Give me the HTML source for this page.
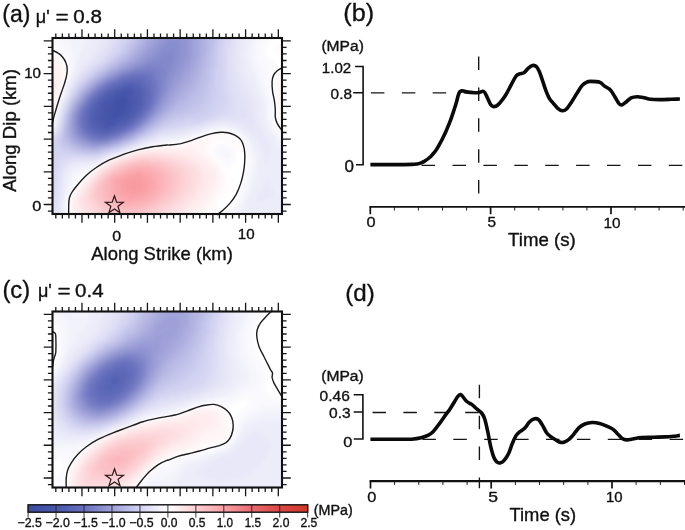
<!DOCTYPE html><html><head><meta charset="utf-8"><title>Figure</title><style>html,body{margin:0;padding:0;background:#fff}svg{display:block}text{font-family:"Liberation Sans", sans-serif;fill:#111;stroke:#111;stroke-width:0.35px;stroke-linejoin:round}</style></head><body>
<svg width="685" height="530" viewBox="0 0 685 530">
<defs><filter id="blur" x="-5%" y="-5%" width="110%" height="110%"><feGaussianBlur stdDeviation="2"/></filter></defs>
<rect width="685" height="530" fill="#fff"/>
<clipPath id="clipa"><rect x="52.5" y="38" width="229.5" height="176"/></clipPath>
<g clip-path="url(#clipa)"><g filter="url(#blur)">
<rect x="40.5" y="26" width="253.5" height="200" fill="#fff"/>
<path fill="#4050a5" d="M115.3 103.8h9.4v3.4h-9.4zM115.3 106.8h6.4v3.4h-6.4z"/>
<path fill="#4151a6" d="M115.3 97.8h12.4v3.4h-12.4zM112.3 100.8h18.4v3.4h-18.4zM109.3 103.8h6.4v3.4h-6.4zM124.3 103.8h3.4v3.4h-3.4zM109.3 106.8h6.4v3.4h-6.4zM121.3 106.8h6.4v3.4h-6.4zM109.3 109.8h15.4v3.4h-15.4zM112.3 112.8h9.4v3.4h-9.4z"/>
<path fill="#4252a7" d="M118.3 94.8h12.4v3.4h-12.4zM112.3 97.8h3.4v3.4h-3.4zM127.3 97.8h3.4v3.4h-3.4zM109.3 100.8h3.4v3.4h-3.4zM130.3 100.8h3.4v3.4h-3.4zM106.3 103.8h3.4v3.4h-3.4zM127.3 103.8h3.4v3.4h-3.4zM103.3 106.8h6.4v3.4h-6.4zM127.3 106.8h3.4v3.4h-3.4zM103.3 109.8h6.4v3.4h-6.4zM124.3 109.8h3.4v3.4h-3.4zM103.3 112.8h9.4v3.4h-9.4zM121.3 112.8h3.4v3.4h-3.4zM106.3 115.8h15.4v3.4h-15.4z"/>
<path fill="#4454a8" d="M121.3 91.8h6.4v3.4h-6.4zM112.3 94.8h6.4v3.4h-6.4zM130.3 94.8h3.4v3.4h-3.4zM109.3 97.8h3.4v3.4h-3.4zM130.3 97.8h3.4v3.4h-3.4zM106.3 100.8h3.4v3.4h-3.4zM103.3 103.8h3.4v3.4h-3.4zM130.3 103.8h3.4v3.4h-3.4zM100.3 106.8h3.4v3.4h-3.4zM130.3 106.8h3.4v3.4h-3.4zM100.3 109.8h3.4v3.4h-3.4zM127.3 109.8h3.4v3.4h-3.4zM100.3 112.8h3.4v3.4h-3.4zM124.3 112.8h3.4v3.4h-3.4zM100.3 115.8h6.4v3.4h-6.4zM121.3 115.8h3.4v3.4h-3.4zM103.3 118.8h15.4v3.4h-15.4z"/>
<path fill="#4555aa" d="M115.3 91.8h6.4v3.4h-6.4zM127.3 91.8h6.4v3.4h-6.4zM109.3 94.8h3.4v3.4h-3.4zM133.3 94.8h3.4v3.4h-3.4zM106.3 97.8h3.4v3.4h-3.4zM133.3 97.8h3.4v3.4h-3.4zM103.3 100.8h3.4v3.4h-3.4zM133.3 100.8h3.4v3.4h-3.4zM100.3 103.8h3.4v3.4h-3.4zM133.3 103.8h3.4v3.4h-3.4zM97.3 109.8h3.4v3.4h-3.4zM130.3 109.8h3.4v3.4h-3.4zM97.3 112.8h3.4v3.4h-3.4zM127.3 112.8h3.4v3.4h-3.4zM97.3 115.8h3.4v3.4h-3.4zM124.3 115.8h3.4v3.4h-3.4zM100.3 118.8h3.4v3.4h-3.4zM118.3 118.8h3.4v3.4h-3.4zM103.3 121.8h12.4v3.4h-12.4z"/>
<path fill="#4757ab" d="M121.3 88.8h12.4v3.4h-12.4zM112.3 91.8h3.4v3.4h-3.4zM133.3 91.8h3.4v3.4h-3.4zM103.3 97.8h3.4v3.4h-3.4zM136.3 97.8h3.4v3.4h-3.4zM100.3 100.8h3.4v3.4h-3.4zM136.3 100.8h3.4v3.4h-3.4zM97.3 106.8h3.4v3.4h-3.4zM133.3 106.8h3.4v3.4h-3.4zM94.3 112.8h3.4v3.4h-3.4zM94.3 115.8h3.4v3.4h-3.4zM97.3 118.8h3.4v3.4h-3.4zM121.3 118.8h3.4v3.4h-3.4zM100.3 121.8h3.4v3.4h-3.4zM115.3 121.8h3.4v3.4h-3.4z"/>
<path fill="#4858ac" d="M115.3 88.8h6.4v3.4h-6.4zM133.3 88.8h3.4v3.4h-3.4zM109.3 91.8h3.4v3.4h-3.4zM136.3 91.8h3.4v3.4h-3.4zM106.3 94.8h3.4v3.4h-3.4zM136.3 94.8h3.4v3.4h-3.4zM97.3 103.8h3.4v3.4h-3.4zM136.3 103.8h3.4v3.4h-3.4zM94.3 106.8h3.4v3.4h-3.4zM94.3 109.8h3.4v3.4h-3.4zM133.3 109.8h3.4v3.4h-3.4zM130.3 112.8h3.4v3.4h-3.4zM127.3 115.8h3.4v3.4h-3.4zM94.3 118.8h3.4v3.4h-3.4zM124.3 118.8h3.4v3.4h-3.4zM97.3 121.8h3.4v3.4h-3.4zM118.3 121.8h3.4v3.4h-3.4zM100.3 124.8h15.4v3.4h-15.4z"/>
<path fill="#4b5aae" d="M121.3 85.8h12.4v3.4h-12.4zM112.3 88.8h3.4v3.4h-3.4zM136.3 88.8h3.4v3.4h-3.4zM103.3 94.8h3.4v3.4h-3.4zM139.3 94.8h3.4v3.4h-3.4zM100.3 97.8h3.4v3.4h-3.4zM139.3 97.8h3.4v3.4h-3.4zM97.3 100.8h3.4v3.4h-3.4zM139.3 100.8h3.4v3.4h-3.4zM136.3 106.8h3.4v3.4h-3.4zM91.3 112.8h3.4v3.4h-3.4zM133.3 112.8h3.4v3.4h-3.4zM91.3 115.8h3.4v3.4h-3.4zM130.3 115.8h3.4v3.4h-3.4zM91.3 118.8h3.4v3.4h-3.4zM94.3 121.8h3.4v3.4h-3.4zM121.3 121.8h3.4v3.4h-3.4zM97.3 124.8h3.4v3.4h-3.4zM115.3 124.8h3.4v3.4h-3.4z"/>
<path fill="#4e5db0" d="M118.3 85.8h3.4v3.4h-3.4zM133.3 85.8h6.4v3.4h-6.4zM139.3 88.8h3.4v3.4h-3.4zM106.3 91.8h3.4v3.4h-3.4zM139.3 91.8h3.4v3.4h-3.4zM94.3 103.8h3.4v3.4h-3.4zM139.3 103.8h3.4v3.4h-3.4zM91.3 106.8h3.4v3.4h-3.4zM91.3 109.8h3.4v3.4h-3.4zM136.3 109.8h3.4v3.4h-3.4zM127.3 118.8h3.4v3.4h-3.4zM91.3 121.8h3.4v3.4h-3.4zM124.3 121.8h3.4v3.4h-3.4zM94.3 124.8h3.4v3.4h-3.4zM118.3 124.8h3.4v3.4h-3.4zM100.3 127.8h12.4v3.4h-12.4z"/>
<path fill="#525fb1" d="M124.3 82.8h12.4v3.4h-12.4zM115.3 85.8h3.4v3.4h-3.4zM139.3 85.8h3.4v3.4h-3.4zM109.3 88.8h3.4v3.4h-3.4zM103.3 91.8h3.4v3.4h-3.4zM142.3 91.8h3.4v3.4h-3.4zM100.3 94.8h3.4v3.4h-3.4zM142.3 94.8h3.4v3.4h-3.4zM97.3 97.8h3.4v3.4h-3.4zM142.3 97.8h3.4v3.4h-3.4zM94.3 100.8h3.4v3.4h-3.4zM142.3 100.8h3.4v3.4h-3.4zM139.3 106.8h3.4v3.4h-3.4zM88.3 112.8h3.4v3.4h-3.4zM88.3 115.8h3.4v3.4h-3.4zM133.3 115.8h3.4v3.4h-3.4zM88.3 118.8h3.4v3.4h-3.4zM91.3 124.8h3.4v3.4h-3.4zM121.3 124.8h3.4v3.4h-3.4zM94.3 127.8h6.4v3.4h-6.4zM112.3 127.8h3.4v3.4h-3.4z"/>
<path fill="#5562b3" d="M121.3 82.8h3.4v3.4h-3.4zM136.3 82.8h3.4v3.4h-3.4zM112.3 85.8h3.4v3.4h-3.4zM106.3 88.8h3.4v3.4h-3.4zM142.3 88.8h3.4v3.4h-3.4zM91.3 103.8h3.4v3.4h-3.4zM142.3 103.8h3.4v3.4h-3.4zM88.3 109.8h3.4v3.4h-3.4zM139.3 109.8h3.4v3.4h-3.4zM136.3 112.8h3.4v3.4h-3.4zM130.3 118.8h3.4v3.4h-3.4zM88.3 121.8h3.4v3.4h-3.4zM127.3 121.8h3.4v3.4h-3.4zM88.3 124.8h3.4v3.4h-3.4zM91.3 127.8h3.4v3.4h-3.4zM115.3 127.8h3.4v3.4h-3.4zM100.3 130.8h9.4v3.4h-9.4z"/>
<path fill="#5864b5" d="M130.3 79.8h6.4v3.4h-6.4zM118.3 82.8h3.4v3.4h-3.4zM139.3 82.8h3.4v3.4h-3.4zM109.3 85.8h3.4v3.4h-3.4zM142.3 85.8h3.4v3.4h-3.4zM145.3 88.8h3.4v3.4h-3.4zM100.3 91.8h3.4v3.4h-3.4zM145.3 91.8h3.4v3.4h-3.4zM97.3 94.8h3.4v3.4h-3.4zM145.3 94.8h3.4v3.4h-3.4zM94.3 97.8h3.4v3.4h-3.4zM145.3 97.8h3.4v3.4h-3.4zM91.3 100.8h3.4v3.4h-3.4zM88.3 106.8h3.4v3.4h-3.4zM142.3 106.8h3.4v3.4h-3.4zM85.3 115.8h3.4v3.4h-3.4zM85.3 118.8h3.4v3.4h-3.4zM124.3 124.8h3.4v3.4h-3.4zM118.3 127.8h3.4v3.4h-3.4zM94.3 130.8h6.4v3.4h-6.4zM109.3 130.8h3.4v3.4h-3.4z"/>
<path fill="#5b66b7" d="M124.3 79.8h6.4v3.4h-6.4zM136.3 79.8h6.4v3.4h-6.4zM115.3 82.8h3.4v3.4h-3.4zM142.3 82.8h3.4v3.4h-3.4zM145.3 85.8h3.4v3.4h-3.4zM103.3 88.8h3.4v3.4h-3.4zM145.3 100.8h3.4v3.4h-3.4zM88.3 103.8h3.4v3.4h-3.4zM85.3 109.8h3.4v3.4h-3.4zM85.3 112.8h3.4v3.4h-3.4zM139.3 112.8h3.4v3.4h-3.4zM136.3 115.8h3.4v3.4h-3.4zM133.3 118.8h3.4v3.4h-3.4zM85.3 121.8h3.4v3.4h-3.4zM130.3 121.8h3.4v3.4h-3.4zM85.3 124.8h3.4v3.4h-3.4zM88.3 127.8h3.4v3.4h-3.4zM121.3 127.8h3.4v3.4h-3.4zM91.3 130.8h3.4v3.4h-3.4zM112.3 130.8h3.4v3.4h-3.4z"/>
<path fill="#5e69b9" d="M118.3 79.8h6.4v3.4h-6.4zM142.3 79.8h3.4v3.4h-3.4zM112.3 82.8h3.4v3.4h-3.4zM145.3 82.8h3.4v3.4h-3.4zM106.3 85.8h3.4v3.4h-3.4zM148.3 85.8h3.4v3.4h-3.4zM148.3 88.8h3.4v3.4h-3.4zM97.3 91.8h3.4v3.4h-3.4zM148.3 91.8h3.4v3.4h-3.4zM94.3 94.8h3.4v3.4h-3.4zM148.3 94.8h3.4v3.4h-3.4zM91.3 97.8h3.4v3.4h-3.4zM148.3 97.8h3.4v3.4h-3.4zM145.3 103.8h3.4v3.4h-3.4zM85.3 106.8h3.4v3.4h-3.4zM142.3 109.8h3.4v3.4h-3.4zM127.3 124.8h3.4v3.4h-3.4zM85.3 127.8h3.4v3.4h-3.4zM88.3 130.8h3.4v3.4h-3.4zM115.3 130.8h3.4v3.4h-3.4zM97.3 133.8h12.4v3.4h-12.4z"/>
<path fill="#626bba" d="M127.3 76.8h18.4v3.4h-18.4zM145.3 79.8h3.4v3.4h-3.4zM109.3 82.8h3.4v3.4h-3.4zM148.3 82.8h3.4v3.4h-3.4zM100.3 88.8h3.4v3.4h-3.4zM88.3 100.8h3.4v3.4h-3.4zM148.3 100.8h3.4v3.4h-3.4zM145.3 106.8h3.4v3.4h-3.4zM82.3 112.8h3.4v3.4h-3.4zM82.3 115.8h3.4v3.4h-3.4zM139.3 115.8h3.4v3.4h-3.4zM82.3 118.8h3.4v3.4h-3.4zM136.3 118.8h3.4v3.4h-3.4zM82.3 121.8h3.4v3.4h-3.4zM133.3 121.8h3.4v3.4h-3.4zM82.3 124.8h3.4v3.4h-3.4zM124.3 127.8h3.4v3.4h-3.4zM118.3 130.8h3.4v3.4h-3.4zM94.3 133.8h3.4v3.4h-3.4zM109.3 133.8h3.4v3.4h-3.4z"/>
<path fill="#656ebc" d="M121.3 76.8h6.4v3.4h-6.4zM145.3 76.8h3.4v3.4h-3.4zM115.3 79.8h3.4v3.4h-3.4zM148.3 79.8h3.4v3.4h-3.4zM151.3 82.8h3.4v3.4h-3.4zM103.3 85.8h3.4v3.4h-3.4zM151.3 85.8h3.4v3.4h-3.4zM151.3 88.8h3.4v3.4h-3.4zM151.3 91.8h3.4v3.4h-3.4zM151.3 94.8h3.4v3.4h-3.4zM85.3 103.8h3.4v3.4h-3.4zM148.3 103.8h3.4v3.4h-3.4zM82.3 109.8h3.4v3.4h-3.4zM145.3 109.8h3.4v3.4h-3.4zM142.3 112.8h3.4v3.4h-3.4zM130.3 124.8h3.4v3.4h-3.4zM82.3 127.8h3.4v3.4h-3.4zM85.3 130.8h3.4v3.4h-3.4zM91.3 133.8h3.4v3.4h-3.4zM112.3 133.8h3.4v3.4h-3.4z"/>
<path fill="#6870be" d="M130.3 73.8h18.4v3.4h-18.4zM118.3 76.8h3.4v3.4h-3.4zM148.3 76.8h3.4v3.4h-3.4zM112.3 79.8h3.4v3.4h-3.4zM151.3 79.8h3.4v3.4h-3.4zM106.3 82.8h3.4v3.4h-3.4zM97.3 88.8h3.4v3.4h-3.4zM94.3 91.8h3.4v3.4h-3.4zM91.3 94.8h3.4v3.4h-3.4zM88.3 97.8h3.4v3.4h-3.4zM151.3 97.8h3.4v3.4h-3.4zM151.3 100.8h3.4v3.4h-3.4zM82.3 106.8h3.4v3.4h-3.4zM148.3 106.8h3.4v3.4h-3.4zM79.3 115.8h3.4v3.4h-3.4zM79.3 118.8h3.4v3.4h-3.4zM79.3 121.8h3.4v3.4h-3.4zM127.3 127.8h3.4v3.4h-3.4zM121.3 130.8h3.4v3.4h-3.4zM88.3 133.8h3.4v3.4h-3.4zM115.3 133.8h3.4v3.4h-3.4zM97.3 136.8h6.4v3.4h-6.4z"/>
<path fill="#6d75c1" d="M124.3 73.8h6.4v3.4h-6.4zM148.3 73.8h6.4v3.4h-6.4zM151.3 76.8h3.4v3.4h-3.4zM109.3 79.8h3.4v3.4h-3.4zM154.3 79.8h3.4v3.4h-3.4zM154.3 82.8h3.4v3.4h-3.4zM100.3 85.8h3.4v3.4h-3.4zM154.3 85.8h3.4v3.4h-3.4zM154.3 88.8h3.4v3.4h-3.4zM154.3 91.8h3.4v3.4h-3.4zM154.3 94.8h3.4v3.4h-3.4zM85.3 100.8h3.4v3.4h-3.4zM151.3 103.8h3.4v3.4h-3.4zM79.3 112.8h3.4v3.4h-3.4zM145.3 112.8h3.4v3.4h-3.4zM142.3 115.8h3.4v3.4h-3.4zM139.3 118.8h3.4v3.4h-3.4zM136.3 121.8h3.4v3.4h-3.4zM79.3 124.8h3.4v3.4h-3.4zM133.3 124.8h3.4v3.4h-3.4zM82.3 130.8h3.4v3.4h-3.4zM85.3 133.8h3.4v3.4h-3.4zM91.3 136.8h6.4v3.4h-6.4zM103.3 136.8h6.4v3.4h-6.4z"/>
<path fill="#737ac3" d="M133.3 70.8h21.4v3.4h-21.4zM121.3 73.8h3.4v3.4h-3.4zM154.3 73.8h3.4v3.4h-3.4zM115.3 76.8h3.4v3.4h-3.4zM154.3 76.8h3.4v3.4h-3.4zM157.3 79.8h3.4v3.4h-3.4zM103.3 82.8h3.4v3.4h-3.4zM157.3 82.8h3.4v3.4h-3.4zM157.3 85.8h3.4v3.4h-3.4zM157.3 88.8h3.4v3.4h-3.4zM91.3 91.8h3.4v3.4h-3.4zM88.3 94.8h3.4v3.4h-3.4zM154.3 97.8h3.4v3.4h-3.4zM82.3 103.8h3.4v3.4h-3.4zM79.3 109.8h3.4v3.4h-3.4zM148.3 109.8h3.4v3.4h-3.4zM79.3 127.8h3.4v3.4h-3.4zM130.3 127.8h3.4v3.4h-3.4zM124.3 130.8h3.4v3.4h-3.4zM118.3 133.8h3.4v3.4h-3.4zM88.3 136.8h3.4v3.4h-3.4zM109.3 136.8h3.4v3.4h-3.4z"/>
<path fill="#787ec6" d="M139.3 67.8h18.4v3.4h-18.4zM127.3 70.8h6.4v3.4h-6.4zM154.3 70.8h6.4v3.4h-6.4zM118.3 73.8h3.4v3.4h-3.4zM157.3 73.8h3.4v3.4h-3.4zM112.3 76.8h3.4v3.4h-3.4zM157.3 76.8h3.4v3.4h-3.4zM106.3 79.8h3.4v3.4h-3.4zM160.3 79.8h3.4v3.4h-3.4zM97.3 85.8h3.4v3.4h-3.4zM94.3 88.8h3.4v3.4h-3.4zM157.3 91.8h3.4v3.4h-3.4zM157.3 94.8h3.4v3.4h-3.4zM85.3 97.8h3.4v3.4h-3.4zM154.3 100.8h3.4v3.4h-3.4zM79.3 106.8h3.4v3.4h-3.4zM151.3 106.8h3.4v3.4h-3.4zM76.3 115.8h3.4v3.4h-3.4zM145.3 115.8h3.4v3.4h-3.4zM76.3 118.8h3.4v3.4h-3.4zM142.3 118.8h3.4v3.4h-3.4zM76.3 121.8h3.4v3.4h-3.4zM139.3 121.8h3.4v3.4h-3.4zM76.3 124.8h3.4v3.4h-3.4zM79.3 130.8h3.4v3.4h-3.4zM82.3 133.8h3.4v3.4h-3.4zM85.3 136.8h3.4v3.4h-3.4zM112.3 136.8h3.4v3.4h-3.4z"/>
<path fill="#7e83c8" d="M157.3 61.8h3.4v3.4h-3.4zM145.3 64.8h18.4v3.4h-18.4zM133.3 67.8h6.4v3.4h-6.4zM157.3 67.8h9.4v3.4h-9.4zM124.3 70.8h3.4v3.4h-3.4zM160.3 70.8h6.4v3.4h-6.4zM160.3 73.8h6.4v3.4h-6.4zM160.3 76.8h6.4v3.4h-6.4zM100.3 82.8h3.4v3.4h-3.4zM160.3 82.8h3.4v3.4h-3.4zM160.3 85.8h3.4v3.4h-3.4zM160.3 88.8h3.4v3.4h-3.4zM160.3 91.8h3.4v3.4h-3.4zM157.3 97.8h3.4v3.4h-3.4zM82.3 100.8h3.4v3.4h-3.4zM154.3 103.8h3.4v3.4h-3.4zM151.3 109.8h3.4v3.4h-3.4zM76.3 112.8h3.4v3.4h-3.4zM148.3 112.8h3.4v3.4h-3.4zM136.3 124.8h3.4v3.4h-3.4zM76.3 127.8h3.4v3.4h-3.4zM127.3 130.8h3.4v3.4h-3.4zM79.3 133.8h3.4v3.4h-3.4zM121.3 133.8h3.4v3.4h-3.4zM115.3 136.8h3.4v3.4h-3.4zM91.3 139.8h15.4v3.4h-15.4z"/>
<path fill="#8388cb" d="M166.3 49.8h9.4v3.4h-9.4zM160.3 52.8h15.4v3.4h-15.4zM157.3 55.8h18.4v3.4h-18.4zM151.3 58.8h24.4v3.4h-24.4zM145.3 61.8h12.4v3.4h-12.4zM160.3 61.8h12.4v3.4h-12.4zM139.3 64.8h6.4v3.4h-6.4zM163.3 64.8h9.4v3.4h-9.4zM130.3 67.8h3.4v3.4h-3.4zM166.3 67.8h3.4v3.4h-3.4zM121.3 70.8h3.4v3.4h-3.4zM166.3 70.8h3.4v3.4h-3.4zM115.3 73.8h3.4v3.4h-3.4zM166.3 73.8h3.4v3.4h-3.4zM109.3 76.8h3.4v3.4h-3.4zM166.3 76.8h3.4v3.4h-3.4zM103.3 79.8h3.4v3.4h-3.4zM163.3 79.8h3.4v3.4h-3.4zM163.3 82.8h3.4v3.4h-3.4zM94.3 85.8h3.4v3.4h-3.4zM163.3 85.8h3.4v3.4h-3.4zM91.3 88.8h3.4v3.4h-3.4zM88.3 91.8h3.4v3.4h-3.4zM85.3 94.8h3.4v3.4h-3.4zM160.3 94.8h3.4v3.4h-3.4zM157.3 100.8h3.4v3.4h-3.4zM79.3 103.8h3.4v3.4h-3.4zM154.3 106.8h3.4v3.4h-3.4zM76.3 109.8h3.4v3.4h-3.4zM133.3 127.8h3.4v3.4h-3.4zM76.3 130.8h3.4v3.4h-3.4zM82.3 136.8h3.4v3.4h-3.4zM88.3 139.8h3.4v3.4h-3.4zM106.3 139.8h3.4v3.4h-3.4z"/>
<path fill="#888dce" d="M166.3 40.8h15.4v3.4h-15.4zM163.3 43.8h18.4v3.4h-18.4zM160.3 46.8h21.4v3.4h-21.4zM157.3 49.8h9.4v3.4h-9.4zM175.3 49.8h6.4v3.4h-6.4zM154.3 52.8h6.4v3.4h-6.4zM175.3 52.8h6.4v3.4h-6.4zM151.3 55.8h6.4v3.4h-6.4zM175.3 55.8h6.4v3.4h-6.4zM145.3 58.8h6.4v3.4h-6.4zM175.3 58.8h6.4v3.4h-6.4zM142.3 61.8h3.4v3.4h-3.4zM172.3 61.8h6.4v3.4h-6.4zM133.3 64.8h6.4v3.4h-6.4zM172.3 64.8h6.4v3.4h-6.4zM127.3 67.8h3.4v3.4h-3.4zM169.3 67.8h6.4v3.4h-6.4zM118.3 70.8h3.4v3.4h-3.4zM169.3 70.8h6.4v3.4h-6.4zM112.3 73.8h3.4v3.4h-3.4zM169.3 73.8h3.4v3.4h-3.4zM106.3 76.8h3.4v3.4h-3.4zM169.3 76.8h3.4v3.4h-3.4zM166.3 79.8h3.4v3.4h-3.4zM97.3 82.8h3.4v3.4h-3.4zM166.3 82.8h3.4v3.4h-3.4zM166.3 85.8h3.4v3.4h-3.4zM163.3 88.8h3.4v3.4h-3.4zM163.3 91.8h3.4v3.4h-3.4zM82.3 97.8h3.4v3.4h-3.4zM160.3 97.8h3.4v3.4h-3.4zM157.3 103.8h3.4v3.4h-3.4zM76.3 106.8h3.4v3.4h-3.4zM151.3 112.8h3.4v3.4h-3.4zM73.3 115.8h3.4v3.4h-3.4zM148.3 115.8h3.4v3.4h-3.4zM73.3 118.8h3.4v3.4h-3.4zM145.3 118.8h3.4v3.4h-3.4zM73.3 121.8h3.4v3.4h-3.4zM142.3 121.8h3.4v3.4h-3.4zM73.3 124.8h3.4v3.4h-3.4zM139.3 124.8h3.4v3.4h-3.4zM73.3 127.8h3.4v3.4h-3.4zM130.3 130.8h3.4v3.4h-3.4zM76.3 133.8h3.4v3.4h-3.4zM124.3 133.8h3.4v3.4h-3.4zM79.3 136.8h3.4v3.4h-3.4zM118.3 136.8h3.4v3.4h-3.4zM85.3 139.8h3.4v3.4h-3.4zM109.3 139.8h3.4v3.4h-3.4z"/>
<path fill="#8e92d0" d="M166.3 28.8h18.4v3.4h-18.4zM166.3 31.8h18.4v3.4h-18.4zM166.3 34.8h18.4v3.4h-18.4zM163.3 37.8h21.4v3.4h-21.4zM160.3 40.8h6.4v3.4h-6.4zM181.3 40.8h6.4v3.4h-6.4zM157.3 43.8h6.4v3.4h-6.4zM181.3 43.8h6.4v3.4h-6.4zM154.3 46.8h6.4v3.4h-6.4zM181.3 46.8h6.4v3.4h-6.4zM154.3 49.8h3.4v3.4h-3.4zM181.3 49.8h6.4v3.4h-6.4zM151.3 52.8h3.4v3.4h-3.4zM181.3 52.8h6.4v3.4h-6.4zM145.3 55.8h6.4v3.4h-6.4zM181.3 55.8h3.4v3.4h-3.4zM142.3 58.8h3.4v3.4h-3.4zM181.3 58.8h3.4v3.4h-3.4zM136.3 61.8h6.4v3.4h-6.4zM178.3 61.8h6.4v3.4h-6.4zM130.3 64.8h3.4v3.4h-3.4zM178.3 64.8h3.4v3.4h-3.4zM124.3 67.8h3.4v3.4h-3.4zM175.3 67.8h3.4v3.4h-3.4zM175.3 70.8h3.4v3.4h-3.4zM172.3 73.8h3.4v3.4h-3.4zM172.3 76.8h3.4v3.4h-3.4zM100.3 79.8h3.4v3.4h-3.4zM169.3 79.8h3.4v3.4h-3.4zM169.3 82.8h3.4v3.4h-3.4zM166.3 88.8h3.4v3.4h-3.4zM163.3 94.8h3.4v3.4h-3.4zM79.3 100.8h3.4v3.4h-3.4zM160.3 100.8h3.4v3.4h-3.4zM157.3 106.8h3.4v3.4h-3.4zM154.3 109.8h3.4v3.4h-3.4zM73.3 112.8h3.4v3.4h-3.4zM136.3 127.8h3.4v3.4h-3.4zM73.3 130.8h3.4v3.4h-3.4zM82.3 139.8h3.4v3.4h-3.4zM112.3 139.8h3.4v3.4h-3.4zM91.3 142.8h9.4v3.4h-9.4z"/>
<path fill="#9396d3" d="M160.3 28.8h6.4v3.4h-6.4zM184.3 28.8h6.4v3.4h-6.4zM160.3 31.8h6.4v3.4h-6.4zM184.3 31.8h6.4v3.4h-6.4zM160.3 34.8h6.4v3.4h-6.4zM184.3 34.8h6.4v3.4h-6.4zM160.3 37.8h3.4v3.4h-3.4zM184.3 37.8h6.4v3.4h-6.4zM157.3 40.8h3.4v3.4h-3.4zM187.3 40.8h3.4v3.4h-3.4zM154.3 43.8h3.4v3.4h-3.4zM187.3 43.8h3.4v3.4h-3.4zM151.3 46.8h3.4v3.4h-3.4zM187.3 46.8h3.4v3.4h-3.4zM148.3 49.8h6.4v3.4h-6.4zM187.3 49.8h3.4v3.4h-3.4zM145.3 52.8h6.4v3.4h-6.4zM187.3 52.8h3.4v3.4h-3.4zM142.3 55.8h3.4v3.4h-3.4zM184.3 55.8h6.4v3.4h-6.4zM139.3 58.8h3.4v3.4h-3.4zM184.3 58.8h3.4v3.4h-3.4zM133.3 61.8h3.4v3.4h-3.4zM184.3 61.8h3.4v3.4h-3.4zM127.3 64.8h3.4v3.4h-3.4zM181.3 64.8h3.4v3.4h-3.4zM121.3 67.8h3.4v3.4h-3.4zM178.3 67.8h6.4v3.4h-6.4zM115.3 70.8h3.4v3.4h-3.4zM178.3 70.8h3.4v3.4h-3.4zM109.3 73.8h3.4v3.4h-3.4zM175.3 73.8h6.4v3.4h-6.4zM103.3 76.8h3.4v3.4h-3.4zM175.3 76.8h3.4v3.4h-3.4zM172.3 79.8h3.4v3.4h-3.4zM94.3 82.8h3.4v3.4h-3.4zM172.3 82.8h3.4v3.4h-3.4zM91.3 85.8h3.4v3.4h-3.4zM169.3 85.8h3.4v3.4h-3.4zM88.3 88.8h3.4v3.4h-3.4zM169.3 88.8h3.4v3.4h-3.4zM85.3 91.8h3.4v3.4h-3.4zM166.3 91.8h3.4v3.4h-3.4zM82.3 94.8h3.4v3.4h-3.4zM166.3 94.8h3.4v3.4h-3.4zM163.3 97.8h3.4v3.4h-3.4zM163.3 100.8h3.4v3.4h-3.4zM76.3 103.8h3.4v3.4h-3.4zM160.3 103.8h3.4v3.4h-3.4zM73.3 109.8h3.4v3.4h-3.4zM154.3 112.8h3.4v3.4h-3.4zM151.3 115.8h3.4v3.4h-3.4zM148.3 118.8h3.4v3.4h-3.4zM70.3 121.8h3.4v3.4h-3.4zM145.3 121.8h3.4v3.4h-3.4zM133.3 130.8h3.4v3.4h-3.4zM73.3 133.8h3.4v3.4h-3.4zM127.3 133.8h3.4v3.4h-3.4zM76.3 136.8h3.4v3.4h-3.4zM121.3 136.8h3.4v3.4h-3.4zM79.3 139.8h3.4v3.4h-3.4zM88.3 142.8h3.4v3.4h-3.4zM100.3 142.8h6.4v3.4h-6.4z"/>
<path fill="#999bd5" d="M157.3 28.8h3.4v3.4h-3.4zM190.3 28.8h3.4v3.4h-3.4zM157.3 31.8h3.4v3.4h-3.4zM190.3 31.8h3.4v3.4h-3.4zM157.3 34.8h3.4v3.4h-3.4zM190.3 34.8h3.4v3.4h-3.4zM154.3 37.8h6.4v3.4h-6.4zM190.3 37.8h3.4v3.4h-3.4zM154.3 40.8h3.4v3.4h-3.4zM190.3 40.8h3.4v3.4h-3.4zM151.3 43.8h3.4v3.4h-3.4zM190.3 43.8h3.4v3.4h-3.4zM148.3 46.8h3.4v3.4h-3.4zM190.3 46.8h3.4v3.4h-3.4zM145.3 49.8h3.4v3.4h-3.4zM190.3 49.8h3.4v3.4h-3.4zM142.3 52.8h3.4v3.4h-3.4zM190.3 52.8h3.4v3.4h-3.4zM139.3 55.8h3.4v3.4h-3.4zM190.3 55.8h3.4v3.4h-3.4zM136.3 58.8h3.4v3.4h-3.4zM187.3 58.8h3.4v3.4h-3.4zM130.3 61.8h3.4v3.4h-3.4zM187.3 61.8h3.4v3.4h-3.4zM124.3 64.8h3.4v3.4h-3.4zM184.3 64.8h6.4v3.4h-6.4zM118.3 67.8h3.4v3.4h-3.4zM184.3 67.8h3.4v3.4h-3.4zM112.3 70.8h3.4v3.4h-3.4zM181.3 70.8h3.4v3.4h-3.4zM106.3 73.8h3.4v3.4h-3.4zM181.3 73.8h3.4v3.4h-3.4zM178.3 76.8h3.4v3.4h-3.4zM97.3 79.8h3.4v3.4h-3.4zM175.3 79.8h6.4v3.4h-6.4zM175.3 82.8h3.4v3.4h-3.4zM172.3 85.8h3.4v3.4h-3.4zM172.3 88.8h3.4v3.4h-3.4zM169.3 91.8h3.4v3.4h-3.4zM79.3 97.8h3.4v3.4h-3.4zM166.3 97.8h3.4v3.4h-3.4zM163.3 103.8h3.4v3.4h-3.4zM160.3 106.8h3.4v3.4h-3.4zM157.3 109.8h3.4v3.4h-3.4zM70.3 115.8h3.4v3.4h-3.4zM70.3 118.8h3.4v3.4h-3.4zM70.3 124.8h3.4v3.4h-3.4zM142.3 124.8h3.4v3.4h-3.4zM70.3 127.8h3.4v3.4h-3.4zM139.3 127.8h3.4v3.4h-3.4zM115.3 139.8h3.4v3.4h-3.4zM85.3 142.8h3.4v3.4h-3.4zM106.3 142.8h3.4v3.4h-3.4z"/>
<path fill="#9ea0d8" d="M154.3 28.8h3.4v3.4h-3.4zM193.3 28.8h3.4v3.4h-3.4zM154.3 31.8h3.4v3.4h-3.4zM193.3 31.8h3.4v3.4h-3.4zM154.3 34.8h3.4v3.4h-3.4zM193.3 34.8h3.4v3.4h-3.4zM151.3 37.8h3.4v3.4h-3.4zM193.3 37.8h3.4v3.4h-3.4zM148.3 40.8h6.4v3.4h-6.4zM193.3 40.8h3.4v3.4h-3.4zM148.3 43.8h3.4v3.4h-3.4zM193.3 43.8h3.4v3.4h-3.4zM145.3 46.8h3.4v3.4h-3.4zM193.3 46.8h3.4v3.4h-3.4zM142.3 49.8h3.4v3.4h-3.4zM193.3 49.8h3.4v3.4h-3.4zM139.3 52.8h3.4v3.4h-3.4zM193.3 52.8h3.4v3.4h-3.4zM136.3 55.8h3.4v3.4h-3.4zM193.3 55.8h3.4v3.4h-3.4zM133.3 58.8h3.4v3.4h-3.4zM190.3 58.8h3.4v3.4h-3.4zM127.3 61.8h3.4v3.4h-3.4zM190.3 61.8h3.4v3.4h-3.4zM121.3 64.8h3.4v3.4h-3.4zM190.3 64.8h3.4v3.4h-3.4zM115.3 67.8h3.4v3.4h-3.4zM187.3 67.8h3.4v3.4h-3.4zM109.3 70.8h3.4v3.4h-3.4zM184.3 70.8h6.4v3.4h-6.4zM184.3 73.8h3.4v3.4h-3.4zM100.3 76.8h3.4v3.4h-3.4zM181.3 76.8h3.4v3.4h-3.4zM181.3 79.8h3.4v3.4h-3.4zM178.3 82.8h3.4v3.4h-3.4zM88.3 85.8h3.4v3.4h-3.4zM175.3 85.8h3.4v3.4h-3.4zM85.3 88.8h3.4v3.4h-3.4zM175.3 88.8h3.4v3.4h-3.4zM82.3 91.8h3.4v3.4h-3.4zM172.3 91.8h3.4v3.4h-3.4zM169.3 94.8h3.4v3.4h-3.4zM169.3 97.8h3.4v3.4h-3.4zM76.3 100.8h3.4v3.4h-3.4zM166.3 100.8h3.4v3.4h-3.4zM73.3 106.8h3.4v3.4h-3.4zM160.3 109.8h3.4v3.4h-3.4zM70.3 112.8h3.4v3.4h-3.4zM157.3 112.8h3.4v3.4h-3.4zM154.3 115.8h3.4v3.4h-3.4zM151.3 118.8h3.4v3.4h-3.4zM148.3 121.8h3.4v3.4h-3.4zM70.3 130.8h3.4v3.4h-3.4zM136.3 130.8h3.4v3.4h-3.4zM70.3 133.8h3.4v3.4h-3.4zM130.3 133.8h3.4v3.4h-3.4zM73.3 136.8h3.4v3.4h-3.4zM124.3 136.8h3.4v3.4h-3.4zM76.3 139.8h3.4v3.4h-3.4zM118.3 139.8h3.4v3.4h-3.4zM82.3 142.8h3.4v3.4h-3.4zM109.3 142.8h3.4v3.4h-3.4z"/>
<path fill="#a3a5db" d="M151.3 28.8h3.4v3.4h-3.4zM196.3 28.8h3.4v3.4h-3.4zM151.3 31.8h3.4v3.4h-3.4zM196.3 31.8h3.4v3.4h-3.4zM151.3 34.8h3.4v3.4h-3.4zM196.3 34.8h3.4v3.4h-3.4zM148.3 37.8h3.4v3.4h-3.4zM196.3 37.8h3.4v3.4h-3.4zM145.3 40.8h3.4v3.4h-3.4zM196.3 40.8h3.4v3.4h-3.4zM145.3 43.8h3.4v3.4h-3.4zM196.3 43.8h3.4v3.4h-3.4zM142.3 46.8h3.4v3.4h-3.4zM196.3 46.8h3.4v3.4h-3.4zM139.3 49.8h3.4v3.4h-3.4zM196.3 49.8h3.4v3.4h-3.4zM136.3 52.8h3.4v3.4h-3.4zM196.3 52.8h3.4v3.4h-3.4zM133.3 55.8h3.4v3.4h-3.4zM196.3 55.8h3.4v3.4h-3.4zM130.3 58.8h3.4v3.4h-3.4zM193.3 58.8h3.4v3.4h-3.4zM124.3 61.8h3.4v3.4h-3.4zM193.3 61.8h3.4v3.4h-3.4zM118.3 64.8h3.4v3.4h-3.4zM193.3 64.8h3.4v3.4h-3.4zM190.3 67.8h3.4v3.4h-3.4zM190.3 70.8h3.4v3.4h-3.4zM103.3 73.8h3.4v3.4h-3.4zM187.3 73.8h3.4v3.4h-3.4zM184.3 76.8h6.4v3.4h-6.4zM94.3 79.8h3.4v3.4h-3.4zM184.3 79.8h3.4v3.4h-3.4zM91.3 82.8h3.4v3.4h-3.4zM181.3 82.8h3.4v3.4h-3.4zM178.3 85.8h6.4v3.4h-6.4zM178.3 88.8h3.4v3.4h-3.4zM175.3 91.8h3.4v3.4h-3.4zM79.3 94.8h3.4v3.4h-3.4zM172.3 94.8h3.4v3.4h-3.4zM172.3 97.8h3.4v3.4h-3.4zM169.3 100.8h3.4v3.4h-3.4zM73.3 103.8h3.4v3.4h-3.4zM166.3 103.8h3.4v3.4h-3.4zM163.3 106.8h3.4v3.4h-3.4zM70.3 109.8h3.4v3.4h-3.4zM67.3 124.8h3.4v3.4h-3.4zM145.3 124.8h3.4v3.4h-3.4zM142.3 127.8h3.4v3.4h-3.4zM127.3 136.8h3.4v3.4h-3.4zM73.3 139.8h3.4v3.4h-3.4zM79.3 142.8h3.4v3.4h-3.4zM88.3 145.8h12.4v3.4h-12.4z"/>
<path fill="#a8aadd" d="M148.3 28.8h3.4v3.4h-3.4zM199.3 28.8h3.4v3.4h-3.4zM148.3 31.8h3.4v3.4h-3.4zM199.3 31.8h3.4v3.4h-3.4zM148.3 34.8h3.4v3.4h-3.4zM199.3 34.8h3.4v3.4h-3.4zM145.3 37.8h3.4v3.4h-3.4zM199.3 37.8h3.4v3.4h-3.4zM199.3 40.8h3.4v3.4h-3.4zM142.3 43.8h3.4v3.4h-3.4zM199.3 43.8h3.4v3.4h-3.4zM139.3 46.8h3.4v3.4h-3.4zM199.3 46.8h3.4v3.4h-3.4zM136.3 49.8h3.4v3.4h-3.4zM199.3 49.8h3.4v3.4h-3.4zM133.3 52.8h3.4v3.4h-3.4zM199.3 52.8h3.4v3.4h-3.4zM130.3 55.8h3.4v3.4h-3.4zM199.3 55.8h3.4v3.4h-3.4zM127.3 58.8h3.4v3.4h-3.4zM196.3 58.8h3.4v3.4h-3.4zM121.3 61.8h3.4v3.4h-3.4zM196.3 61.8h3.4v3.4h-3.4zM196.3 64.8h3.4v3.4h-3.4zM112.3 67.8h3.4v3.4h-3.4zM193.3 67.8h3.4v3.4h-3.4zM106.3 70.8h3.4v3.4h-3.4zM193.3 70.8h3.4v3.4h-3.4zM190.3 73.8h3.4v3.4h-3.4zM97.3 76.8h3.4v3.4h-3.4zM190.3 76.8h3.4v3.4h-3.4zM187.3 79.8h3.4v3.4h-3.4zM184.3 82.8h6.4v3.4h-6.4zM184.3 85.8h3.4v3.4h-3.4zM181.3 88.8h3.4v3.4h-3.4zM178.3 91.8h3.4v3.4h-3.4zM175.3 94.8h6.4v3.4h-6.4zM76.3 97.8h3.4v3.4h-3.4zM175.3 97.8h3.4v3.4h-3.4zM172.3 100.8h3.4v3.4h-3.4zM169.3 103.8h3.4v3.4h-3.4zM166.3 106.8h3.4v3.4h-3.4zM163.3 109.8h3.4v3.4h-3.4zM160.3 112.8h3.4v3.4h-3.4zM157.3 115.8h3.4v3.4h-3.4zM67.3 118.8h3.4v3.4h-3.4zM154.3 118.8h3.4v3.4h-3.4zM67.3 121.8h3.4v3.4h-3.4zM151.3 121.8h3.4v3.4h-3.4zM67.3 127.8h3.4v3.4h-3.4zM67.3 130.8h3.4v3.4h-3.4zM139.3 130.8h3.4v3.4h-3.4zM67.3 133.8h3.4v3.4h-3.4zM133.3 133.8h3.4v3.4h-3.4zM70.3 136.8h3.4v3.4h-3.4zM121.3 139.8h3.4v3.4h-3.4zM76.3 142.8h3.4v3.4h-3.4zM112.3 142.8h3.4v3.4h-3.4zM82.3 145.8h6.4v3.4h-6.4zM100.3 145.8h3.4v3.4h-3.4z"/>
<path fill="#aeafe0" d="M145.3 28.8h3.4v3.4h-3.4zM202.3 28.8h3.4v3.4h-3.4zM145.3 31.8h3.4v3.4h-3.4zM202.3 31.8h3.4v3.4h-3.4zM145.3 34.8h3.4v3.4h-3.4zM202.3 34.8h3.4v3.4h-3.4zM142.3 37.8h3.4v3.4h-3.4zM202.3 37.8h3.4v3.4h-3.4zM142.3 40.8h3.4v3.4h-3.4zM202.3 40.8h3.4v3.4h-3.4zM139.3 43.8h3.4v3.4h-3.4zM202.3 43.8h3.4v3.4h-3.4zM136.3 46.8h3.4v3.4h-3.4zM202.3 46.8h3.4v3.4h-3.4zM133.3 49.8h3.4v3.4h-3.4zM202.3 49.8h3.4v3.4h-3.4zM130.3 52.8h3.4v3.4h-3.4zM202.3 52.8h3.4v3.4h-3.4zM127.3 55.8h3.4v3.4h-3.4zM124.3 58.8h3.4v3.4h-3.4zM199.3 58.8h3.4v3.4h-3.4zM118.3 61.8h3.4v3.4h-3.4zM199.3 61.8h3.4v3.4h-3.4zM115.3 64.8h3.4v3.4h-3.4zM199.3 64.8h3.4v3.4h-3.4zM109.3 67.8h3.4v3.4h-3.4zM196.3 67.8h3.4v3.4h-3.4zM196.3 70.8h3.4v3.4h-3.4zM100.3 73.8h3.4v3.4h-3.4zM193.3 73.8h6.4v3.4h-6.4zM193.3 76.8h3.4v3.4h-3.4zM91.3 79.8h3.4v3.4h-3.4zM190.3 79.8h6.4v3.4h-6.4zM88.3 82.8h3.4v3.4h-3.4zM190.3 82.8h3.4v3.4h-3.4zM85.3 85.8h3.4v3.4h-3.4zM187.3 85.8h3.4v3.4h-3.4zM82.3 88.8h3.4v3.4h-3.4zM184.3 88.8h6.4v3.4h-6.4zM79.3 91.8h3.4v3.4h-3.4zM181.3 91.8h6.4v3.4h-6.4zM181.3 94.8h3.4v3.4h-3.4zM178.3 97.8h3.4v3.4h-3.4zM73.3 100.8h3.4v3.4h-3.4zM175.3 100.8h3.4v3.4h-3.4zM172.3 103.8h3.4v3.4h-3.4zM70.3 106.8h3.4v3.4h-3.4zM169.3 106.8h3.4v3.4h-3.4zM166.3 109.8h3.4v3.4h-3.4zM163.3 112.8h3.4v3.4h-3.4zM67.3 115.8h3.4v3.4h-3.4zM160.3 115.8h3.4v3.4h-3.4zM148.3 124.8h3.4v3.4h-3.4zM67.3 136.8h3.4v3.4h-3.4zM130.3 136.8h3.4v3.4h-3.4zM70.3 139.8h3.4v3.4h-3.4zM73.3 142.8h3.4v3.4h-3.4zM115.3 142.8h3.4v3.4h-3.4zM79.3 145.8h3.4v3.4h-3.4zM103.3 145.8h6.4v3.4h-6.4z"/>
<path fill="#b3b4e2" d="M142.3 28.8h3.4v3.4h-3.4zM205.3 28.8h3.4v3.4h-3.4zM142.3 31.8h3.4v3.4h-3.4zM205.3 31.8h3.4v3.4h-3.4zM142.3 34.8h3.4v3.4h-3.4zM205.3 34.8h3.4v3.4h-3.4zM139.3 37.8h3.4v3.4h-3.4zM205.3 37.8h3.4v3.4h-3.4zM139.3 40.8h3.4v3.4h-3.4zM205.3 40.8h3.4v3.4h-3.4zM136.3 43.8h3.4v3.4h-3.4zM205.3 43.8h3.4v3.4h-3.4zM133.3 46.8h3.4v3.4h-3.4zM205.3 46.8h3.4v3.4h-3.4zM130.3 49.8h3.4v3.4h-3.4zM205.3 49.8h3.4v3.4h-3.4zM205.3 52.8h3.4v3.4h-3.4zM124.3 55.8h3.4v3.4h-3.4zM202.3 55.8h3.4v3.4h-3.4zM121.3 58.8h3.4v3.4h-3.4zM202.3 58.8h3.4v3.4h-3.4zM202.3 61.8h3.4v3.4h-3.4zM112.3 64.8h3.4v3.4h-3.4zM202.3 64.8h3.4v3.4h-3.4zM106.3 67.8h3.4v3.4h-3.4zM199.3 67.8h3.4v3.4h-3.4zM103.3 70.8h3.4v3.4h-3.4zM199.3 70.8h3.4v3.4h-3.4zM97.3 73.8h3.4v3.4h-3.4zM199.3 73.8h3.4v3.4h-3.4zM94.3 76.8h3.4v3.4h-3.4zM196.3 76.8h3.4v3.4h-3.4zM196.3 79.8h3.4v3.4h-3.4zM193.3 82.8h3.4v3.4h-3.4zM190.3 85.8h6.4v3.4h-6.4zM190.3 88.8h3.4v3.4h-3.4zM187.3 91.8h3.4v3.4h-3.4zM76.3 94.8h3.4v3.4h-3.4zM184.3 94.8h6.4v3.4h-6.4zM181.3 97.8h6.4v3.4h-6.4zM178.3 100.8h3.4v3.4h-3.4zM70.3 103.8h3.4v3.4h-3.4zM175.3 103.8h3.4v3.4h-3.4zM172.3 106.8h3.4v3.4h-3.4zM169.3 109.8h3.4v3.4h-3.4zM67.3 112.8h3.4v3.4h-3.4zM166.3 112.8h3.4v3.4h-3.4zM157.3 118.8h3.4v3.4h-3.4zM154.3 121.8h3.4v3.4h-3.4zM64.3 127.8h3.4v3.4h-3.4zM145.3 127.8h3.4v3.4h-3.4zM64.3 130.8h3.4v3.4h-3.4zM142.3 130.8h3.4v3.4h-3.4zM64.3 133.8h3.4v3.4h-3.4zM136.3 133.8h3.4v3.4h-3.4zM67.3 139.8h3.4v3.4h-3.4zM124.3 139.8h3.4v3.4h-3.4zM70.3 142.8h3.4v3.4h-3.4zM118.3 142.8h3.4v3.4h-3.4zM76.3 145.8h3.4v3.4h-3.4zM88.3 148.8h9.4v3.4h-9.4z"/>
<path fill="#b8b9e5" d="M139.3 28.8h3.4v3.4h-3.4zM208.3 28.8h3.4v3.4h-3.4zM139.3 31.8h3.4v3.4h-3.4zM208.3 31.8h3.4v3.4h-3.4zM139.3 34.8h3.4v3.4h-3.4zM208.3 34.8h3.4v3.4h-3.4zM136.3 37.8h3.4v3.4h-3.4zM208.3 37.8h3.4v3.4h-3.4zM136.3 40.8h3.4v3.4h-3.4zM208.3 40.8h3.4v3.4h-3.4zM133.3 43.8h3.4v3.4h-3.4zM208.3 43.8h3.4v3.4h-3.4zM130.3 46.8h3.4v3.4h-3.4zM208.3 46.8h3.4v3.4h-3.4zM208.3 49.8h3.4v3.4h-3.4zM127.3 52.8h3.4v3.4h-3.4zM205.3 55.8h3.4v3.4h-3.4zM118.3 58.8h3.4v3.4h-3.4zM205.3 58.8h3.4v3.4h-3.4zM115.3 61.8h3.4v3.4h-3.4zM205.3 61.8h3.4v3.4h-3.4zM109.3 64.8h3.4v3.4h-3.4zM205.3 64.8h3.4v3.4h-3.4zM202.3 67.8h3.4v3.4h-3.4zM100.3 70.8h3.4v3.4h-3.4zM202.3 70.8h3.4v3.4h-3.4zM202.3 73.8h3.4v3.4h-3.4zM199.3 76.8h3.4v3.4h-3.4zM88.3 79.8h3.4v3.4h-3.4zM199.3 79.8h3.4v3.4h-3.4zM85.3 82.8h3.4v3.4h-3.4zM196.3 82.8h6.4v3.4h-6.4zM82.3 85.8h3.4v3.4h-3.4zM196.3 85.8h3.4v3.4h-3.4zM79.3 88.8h3.4v3.4h-3.4zM193.3 88.8h6.4v3.4h-6.4zM190.3 91.8h6.4v3.4h-6.4zM190.3 94.8h3.4v3.4h-3.4zM73.3 97.8h3.4v3.4h-3.4zM187.3 97.8h3.4v3.4h-3.4zM181.3 100.8h6.4v3.4h-6.4zM178.3 103.8h6.4v3.4h-6.4zM175.3 106.8h6.4v3.4h-6.4zM67.3 109.8h3.4v3.4h-3.4zM172.3 109.8h3.4v3.4h-3.4zM169.3 112.8h3.4v3.4h-3.4zM163.3 115.8h3.4v3.4h-3.4zM160.3 118.8h3.4v3.4h-3.4zM64.3 121.8h3.4v3.4h-3.4zM64.3 124.8h3.4v3.4h-3.4zM151.3 124.8h3.4v3.4h-3.4zM148.3 127.8h3.4v3.4h-3.4zM64.3 136.8h3.4v3.4h-3.4zM133.3 136.8h3.4v3.4h-3.4zM127.3 139.8h3.4v3.4h-3.4zM73.3 145.8h3.4v3.4h-3.4zM109.3 145.8h3.4v3.4h-3.4zM82.3 148.8h6.4v3.4h-6.4zM97.3 148.8h3.4v3.4h-3.4z"/>
<path fill="#bdbee8" d="M136.3 28.8h3.4v3.4h-3.4zM211.3 28.8h3.4v3.4h-3.4zM136.3 31.8h3.4v3.4h-3.4zM211.3 31.8h3.4v3.4h-3.4zM136.3 34.8h3.4v3.4h-3.4zM211.3 34.8h3.4v3.4h-3.4zM211.3 37.8h3.4v3.4h-3.4zM133.3 40.8h3.4v3.4h-3.4zM211.3 40.8h3.4v3.4h-3.4zM130.3 43.8h3.4v3.4h-3.4zM211.3 43.8h3.4v3.4h-3.4zM127.3 46.8h3.4v3.4h-3.4zM211.3 46.8h3.4v3.4h-3.4zM127.3 49.8h3.4v3.4h-3.4zM124.3 52.8h3.4v3.4h-3.4zM208.3 52.8h3.4v3.4h-3.4zM121.3 55.8h3.4v3.4h-3.4zM208.3 55.8h3.4v3.4h-3.4zM115.3 58.8h3.4v3.4h-3.4zM208.3 58.8h3.4v3.4h-3.4zM112.3 61.8h3.4v3.4h-3.4zM208.3 61.8h3.4v3.4h-3.4zM208.3 64.8h3.4v3.4h-3.4zM103.3 67.8h3.4v3.4h-3.4zM205.3 67.8h3.4v3.4h-3.4zM205.3 70.8h3.4v3.4h-3.4zM94.3 73.8h3.4v3.4h-3.4zM205.3 73.8h3.4v3.4h-3.4zM91.3 76.8h3.4v3.4h-3.4zM202.3 76.8h6.4v3.4h-6.4zM202.3 79.8h3.4v3.4h-3.4zM202.3 82.8h3.4v3.4h-3.4zM199.3 85.8h6.4v3.4h-6.4zM199.3 88.8h3.4v3.4h-3.4zM76.3 91.8h3.4v3.4h-3.4zM196.3 91.8h6.4v3.4h-6.4zM193.3 94.8h6.4v3.4h-6.4zM190.3 97.8h6.4v3.4h-6.4zM70.3 100.8h3.4v3.4h-3.4zM187.3 100.8h9.4v3.4h-9.4zM184.3 103.8h6.4v3.4h-6.4zM67.3 106.8h3.4v3.4h-3.4zM181.3 106.8h6.4v3.4h-6.4zM175.3 109.8h6.4v3.4h-6.4zM172.3 112.8h3.4v3.4h-3.4zM64.3 115.8h3.4v3.4h-3.4zM166.3 115.8h3.4v3.4h-3.4zM64.3 118.8h3.4v3.4h-3.4zM163.3 118.8h3.4v3.4h-3.4zM157.3 121.8h3.4v3.4h-3.4zM154.3 124.8h3.4v3.4h-3.4zM145.3 130.8h3.4v3.4h-3.4zM61.3 133.8h3.4v3.4h-3.4zM139.3 133.8h3.4v3.4h-3.4zM61.3 136.8h3.4v3.4h-3.4zM64.3 139.8h3.4v3.4h-3.4zM67.3 142.8h3.4v3.4h-3.4zM121.3 142.8h3.4v3.4h-3.4zM70.3 145.8h3.4v3.4h-3.4zM112.3 145.8h3.4v3.4h-3.4zM76.3 148.8h6.4v3.4h-6.4zM100.3 148.8h3.4v3.4h-3.4z"/>
<path fill="#c2c3ea" d="M133.3 28.8h3.4v3.4h-3.4zM214.3 28.8h3.4v3.4h-3.4zM133.3 31.8h3.4v3.4h-3.4zM214.3 31.8h3.4v3.4h-3.4zM133.3 34.8h3.4v3.4h-3.4zM214.3 34.8h3.4v3.4h-3.4zM133.3 37.8h3.4v3.4h-3.4zM214.3 37.8h3.4v3.4h-3.4zM130.3 40.8h3.4v3.4h-3.4zM214.3 40.8h3.4v3.4h-3.4zM127.3 43.8h3.4v3.4h-3.4zM214.3 43.8h3.4v3.4h-3.4zM124.3 49.8h3.4v3.4h-3.4zM211.3 49.8h3.4v3.4h-3.4zM121.3 52.8h3.4v3.4h-3.4zM211.3 52.8h3.4v3.4h-3.4zM118.3 55.8h3.4v3.4h-3.4zM211.3 55.8h3.4v3.4h-3.4zM211.3 58.8h3.4v3.4h-3.4zM109.3 61.8h3.4v3.4h-3.4zM211.3 61.8h3.4v3.4h-3.4zM106.3 64.8h3.4v3.4h-3.4zM211.3 64.8h3.4v3.4h-3.4zM100.3 67.8h3.4v3.4h-3.4zM208.3 67.8h3.4v3.4h-3.4zM97.3 70.8h3.4v3.4h-3.4zM208.3 70.8h3.4v3.4h-3.4zM208.3 73.8h3.4v3.4h-3.4zM88.3 76.8h3.4v3.4h-3.4zM208.3 76.8h3.4v3.4h-3.4zM85.3 79.8h3.4v3.4h-3.4zM205.3 79.8h6.4v3.4h-6.4zM82.3 82.8h3.4v3.4h-3.4zM205.3 82.8h3.4v3.4h-3.4zM79.3 85.8h3.4v3.4h-3.4zM205.3 85.8h3.4v3.4h-3.4zM202.3 88.8h6.4v3.4h-6.4zM202.3 91.8h6.4v3.4h-6.4zM73.3 94.8h3.4v3.4h-3.4zM199.3 94.8h6.4v3.4h-6.4zM196.3 97.8h9.4v3.4h-9.4zM196.3 100.8h6.4v3.4h-6.4zM190.3 103.8h9.4v3.4h-9.4zM187.3 106.8h9.4v3.4h-9.4zM181.3 109.8h9.4v3.4h-9.4zM64.3 112.8h3.4v3.4h-3.4zM175.3 112.8h9.4v3.4h-9.4zM169.3 115.8h6.4v3.4h-6.4zM166.3 118.8h3.4v3.4h-3.4zM160.3 121.8h3.4v3.4h-3.4zM157.3 124.8h3.4v3.4h-3.4zM61.3 127.8h3.4v3.4h-3.4zM151.3 127.8h3.4v3.4h-3.4zM61.3 130.8h3.4v3.4h-3.4zM142.3 133.8h3.4v3.4h-3.4zM136.3 136.8h3.4v3.4h-3.4zM61.3 139.8h3.4v3.4h-3.4zM130.3 139.8h3.4v3.4h-3.4zM61.3 142.8h6.4v3.4h-6.4zM67.3 145.8h3.4v3.4h-3.4zM115.3 145.8h3.4v3.4h-3.4zM73.3 148.8h3.4v3.4h-3.4zM103.3 148.8h3.4v3.4h-3.4z"/>
<path fill="#c8c8ed" d="M130.3 28.8h3.4v3.4h-3.4zM217.3 28.8h3.4v3.4h-3.4zM130.3 31.8h3.4v3.4h-3.4zM217.3 31.8h3.4v3.4h-3.4zM130.3 34.8h3.4v3.4h-3.4zM217.3 34.8h3.4v3.4h-3.4zM130.3 37.8h3.4v3.4h-3.4zM217.3 37.8h3.4v3.4h-3.4zM127.3 40.8h3.4v3.4h-3.4zM217.3 40.8h3.4v3.4h-3.4zM124.3 43.8h3.4v3.4h-3.4zM124.3 46.8h3.4v3.4h-3.4zM214.3 46.8h3.4v3.4h-3.4zM121.3 49.8h3.4v3.4h-3.4zM214.3 49.8h3.4v3.4h-3.4zM118.3 52.8h3.4v3.4h-3.4zM214.3 52.8h3.4v3.4h-3.4zM115.3 55.8h3.4v3.4h-3.4zM214.3 55.8h3.4v3.4h-3.4zM112.3 58.8h3.4v3.4h-3.4zM214.3 58.8h3.4v3.4h-3.4zM106.3 61.8h3.4v3.4h-3.4zM214.3 61.8h3.4v3.4h-3.4zM103.3 64.8h3.4v3.4h-3.4zM214.3 64.8h3.4v3.4h-3.4zM211.3 67.8h3.4v3.4h-3.4zM94.3 70.8h3.4v3.4h-3.4zM211.3 70.8h3.4v3.4h-3.4zM91.3 73.8h3.4v3.4h-3.4zM211.3 73.8h3.4v3.4h-3.4zM211.3 76.8h3.4v3.4h-3.4zM211.3 79.8h3.4v3.4h-3.4zM208.3 82.8h6.4v3.4h-6.4zM208.3 85.8h6.4v3.4h-6.4zM76.3 88.8h3.4v3.4h-3.4zM208.3 88.8h3.4v3.4h-3.4zM73.3 91.8h3.4v3.4h-3.4zM208.3 91.8h3.4v3.4h-3.4zM205.3 94.8h6.4v3.4h-6.4zM70.3 97.8h3.4v3.4h-3.4zM205.3 97.8h6.4v3.4h-6.4zM202.3 100.8h6.4v3.4h-6.4zM67.3 103.8h3.4v3.4h-3.4zM199.3 103.8h6.4v3.4h-6.4zM196.3 106.8h9.4v3.4h-9.4zM190.3 109.8h12.4v3.4h-12.4zM184.3 112.8h12.4v3.4h-12.4zM175.3 115.8h9.4v3.4h-9.4zM169.3 118.8h6.4v3.4h-6.4zM163.3 121.8h6.4v3.4h-6.4zM61.3 124.8h3.4v3.4h-3.4zM160.3 124.8h3.4v3.4h-3.4zM154.3 127.8h3.4v3.4h-3.4zM148.3 130.8h3.4v3.4h-3.4zM58.3 136.8h3.4v3.4h-3.4zM58.3 139.8h3.4v3.4h-3.4zM58.3 142.8h3.4v3.4h-3.4zM124.3 142.8h3.4v3.4h-3.4zM61.3 145.8h6.4v3.4h-6.4zM67.3 148.8h6.4v3.4h-6.4zM106.3 148.8h3.4v3.4h-3.4zM79.3 151.8h21.4v3.4h-21.4z"/>
<path fill="#cdcdef" d="M127.3 28.8h3.4v3.4h-3.4zM220.3 28.8h3.4v3.4h-3.4zM127.3 31.8h3.4v3.4h-3.4zM220.3 31.8h3.4v3.4h-3.4zM127.3 34.8h3.4v3.4h-3.4zM220.3 34.8h3.4v3.4h-3.4zM127.3 37.8h3.4v3.4h-3.4zM220.3 37.8h3.4v3.4h-3.4zM124.3 40.8h3.4v3.4h-3.4zM121.3 43.8h3.4v3.4h-3.4zM217.3 43.8h3.4v3.4h-3.4zM121.3 46.8h3.4v3.4h-3.4zM217.3 46.8h3.4v3.4h-3.4zM118.3 49.8h3.4v3.4h-3.4zM217.3 49.8h3.4v3.4h-3.4zM115.3 52.8h3.4v3.4h-3.4zM217.3 52.8h3.4v3.4h-3.4zM112.3 55.8h3.4v3.4h-3.4zM217.3 55.8h3.4v3.4h-3.4zM109.3 58.8h3.4v3.4h-3.4zM217.3 58.8h3.4v3.4h-3.4zM103.3 61.8h3.4v3.4h-3.4zM217.3 61.8h3.4v3.4h-3.4zM100.3 64.8h3.4v3.4h-3.4zM217.3 64.8h3.4v3.4h-3.4zM97.3 67.8h3.4v3.4h-3.4zM214.3 67.8h6.4v3.4h-6.4zM214.3 70.8h3.4v3.4h-3.4zM88.3 73.8h3.4v3.4h-3.4zM214.3 73.8h3.4v3.4h-3.4zM85.3 76.8h3.4v3.4h-3.4zM214.3 76.8h3.4v3.4h-3.4zM82.3 79.8h3.4v3.4h-3.4zM214.3 79.8h3.4v3.4h-3.4zM79.3 82.8h3.4v3.4h-3.4zM214.3 82.8h3.4v3.4h-3.4zM76.3 85.8h3.4v3.4h-3.4zM214.3 85.8h3.4v3.4h-3.4zM211.3 88.8h6.4v3.4h-6.4zM211.3 91.8h6.4v3.4h-6.4zM70.3 94.8h3.4v3.4h-3.4zM211.3 94.8h6.4v3.4h-6.4zM211.3 97.8h6.4v3.4h-6.4zM67.3 100.8h3.4v3.4h-3.4zM208.3 100.8h6.4v3.4h-6.4zM205.3 103.8h9.4v3.4h-9.4zM205.3 106.8h6.4v3.4h-6.4zM64.3 109.8h3.4v3.4h-3.4zM202.3 109.8h9.4v3.4h-9.4zM196.3 112.8h12.4v3.4h-12.4zM184.3 115.8h18.4v3.4h-18.4zM61.3 118.8h3.4v3.4h-3.4zM175.3 118.8h12.4v3.4h-12.4zM61.3 121.8h3.4v3.4h-3.4zM169.3 121.8h6.4v3.4h-6.4zM163.3 124.8h3.4v3.4h-3.4zM157.3 127.8h3.4v3.4h-3.4zM151.3 130.8h3.4v3.4h-3.4zM58.3 133.8h3.4v3.4h-3.4zM145.3 133.8h3.4v3.4h-3.4zM139.3 136.8h3.4v3.4h-3.4zM55.3 139.8h3.4v3.4h-3.4zM133.3 139.8h3.4v3.4h-3.4zM55.3 142.8h3.4v3.4h-3.4zM127.3 142.8h3.4v3.4h-3.4zM58.3 145.8h3.4v3.4h-3.4zM118.3 145.8h3.4v3.4h-3.4zM61.3 148.8h6.4v3.4h-6.4zM109.3 148.8h3.4v3.4h-3.4zM70.3 151.8h9.4v3.4h-9.4zM100.3 151.8h3.4v3.4h-3.4z"/>
<path fill="#d2d2f2" d="M124.3 28.8h3.4v3.4h-3.4zM223.3 28.8h3.4v3.4h-3.4zM124.3 31.8h3.4v3.4h-3.4zM223.3 31.8h3.4v3.4h-3.4zM124.3 34.8h3.4v3.4h-3.4zM223.3 34.8h3.4v3.4h-3.4zM121.3 37.8h6.4v3.4h-6.4zM223.3 37.8h3.4v3.4h-3.4zM121.3 40.8h3.4v3.4h-3.4zM220.3 40.8h3.4v3.4h-3.4zM118.3 43.8h3.4v3.4h-3.4zM220.3 43.8h3.4v3.4h-3.4zM118.3 46.8h3.4v3.4h-3.4zM220.3 46.8h3.4v3.4h-3.4zM115.3 49.8h3.4v3.4h-3.4zM220.3 49.8h3.4v3.4h-3.4zM112.3 52.8h3.4v3.4h-3.4zM220.3 52.8h3.4v3.4h-3.4zM109.3 55.8h3.4v3.4h-3.4zM220.3 55.8h3.4v3.4h-3.4zM106.3 58.8h3.4v3.4h-3.4zM220.3 58.8h3.4v3.4h-3.4zM220.3 61.8h3.4v3.4h-3.4zM97.3 64.8h3.4v3.4h-3.4zM220.3 64.8h3.4v3.4h-3.4zM94.3 67.8h3.4v3.4h-3.4zM220.3 67.8h3.4v3.4h-3.4zM91.3 70.8h3.4v3.4h-3.4zM217.3 70.8h6.4v3.4h-6.4zM217.3 73.8h6.4v3.4h-6.4zM82.3 76.8h3.4v3.4h-3.4zM217.3 76.8h6.4v3.4h-6.4zM217.3 79.8h6.4v3.4h-6.4zM217.3 82.8h6.4v3.4h-6.4zM217.3 85.8h6.4v3.4h-6.4zM73.3 88.8h3.4v3.4h-3.4zM217.3 88.8h6.4v3.4h-6.4zM217.3 91.8h6.4v3.4h-6.4zM217.3 94.8h6.4v3.4h-6.4zM217.3 97.8h6.4v3.4h-6.4zM214.3 100.8h9.4v3.4h-9.4zM214.3 103.8h6.4v3.4h-6.4zM64.3 106.8h3.4v3.4h-3.4zM211.3 106.8h9.4v3.4h-9.4zM211.3 109.8h6.4v3.4h-6.4zM208.3 112.8h6.4v3.4h-6.4zM61.3 115.8h3.4v3.4h-3.4zM202.3 115.8h6.4v3.4h-6.4zM187.3 118.8h15.4v3.4h-15.4zM175.3 121.8h9.4v3.4h-9.4zM166.3 124.8h6.4v3.4h-6.4zM160.3 127.8h3.4v3.4h-3.4zM58.3 130.8h3.4v3.4h-3.4zM154.3 130.8h3.4v3.4h-3.4zM148.3 133.8h3.4v3.4h-3.4zM55.3 136.8h3.4v3.4h-3.4zM142.3 136.8h3.4v3.4h-3.4zM52.3 139.8h3.4v3.4h-3.4zM136.3 139.8h3.4v3.4h-3.4zM43.3 142.8h12.4v3.4h-12.4zM43.3 145.8h15.4v3.4h-15.4zM121.3 145.8h3.4v3.4h-3.4zM43.3 148.8h18.4v3.4h-18.4zM112.3 148.8h3.4v3.4h-3.4zM52.3 151.8h18.4v3.4h-18.4zM103.3 151.8h3.4v3.4h-3.4zM43.3 154.8h12.4v3.4h-12.4zM43.3 157.8h12.4v3.4h-12.4zM43.3 160.8h12.4v3.4h-12.4zM43.3 163.8h9.4v3.4h-9.4zM43.3 166.8h9.4v3.4h-9.4zM43.3 169.8h9.4v3.4h-9.4zM43.3 172.8h9.4v3.4h-9.4zM43.3 175.8h9.4v3.4h-9.4zM43.3 178.8h9.4v3.4h-9.4zM43.3 181.8h9.4v3.4h-9.4z"/>
<path fill="#d6d6f3" d="M121.3 28.8h3.4v3.4h-3.4zM226.3 28.8h3.4v3.4h-3.4zM121.3 31.8h3.4v3.4h-3.4zM226.3 31.8h3.4v3.4h-3.4zM121.3 34.8h3.4v3.4h-3.4zM226.3 34.8h3.4v3.4h-3.4zM118.3 37.8h3.4v3.4h-3.4zM226.3 37.8h3.4v3.4h-3.4zM118.3 40.8h3.4v3.4h-3.4zM223.3 40.8h3.4v3.4h-3.4zM115.3 43.8h3.4v3.4h-3.4zM223.3 43.8h3.4v3.4h-3.4zM112.3 46.8h6.4v3.4h-6.4zM223.3 46.8h3.4v3.4h-3.4zM112.3 49.8h3.4v3.4h-3.4zM223.3 49.8h3.4v3.4h-3.4zM109.3 52.8h3.4v3.4h-3.4zM223.3 52.8h3.4v3.4h-3.4zM106.3 55.8h3.4v3.4h-3.4zM223.3 55.8h3.4v3.4h-3.4zM103.3 58.8h3.4v3.4h-3.4zM223.3 58.8h3.4v3.4h-3.4zM100.3 61.8h3.4v3.4h-3.4zM223.3 61.8h3.4v3.4h-3.4zM94.3 64.8h3.4v3.4h-3.4zM223.3 64.8h3.4v3.4h-3.4zM91.3 67.8h3.4v3.4h-3.4zM223.3 67.8h3.4v3.4h-3.4zM88.3 70.8h3.4v3.4h-3.4zM223.3 70.8h3.4v3.4h-3.4zM85.3 73.8h3.4v3.4h-3.4zM223.3 73.8h3.4v3.4h-3.4zM223.3 76.8h3.4v3.4h-3.4zM79.3 79.8h3.4v3.4h-3.4zM223.3 79.8h3.4v3.4h-3.4zM76.3 82.8h3.4v3.4h-3.4zM223.3 82.8h3.4v3.4h-3.4zM73.3 85.8h3.4v3.4h-3.4zM223.3 85.8h3.4v3.4h-3.4zM223.3 88.8h3.4v3.4h-3.4zM70.3 91.8h3.4v3.4h-3.4zM223.3 91.8h6.4v3.4h-6.4zM223.3 94.8h6.4v3.4h-6.4zM67.3 97.8h3.4v3.4h-3.4zM223.3 97.8h6.4v3.4h-6.4zM223.3 100.8h6.4v3.4h-6.4zM64.3 103.8h3.4v3.4h-3.4zM220.3 103.8h9.4v3.4h-9.4zM220.3 106.8h6.4v3.4h-6.4zM217.3 109.8h9.4v3.4h-9.4zM61.3 112.8h3.4v3.4h-3.4zM214.3 112.8h6.4v3.4h-6.4zM208.3 115.8h6.4v3.4h-6.4zM202.3 118.8h6.4v3.4h-6.4zM184.3 121.8h15.4v3.4h-15.4zM58.3 124.8h3.4v3.4h-3.4zM172.3 124.8h12.4v3.4h-12.4zM58.3 127.8h3.4v3.4h-3.4zM163.3 127.8h6.4v3.4h-6.4zM157.3 130.8h3.4v3.4h-3.4zM55.3 133.8h3.4v3.4h-3.4zM151.3 133.8h3.4v3.4h-3.4zM52.3 136.8h3.4v3.4h-3.4zM145.3 136.8h3.4v3.4h-3.4zM43.3 139.8h9.4v3.4h-9.4zM130.3 142.8h3.4v3.4h-3.4zM124.3 145.8h3.4v3.4h-3.4zM115.3 148.8h3.4v3.4h-3.4zM43.3 151.8h9.4v3.4h-9.4zM106.3 151.8h3.4v3.4h-3.4zM55.3 154.8h45.4v3.4h-45.4zM55.3 157.8h6.4v3.4h-6.4zM55.3 160.8h3.4v3.4h-3.4zM52.3 163.8h6.4v3.4h-6.4zM52.3 166.8h6.4v3.4h-6.4zM52.3 169.8h3.4v3.4h-3.4zM52.3 172.8h3.4v3.4h-3.4zM52.3 175.8h3.4v3.4h-3.4zM52.3 178.8h3.4v3.4h-3.4zM52.3 181.8h3.4v3.4h-3.4zM43.3 184.8h12.4v3.4h-12.4zM43.3 187.8h12.4v3.4h-12.4zM43.3 190.8h12.4v3.4h-12.4zM43.3 193.8h9.4v3.4h-9.4zM43.3 196.8h9.4v3.4h-9.4z"/>
<path fill="#dbdbf5" d="M115.3 28.8h6.4v3.4h-6.4zM229.3 28.8h3.4v3.4h-3.4zM115.3 31.8h6.4v3.4h-6.4zM229.3 31.8h3.4v3.4h-3.4zM115.3 34.8h6.4v3.4h-6.4zM229.3 34.8h3.4v3.4h-3.4zM115.3 37.8h3.4v3.4h-3.4zM229.3 37.8h3.4v3.4h-3.4zM112.3 40.8h6.4v3.4h-6.4zM226.3 40.8h6.4v3.4h-6.4zM112.3 43.8h3.4v3.4h-3.4zM226.3 43.8h6.4v3.4h-6.4zM109.3 46.8h3.4v3.4h-3.4zM226.3 46.8h3.4v3.4h-3.4zM106.3 49.8h6.4v3.4h-6.4zM226.3 49.8h3.4v3.4h-3.4zM106.3 52.8h3.4v3.4h-3.4zM226.3 52.8h3.4v3.4h-3.4zM103.3 55.8h3.4v3.4h-3.4zM226.3 55.8h3.4v3.4h-3.4zM100.3 58.8h3.4v3.4h-3.4zM226.3 58.8h3.4v3.4h-3.4zM97.3 61.8h3.4v3.4h-3.4zM226.3 61.8h3.4v3.4h-3.4zM91.3 64.8h3.4v3.4h-3.4zM226.3 64.8h3.4v3.4h-3.4zM88.3 67.8h3.4v3.4h-3.4zM226.3 67.8h3.4v3.4h-3.4zM85.3 70.8h3.4v3.4h-3.4zM226.3 70.8h3.4v3.4h-3.4zM82.3 73.8h3.4v3.4h-3.4zM226.3 73.8h3.4v3.4h-3.4zM79.3 76.8h3.4v3.4h-3.4zM226.3 76.8h3.4v3.4h-3.4zM76.3 79.8h3.4v3.4h-3.4zM226.3 79.8h6.4v3.4h-6.4zM226.3 82.8h6.4v3.4h-6.4zM226.3 85.8h6.4v3.4h-6.4zM70.3 88.8h3.4v3.4h-3.4zM226.3 88.8h6.4v3.4h-6.4zM229.3 91.8h3.4v3.4h-3.4zM67.3 94.8h3.4v3.4h-3.4zM229.3 94.8h6.4v3.4h-6.4zM229.3 97.8h6.4v3.4h-6.4zM64.3 100.8h3.4v3.4h-3.4zM229.3 100.8h6.4v3.4h-6.4zM229.3 103.8h6.4v3.4h-6.4zM226.3 106.8h9.4v3.4h-9.4zM61.3 109.8h3.4v3.4h-3.4zM226.3 109.8h9.4v3.4h-9.4zM220.3 112.8h12.4v3.4h-12.4zM214.3 115.8h6.4v3.4h-6.4zM208.3 118.8h6.4v3.4h-6.4zM58.3 121.8h3.4v3.4h-3.4zM199.3 121.8h6.4v3.4h-6.4zM184.3 124.8h9.4v3.4h-9.4zM169.3 127.8h12.4v3.4h-12.4zM55.3 130.8h3.4v3.4h-3.4zM160.3 130.8h3.4v3.4h-3.4zM52.3 133.8h3.4v3.4h-3.4zM154.3 133.8h3.4v3.4h-3.4zM43.3 136.8h9.4v3.4h-9.4zM148.3 136.8h3.4v3.4h-3.4zM139.3 139.8h3.4v3.4h-3.4zM133.3 142.8h3.4v3.4h-3.4zM118.3 148.8h3.4v3.4h-3.4zM109.3 151.8h3.4v3.4h-3.4zM100.3 154.8h3.4v3.4h-3.4zM61.3 157.8h9.4v3.4h-9.4zM58.3 160.8h6.4v3.4h-6.4zM58.3 163.8h3.4v3.4h-3.4zM58.3 166.8h3.4v3.4h-3.4zM55.3 169.8h3.4v3.4h-3.4zM55.3 172.8h3.4v3.4h-3.4zM55.3 175.8h3.4v3.4h-3.4zM55.3 178.8h3.4v3.4h-3.4zM55.3 181.8h3.4v3.4h-3.4zM55.3 184.8h3.4v3.4h-3.4zM55.3 187.8h3.4v3.4h-3.4zM52.3 193.8h3.4v3.4h-3.4zM52.3 196.8h3.4v3.4h-3.4zM43.3 199.8h12.4v3.4h-12.4zM43.3 202.8h12.4v3.4h-12.4zM43.3 205.8h9.4v3.4h-9.4z"/>
<path fill="#e0e0f6" d="M112.3 28.8h3.4v3.4h-3.4zM232.3 28.8h3.4v3.4h-3.4zM112.3 31.8h3.4v3.4h-3.4zM232.3 31.8h3.4v3.4h-3.4zM112.3 34.8h3.4v3.4h-3.4zM232.3 34.8h3.4v3.4h-3.4zM109.3 37.8h6.4v3.4h-6.4zM232.3 37.8h3.4v3.4h-3.4zM109.3 40.8h3.4v3.4h-3.4zM232.3 40.8h3.4v3.4h-3.4zM106.3 43.8h6.4v3.4h-6.4zM232.3 43.8h3.4v3.4h-3.4zM106.3 46.8h3.4v3.4h-3.4zM229.3 46.8h6.4v3.4h-6.4zM103.3 49.8h3.4v3.4h-3.4zM229.3 49.8h6.4v3.4h-6.4zM100.3 52.8h6.4v3.4h-6.4zM229.3 52.8h6.4v3.4h-6.4zM97.3 55.8h6.4v3.4h-6.4zM229.3 55.8h3.4v3.4h-3.4zM94.3 58.8h6.4v3.4h-6.4zM229.3 58.8h3.4v3.4h-3.4zM91.3 61.8h6.4v3.4h-6.4zM229.3 61.8h3.4v3.4h-3.4zM88.3 64.8h3.4v3.4h-3.4zM229.3 64.8h6.4v3.4h-6.4zM85.3 67.8h3.4v3.4h-3.4zM229.3 67.8h6.4v3.4h-6.4zM82.3 70.8h3.4v3.4h-3.4zM229.3 70.8h6.4v3.4h-6.4zM79.3 73.8h3.4v3.4h-3.4zM229.3 73.8h6.4v3.4h-6.4zM76.3 76.8h3.4v3.4h-3.4zM229.3 76.8h6.4v3.4h-6.4zM232.3 79.8h3.4v3.4h-3.4zM73.3 82.8h3.4v3.4h-3.4zM232.3 82.8h6.4v3.4h-6.4zM232.3 85.8h6.4v3.4h-6.4zM232.3 88.8h6.4v3.4h-6.4zM67.3 91.8h3.4v3.4h-3.4zM232.3 91.8h9.4v3.4h-9.4zM235.3 94.8h6.4v3.4h-6.4zM235.3 97.8h6.4v3.4h-6.4zM235.3 100.8h9.4v3.4h-9.4zM235.3 103.8h9.4v3.4h-9.4zM61.3 106.8h3.4v3.4h-3.4zM235.3 106.8h9.4v3.4h-9.4zM235.3 109.8h12.4v3.4h-12.4zM232.3 112.8h15.4v3.4h-15.4zM58.3 115.8h3.4v3.4h-3.4zM220.3 115.8h27.4v3.4h-27.4zM58.3 118.8h3.4v3.4h-3.4zM214.3 118.8h6.4v3.4h-6.4zM205.3 121.8h6.4v3.4h-6.4zM193.3 124.8h9.4v3.4h-9.4zM55.3 127.8h3.4v3.4h-3.4zM181.3 127.8h6.4v3.4h-6.4zM163.3 130.8h12.4v3.4h-12.4zM43.3 133.8h9.4v3.4h-9.4zM157.3 133.8h3.4v3.4h-3.4zM151.3 136.8h3.4v3.4h-3.4zM142.3 139.8h3.4v3.4h-3.4zM136.3 142.8h3.4v3.4h-3.4zM127.3 145.8h3.4v3.4h-3.4zM112.3 151.8h3.4v3.4h-3.4zM103.3 154.8h3.4v3.4h-3.4zM70.3 157.8h27.4v3.4h-27.4zM64.3 160.8h6.4v3.4h-6.4zM61.3 163.8h3.4v3.4h-3.4zM61.3 166.8h3.4v3.4h-3.4zM58.3 169.8h3.4v3.4h-3.4zM58.3 172.8h3.4v3.4h-3.4zM58.3 175.8h3.4v3.4h-3.4zM58.3 178.8h3.4v3.4h-3.4zM58.3 181.8h3.4v3.4h-3.4zM55.3 190.8h3.4v3.4h-3.4zM55.3 193.8h3.4v3.4h-3.4zM55.3 196.8h3.4v3.4h-3.4zM55.3 199.8h3.4v3.4h-3.4zM55.3 202.8h3.4v3.4h-3.4zM52.3 205.8h6.4v3.4h-6.4zM43.3 208.8h12.4v3.4h-12.4zM43.3 211.8h12.4v3.4h-12.4zM43.3 214.8h12.4v3.4h-12.4zM43.3 217.8h12.4v3.4h-12.4zM43.3 220.8h12.4v3.4h-12.4z"/>
<path fill="#e4e4f7" d="M106.3 28.8h6.4v3.4h-6.4zM235.3 28.8h3.4v3.4h-3.4zM106.3 31.8h6.4v3.4h-6.4zM235.3 31.8h3.4v3.4h-3.4zM106.3 34.8h6.4v3.4h-6.4zM235.3 34.8h3.4v3.4h-3.4zM106.3 37.8h3.4v3.4h-3.4zM235.3 37.8h3.4v3.4h-3.4zM103.3 40.8h6.4v3.4h-6.4zM235.3 40.8h3.4v3.4h-3.4zM103.3 43.8h3.4v3.4h-3.4zM235.3 43.8h3.4v3.4h-3.4zM100.3 46.8h6.4v3.4h-6.4zM235.3 46.8h3.4v3.4h-3.4zM97.3 49.8h6.4v3.4h-6.4zM235.3 49.8h3.4v3.4h-3.4zM97.3 52.8h3.4v3.4h-3.4zM235.3 52.8h3.4v3.4h-3.4zM94.3 55.8h3.4v3.4h-3.4zM232.3 55.8h6.4v3.4h-6.4zM91.3 58.8h3.4v3.4h-3.4zM232.3 58.8h6.4v3.4h-6.4zM88.3 61.8h3.4v3.4h-3.4zM232.3 61.8h6.4v3.4h-6.4zM85.3 64.8h3.4v3.4h-3.4zM235.3 64.8h3.4v3.4h-3.4zM82.3 67.8h3.4v3.4h-3.4zM235.3 67.8h3.4v3.4h-3.4zM79.3 70.8h3.4v3.4h-3.4zM235.3 70.8h3.4v3.4h-3.4zM76.3 73.8h3.4v3.4h-3.4zM235.3 73.8h6.4v3.4h-6.4zM235.3 76.8h6.4v3.4h-6.4zM73.3 79.8h3.4v3.4h-3.4zM235.3 79.8h6.4v3.4h-6.4zM238.3 82.8h6.4v3.4h-6.4zM70.3 85.8h3.4v3.4h-3.4zM238.3 85.8h6.4v3.4h-6.4zM67.3 88.8h3.4v3.4h-3.4zM238.3 88.8h9.4v3.4h-9.4zM241.3 91.8h6.4v3.4h-6.4zM241.3 94.8h9.4v3.4h-9.4zM64.3 97.8h3.4v3.4h-3.4zM241.3 97.8h9.4v3.4h-9.4zM244.3 100.8h9.4v3.4h-9.4zM61.3 103.8h3.4v3.4h-3.4zM244.3 103.8h9.4v3.4h-9.4zM244.3 106.8h9.4v3.4h-9.4zM247.3 109.8h6.4v3.4h-6.4zM58.3 112.8h3.4v3.4h-3.4zM247.3 112.8h9.4v3.4h-9.4zM247.3 115.8h9.4v3.4h-9.4zM220.3 118.8h36.4v3.4h-36.4zM211.3 121.8h6.4v3.4h-6.4zM235.3 121.8h21.4v3.4h-21.4zM55.3 124.8h3.4v3.4h-3.4zM202.3 124.8h3.4v3.4h-3.4zM244.3 124.8h12.4v3.4h-12.4zM187.3 127.8h9.4v3.4h-9.4zM250.3 127.8h6.4v3.4h-6.4zM52.3 130.8h3.4v3.4h-3.4zM175.3 130.8h9.4v3.4h-9.4zM160.3 133.8h9.4v3.4h-9.4zM154.3 136.8h3.4v3.4h-3.4zM145.3 139.8h3.4v3.4h-3.4zM139.3 142.8h3.4v3.4h-3.4zM130.3 145.8h3.4v3.4h-3.4zM121.3 148.8h3.4v3.4h-3.4zM106.3 154.8h3.4v3.4h-3.4zM97.3 157.8h3.4v3.4h-3.4zM70.3 160.8h9.4v3.4h-9.4zM64.3 163.8h6.4v3.4h-6.4zM64.3 166.8h3.4v3.4h-3.4zM61.3 169.8h3.4v3.4h-3.4zM61.3 172.8h3.4v3.4h-3.4zM58.3 184.8h3.4v3.4h-3.4zM58.3 187.8h3.4v3.4h-3.4zM58.3 190.8h3.4v3.4h-3.4zM58.3 193.8h3.4v3.4h-3.4zM58.3 196.8h3.4v3.4h-3.4zM58.3 199.8h3.4v3.4h-3.4zM55.3 208.8h3.4v3.4h-3.4zM55.3 211.8h3.4v3.4h-3.4zM55.3 214.8h3.4v3.4h-3.4zM55.3 217.8h3.4v3.4h-3.4zM55.3 220.8h3.4v3.4h-3.4z"/>
<path fill="#e8e8f8" d="M97.3 28.8h9.4v3.4h-9.4zM238.3 28.8h6.4v3.4h-6.4zM97.3 31.8h9.4v3.4h-9.4zM238.3 31.8h6.4v3.4h-6.4zM97.3 34.8h9.4v3.4h-9.4zM238.3 34.8h6.4v3.4h-6.4zM97.3 37.8h9.4v3.4h-9.4zM238.3 37.8h6.4v3.4h-6.4zM97.3 40.8h6.4v3.4h-6.4zM238.3 40.8h6.4v3.4h-6.4zM94.3 43.8h9.4v3.4h-9.4zM238.3 43.8h6.4v3.4h-6.4zM94.3 46.8h6.4v3.4h-6.4zM238.3 46.8h6.4v3.4h-6.4zM91.3 49.8h6.4v3.4h-6.4zM238.3 49.8h3.4v3.4h-3.4zM88.3 52.8h9.4v3.4h-9.4zM238.3 52.8h3.4v3.4h-3.4zM88.3 55.8h6.4v3.4h-6.4zM238.3 55.8h3.4v3.4h-3.4zM85.3 58.8h6.4v3.4h-6.4zM238.3 58.8h6.4v3.4h-6.4zM82.3 61.8h6.4v3.4h-6.4zM238.3 61.8h6.4v3.4h-6.4zM79.3 64.8h6.4v3.4h-6.4zM238.3 64.8h6.4v3.4h-6.4zM79.3 67.8h3.4v3.4h-3.4zM238.3 67.8h6.4v3.4h-6.4zM76.3 70.8h3.4v3.4h-3.4zM238.3 70.8h6.4v3.4h-6.4zM241.3 73.8h6.4v3.4h-6.4zM73.3 76.8h3.4v3.4h-3.4zM241.3 76.8h6.4v3.4h-6.4zM70.3 79.8h3.4v3.4h-3.4zM241.3 79.8h9.4v3.4h-9.4zM70.3 82.8h3.4v3.4h-3.4zM244.3 82.8h6.4v3.4h-6.4zM67.3 85.8h3.4v3.4h-3.4zM244.3 85.8h9.4v3.4h-9.4zM247.3 88.8h6.4v3.4h-6.4zM247.3 91.8h9.4v3.4h-9.4zM64.3 94.8h3.4v3.4h-3.4zM250.3 94.8h6.4v3.4h-6.4zM250.3 97.8h9.4v3.4h-9.4zM61.3 100.8h3.4v3.4h-3.4zM253.3 100.8h6.4v3.4h-6.4zM253.3 103.8h6.4v3.4h-6.4zM253.3 106.8h6.4v3.4h-6.4zM58.3 109.8h3.4v3.4h-3.4zM253.3 109.8h6.4v3.4h-6.4zM256.3 112.8h3.4v3.4h-3.4zM256.3 115.8h3.4v3.4h-3.4zM256.3 118.8h6.4v3.4h-6.4zM55.3 121.8h3.4v3.4h-3.4zM217.3 121.8h18.4v3.4h-18.4zM256.3 121.8h6.4v3.4h-6.4zM205.3 124.8h6.4v3.4h-6.4zM235.3 124.8h9.4v3.4h-9.4zM256.3 124.8h6.4v3.4h-6.4zM196.3 127.8h6.4v3.4h-6.4zM241.3 127.8h9.4v3.4h-9.4zM256.3 127.8h9.4v3.4h-9.4zM43.3 130.8h9.4v3.4h-9.4zM184.3 130.8h6.4v3.4h-6.4zM247.3 130.8h18.4v3.4h-18.4zM169.3 133.8h12.4v3.4h-12.4zM250.3 133.8h18.4v3.4h-18.4zM157.3 136.8h6.4v3.4h-6.4zM253.3 136.8h15.4v3.4h-15.4zM148.3 139.8h6.4v3.4h-6.4zM256.3 139.8h12.4v3.4h-12.4zM142.3 142.8h3.4v3.4h-3.4zM256.3 142.8h15.4v3.4h-15.4zM133.3 145.8h3.4v3.4h-3.4zM259.3 145.8h12.4v3.4h-12.4zM124.3 148.8h3.4v3.4h-3.4zM259.3 148.8h12.4v3.4h-12.4zM115.3 151.8h3.4v3.4h-3.4zM262.3 151.8h9.4v3.4h-9.4zM262.3 154.8h9.4v3.4h-9.4zM100.3 157.8h3.4v3.4h-3.4zM262.3 157.8h6.4v3.4h-6.4zM79.3 160.8h15.4v3.4h-15.4zM262.3 160.8h6.4v3.4h-6.4zM70.3 163.8h3.4v3.4h-3.4zM265.3 163.8h3.4v3.4h-3.4zM67.3 166.8h3.4v3.4h-3.4zM265.3 166.8h3.4v3.4h-3.4zM64.3 169.8h3.4v3.4h-3.4zM265.3 169.8h3.4v3.4h-3.4zM64.3 172.8h3.4v3.4h-3.4zM265.3 172.8h3.4v3.4h-3.4zM61.3 175.8h3.4v3.4h-3.4zM265.3 175.8h3.4v3.4h-3.4zM61.3 178.8h3.4v3.4h-3.4zM265.3 178.8h6.4v3.4h-6.4zM61.3 181.8h3.4v3.4h-3.4zM262.3 181.8h9.4v3.4h-9.4zM61.3 184.8h3.4v3.4h-3.4zM262.3 184.8h9.4v3.4h-9.4zM61.3 187.8h3.4v3.4h-3.4zM262.3 187.8h12.4v3.4h-12.4zM61.3 190.8h3.4v3.4h-3.4zM259.3 190.8h15.4v3.4h-15.4zM256.3 193.8h18.4v3.4h-18.4zM256.3 196.8h18.4v3.4h-18.4zM256.3 199.8h9.4v3.4h-9.4zM58.3 202.8h3.4v3.4h-3.4zM58.3 205.8h3.4v3.4h-3.4zM58.3 208.8h3.4v3.4h-3.4zM58.3 211.8h3.4v3.4h-3.4zM58.3 214.8h3.4v3.4h-3.4zM58.3 217.8h3.4v3.4h-3.4zM58.3 220.8h3.4v3.4h-3.4z"/>
<path fill="#ededfa" d="M88.3 28.8h9.4v3.4h-9.4zM244.3 28.8h6.4v3.4h-6.4zM88.3 31.8h9.4v3.4h-9.4zM244.3 31.8h6.4v3.4h-6.4zM88.3 34.8h9.4v3.4h-9.4zM244.3 34.8h6.4v3.4h-6.4zM85.3 37.8h12.4v3.4h-12.4zM244.3 37.8h6.4v3.4h-6.4zM85.3 40.8h12.4v3.4h-12.4zM244.3 40.8h6.4v3.4h-6.4zM85.3 43.8h9.4v3.4h-9.4zM244.3 43.8h3.4v3.4h-3.4zM82.3 46.8h12.4v3.4h-12.4zM244.3 46.8h3.4v3.4h-3.4zM82.3 49.8h9.4v3.4h-9.4zM241.3 49.8h6.4v3.4h-6.4zM79.3 52.8h9.4v3.4h-9.4zM241.3 52.8h6.4v3.4h-6.4zM79.3 55.8h9.4v3.4h-9.4zM241.3 55.8h6.4v3.4h-6.4zM79.3 58.8h6.4v3.4h-6.4zM244.3 58.8h3.4v3.4h-3.4zM76.3 61.8h6.4v3.4h-6.4zM244.3 61.8h6.4v3.4h-6.4zM76.3 64.8h3.4v3.4h-3.4zM244.3 64.8h6.4v3.4h-6.4zM76.3 67.8h3.4v3.4h-3.4zM244.3 67.8h6.4v3.4h-6.4zM73.3 70.8h3.4v3.4h-3.4zM244.3 70.8h9.4v3.4h-9.4zM73.3 73.8h3.4v3.4h-3.4zM247.3 73.8h6.4v3.4h-6.4zM70.3 76.8h3.4v3.4h-3.4zM247.3 76.8h9.4v3.4h-9.4zM250.3 79.8h6.4v3.4h-6.4zM67.3 82.8h3.4v3.4h-3.4zM250.3 82.8h6.4v3.4h-6.4zM253.3 85.8h6.4v3.4h-6.4zM64.3 88.8h3.4v3.4h-3.4zM253.3 88.8h6.4v3.4h-6.4zM64.3 91.8h3.4v3.4h-3.4zM256.3 91.8h3.4v3.4h-3.4zM256.3 94.8h6.4v3.4h-6.4zM61.3 97.8h3.4v3.4h-3.4zM259.3 97.8h3.4v3.4h-3.4zM259.3 100.8h6.4v3.4h-6.4zM259.3 103.8h6.4v3.4h-6.4zM58.3 106.8h3.4v3.4h-3.4zM259.3 106.8h6.4v3.4h-6.4zM259.3 109.8h6.4v3.4h-6.4zM259.3 112.8h6.4v3.4h-6.4zM55.3 115.8h3.4v3.4h-3.4zM259.3 115.8h6.4v3.4h-6.4zM55.3 118.8h3.4v3.4h-3.4zM262.3 118.8h3.4v3.4h-3.4zM262.3 121.8h3.4v3.4h-3.4zM211.3 124.8h9.4v3.4h-9.4zM226.3 124.8h9.4v3.4h-9.4zM262.3 124.8h6.4v3.4h-6.4zM52.3 127.8h3.4v3.4h-3.4zM202.3 127.8h6.4v3.4h-6.4zM238.3 127.8h3.4v3.4h-3.4zM265.3 127.8h3.4v3.4h-3.4zM190.3 130.8h9.4v3.4h-9.4zM241.3 130.8h6.4v3.4h-6.4zM265.3 130.8h6.4v3.4h-6.4zM181.3 133.8h6.4v3.4h-6.4zM247.3 133.8h3.4v3.4h-3.4zM268.3 133.8h6.4v3.4h-6.4zM163.3 136.8h15.4v3.4h-15.4zM247.3 136.8h6.4v3.4h-6.4zM268.3 136.8h6.4v3.4h-6.4zM154.3 139.8h6.4v3.4h-6.4zM250.3 139.8h6.4v3.4h-6.4zM268.3 139.8h9.4v3.4h-9.4zM145.3 142.8h3.4v3.4h-3.4zM253.3 142.8h3.4v3.4h-3.4zM271.3 142.8h6.4v3.4h-6.4zM136.3 145.8h3.4v3.4h-3.4zM253.3 145.8h6.4v3.4h-6.4zM271.3 145.8h9.4v3.4h-9.4zM127.3 148.8h3.4v3.4h-3.4zM253.3 148.8h6.4v3.4h-6.4zM271.3 148.8h21.4v3.4h-21.4zM118.3 151.8h3.4v3.4h-3.4zM256.3 151.8h6.4v3.4h-6.4zM271.3 151.8h21.4v3.4h-21.4zM109.3 154.8h3.4v3.4h-3.4zM256.3 154.8h6.4v3.4h-6.4zM271.3 154.8h21.4v3.4h-21.4zM103.3 157.8h3.4v3.4h-3.4zM256.3 157.8h6.4v3.4h-6.4zM268.3 157.8h24.4v3.4h-24.4zM94.3 160.8h6.4v3.4h-6.4zM256.3 160.8h6.4v3.4h-6.4zM268.3 160.8h24.4v3.4h-24.4zM73.3 163.8h18.4v3.4h-18.4zM256.3 163.8h9.4v3.4h-9.4zM268.3 163.8h24.4v3.4h-24.4zM70.3 166.8h6.4v3.4h-6.4zM256.3 166.8h9.4v3.4h-9.4zM268.3 166.8h24.4v3.4h-24.4zM67.3 169.8h3.4v3.4h-3.4zM256.3 169.8h9.4v3.4h-9.4zM268.3 169.8h24.4v3.4h-24.4zM67.3 172.8h3.4v3.4h-3.4zM256.3 172.8h9.4v3.4h-9.4zM268.3 172.8h24.4v3.4h-24.4zM64.3 175.8h3.4v3.4h-3.4zM253.3 175.8h12.4v3.4h-12.4zM268.3 175.8h24.4v3.4h-24.4zM64.3 178.8h3.4v3.4h-3.4zM253.3 178.8h12.4v3.4h-12.4zM271.3 178.8h21.4v3.4h-21.4zM64.3 181.8h3.4v3.4h-3.4zM253.3 181.8h9.4v3.4h-9.4zM271.3 181.8h21.4v3.4h-21.4zM64.3 184.8h3.4v3.4h-3.4zM253.3 184.8h9.4v3.4h-9.4zM271.3 184.8h21.4v3.4h-21.4zM64.3 187.8h3.4v3.4h-3.4zM250.3 187.8h12.4v3.4h-12.4zM274.3 187.8h18.4v3.4h-18.4zM250.3 190.8h9.4v3.4h-9.4zM274.3 190.8h18.4v3.4h-18.4zM61.3 193.8h3.4v3.4h-3.4zM247.3 193.8h9.4v3.4h-9.4zM274.3 193.8h18.4v3.4h-18.4zM61.3 196.8h3.4v3.4h-3.4zM247.3 196.8h9.4v3.4h-9.4zM274.3 196.8h18.4v3.4h-18.4zM61.3 199.8h3.4v3.4h-3.4zM244.3 199.8h12.4v3.4h-12.4zM265.3 199.8h27.4v3.4h-27.4zM61.3 202.8h3.4v3.4h-3.4zM244.3 202.8h48.4v3.4h-48.4zM61.3 205.8h3.4v3.4h-3.4zM244.3 205.8h48.4v3.4h-48.4zM61.3 208.8h3.4v3.4h-3.4zM241.3 208.8h51.4v3.4h-51.4zM61.3 211.8h3.4v3.4h-3.4zM241.3 211.8h51.4v3.4h-51.4zM61.3 214.8h3.4v3.4h-3.4zM241.3 214.8h51.4v3.4h-51.4zM61.3 217.8h3.4v3.4h-3.4zM241.3 217.8h51.4v3.4h-51.4zM61.3 220.8h3.4v3.4h-3.4zM241.3 220.8h51.4v3.4h-51.4z"/>
<path fill="#f2f2fb" d="M67.3 28.8h21.4v3.4h-21.4zM250.3 28.8h6.4v3.4h-6.4zM67.3 31.8h21.4v3.4h-21.4zM250.3 31.8h6.4v3.4h-6.4zM67.3 34.8h21.4v3.4h-21.4zM250.3 34.8h6.4v3.4h-6.4zM67.3 37.8h18.4v3.4h-18.4zM250.3 37.8h6.4v3.4h-6.4zM70.3 40.8h15.4v3.4h-15.4zM250.3 40.8h6.4v3.4h-6.4zM70.3 43.8h15.4v3.4h-15.4zM247.3 43.8h6.4v3.4h-6.4zM70.3 46.8h12.4v3.4h-12.4zM247.3 46.8h6.4v3.4h-6.4zM73.3 49.8h9.4v3.4h-9.4zM247.3 49.8h6.4v3.4h-6.4zM73.3 52.8h6.4v3.4h-6.4zM247.3 52.8h6.4v3.4h-6.4zM73.3 55.8h6.4v3.4h-6.4zM247.3 55.8h6.4v3.4h-6.4zM73.3 58.8h6.4v3.4h-6.4zM247.3 58.8h6.4v3.4h-6.4zM73.3 61.8h3.4v3.4h-3.4zM250.3 61.8h6.4v3.4h-6.4zM73.3 64.8h3.4v3.4h-3.4zM250.3 64.8h6.4v3.4h-6.4zM73.3 67.8h3.4v3.4h-3.4zM250.3 67.8h6.4v3.4h-6.4zM70.3 70.8h3.4v3.4h-3.4zM253.3 70.8h6.4v3.4h-6.4zM70.3 73.8h3.4v3.4h-3.4zM253.3 73.8h6.4v3.4h-6.4zM256.3 76.8h3.4v3.4h-3.4zM67.3 79.8h3.4v3.4h-3.4zM256.3 79.8h6.4v3.4h-6.4zM256.3 82.8h6.4v3.4h-6.4zM64.3 85.8h3.4v3.4h-3.4zM259.3 85.8h3.4v3.4h-3.4zM259.3 88.8h6.4v3.4h-6.4zM259.3 91.8h6.4v3.4h-6.4zM61.3 94.8h3.4v3.4h-3.4zM262.3 94.8h3.4v3.4h-3.4zM262.3 97.8h6.4v3.4h-6.4zM265.3 100.8h3.4v3.4h-3.4zM58.3 103.8h3.4v3.4h-3.4zM265.3 103.8h3.4v3.4h-3.4zM265.3 106.8h3.4v3.4h-3.4zM265.3 109.8h3.4v3.4h-3.4zM55.3 112.8h3.4v3.4h-3.4zM265.3 112.8h3.4v3.4h-3.4zM265.3 115.8h3.4v3.4h-3.4zM265.3 118.8h3.4v3.4h-3.4zM265.3 121.8h6.4v3.4h-6.4zM52.3 124.8h3.4v3.4h-3.4zM220.3 124.8h6.4v3.4h-6.4zM268.3 124.8h3.4v3.4h-3.4zM43.3 127.8h9.4v3.4h-9.4zM208.3 127.8h6.4v3.4h-6.4zM232.3 127.8h6.4v3.4h-6.4zM268.3 127.8h6.4v3.4h-6.4zM199.3 130.8h6.4v3.4h-6.4zM238.3 130.8h3.4v3.4h-3.4zM271.3 130.8h3.4v3.4h-3.4zM187.3 133.8h6.4v3.4h-6.4zM241.3 133.8h6.4v3.4h-6.4zM274.3 133.8h3.4v3.4h-3.4zM178.3 136.8h6.4v3.4h-6.4zM244.3 136.8h3.4v3.4h-3.4zM274.3 136.8h6.4v3.4h-6.4zM160.3 139.8h9.4v3.4h-9.4zM247.3 139.8h3.4v3.4h-3.4zM277.3 139.8h15.4v3.4h-15.4zM148.3 142.8h6.4v3.4h-6.4zM247.3 142.8h6.4v3.4h-6.4zM277.3 142.8h15.4v3.4h-15.4zM139.3 145.8h3.4v3.4h-3.4zM250.3 145.8h3.4v3.4h-3.4zM280.3 145.8h12.4v3.4h-12.4zM130.3 148.8h3.4v3.4h-3.4zM250.3 148.8h3.4v3.4h-3.4zM121.3 151.8h3.4v3.4h-3.4zM250.3 151.8h6.4v3.4h-6.4zM112.3 154.8h3.4v3.4h-3.4zM250.3 154.8h6.4v3.4h-6.4zM253.3 157.8h3.4v3.4h-3.4zM253.3 160.8h3.4v3.4h-3.4zM91.3 163.8h3.4v3.4h-3.4zM253.3 163.8h3.4v3.4h-3.4zM76.3 166.8h12.4v3.4h-12.4zM250.3 166.8h6.4v3.4h-6.4zM70.3 169.8h9.4v3.4h-9.4zM250.3 169.8h6.4v3.4h-6.4zM70.3 172.8h3.4v3.4h-3.4zM250.3 172.8h6.4v3.4h-6.4zM67.3 175.8h6.4v3.4h-6.4zM250.3 175.8h3.4v3.4h-3.4zM67.3 178.8h6.4v3.4h-6.4zM250.3 178.8h3.4v3.4h-3.4zM67.3 181.8h3.4v3.4h-3.4zM247.3 181.8h6.4v3.4h-6.4zM67.3 184.8h3.4v3.4h-3.4zM247.3 184.8h6.4v3.4h-6.4zM67.3 187.8h3.4v3.4h-3.4zM247.3 187.8h3.4v3.4h-3.4zM64.3 190.8h3.4v3.4h-3.4zM244.3 190.8h6.4v3.4h-6.4zM64.3 193.8h3.4v3.4h-3.4zM244.3 193.8h3.4v3.4h-3.4zM64.3 196.8h3.4v3.4h-3.4zM241.3 196.8h6.4v3.4h-6.4zM241.3 199.8h3.4v3.4h-3.4zM238.3 202.8h6.4v3.4h-6.4zM238.3 205.8h6.4v3.4h-6.4zM235.3 208.8h6.4v3.4h-6.4zM235.3 211.8h6.4v3.4h-6.4zM232.3 214.8h9.4v3.4h-9.4zM232.3 217.8h9.4v3.4h-9.4zM232.3 220.8h9.4v3.4h-9.4z"/>
<path fill="#f6f6fc" d="M55.3 28.8h12.4v3.4h-12.4zM256.3 28.8h6.4v3.4h-6.4zM55.3 31.8h12.4v3.4h-12.4zM256.3 31.8h6.4v3.4h-6.4zM55.3 34.8h12.4v3.4h-12.4zM256.3 34.8h6.4v3.4h-6.4zM55.3 37.8h12.4v3.4h-12.4zM256.3 37.8h6.4v3.4h-6.4zM58.3 40.8h12.4v3.4h-12.4zM256.3 40.8h6.4v3.4h-6.4zM61.3 43.8h9.4v3.4h-9.4zM253.3 43.8h6.4v3.4h-6.4zM61.3 46.8h9.4v3.4h-9.4zM253.3 46.8h6.4v3.4h-6.4zM64.3 49.8h9.4v3.4h-9.4zM253.3 49.8h6.4v3.4h-6.4zM67.3 52.8h6.4v3.4h-6.4zM253.3 52.8h6.4v3.4h-6.4zM67.3 55.8h6.4v3.4h-6.4zM253.3 55.8h6.4v3.4h-6.4zM70.3 58.8h3.4v3.4h-3.4zM253.3 58.8h6.4v3.4h-6.4zM70.3 61.8h3.4v3.4h-3.4zM256.3 61.8h6.4v3.4h-6.4zM70.3 64.8h3.4v3.4h-3.4zM256.3 64.8h6.4v3.4h-6.4zM70.3 67.8h3.4v3.4h-3.4zM256.3 67.8h6.4v3.4h-6.4zM259.3 70.8h6.4v3.4h-6.4zM67.3 73.8h3.4v3.4h-3.4zM259.3 73.8h6.4v3.4h-6.4zM67.3 76.8h3.4v3.4h-3.4zM259.3 76.8h6.4v3.4h-6.4zM262.3 79.8h3.4v3.4h-3.4zM64.3 82.8h3.4v3.4h-3.4zM262.3 82.8h3.4v3.4h-3.4zM262.3 85.8h6.4v3.4h-6.4zM265.3 88.8h3.4v3.4h-3.4zM61.3 91.8h3.4v3.4h-3.4zM265.3 91.8h3.4v3.4h-3.4zM265.3 94.8h3.4v3.4h-3.4zM268.3 97.8h3.4v3.4h-3.4zM58.3 100.8h3.4v3.4h-3.4zM268.3 100.8h3.4v3.4h-3.4zM268.3 103.8h3.4v3.4h-3.4zM268.3 106.8h3.4v3.4h-3.4zM55.3 109.8h3.4v3.4h-3.4zM268.3 109.8h3.4v3.4h-3.4zM268.3 112.8h3.4v3.4h-3.4zM268.3 115.8h3.4v3.4h-3.4zM268.3 118.8h3.4v3.4h-3.4zM52.3 121.8h3.4v3.4h-3.4zM271.3 121.8h3.4v3.4h-3.4zM43.3 124.8h9.4v3.4h-9.4zM271.3 124.8h3.4v3.4h-3.4zM214.3 127.8h18.4v3.4h-18.4zM274.3 127.8h3.4v3.4h-3.4zM205.3 130.8h3.4v3.4h-3.4zM235.3 130.8h3.4v3.4h-3.4zM274.3 130.8h6.4v3.4h-6.4zM193.3 133.8h6.4v3.4h-6.4zM277.3 133.8h3.4v3.4h-3.4zM184.3 136.8h6.4v3.4h-6.4zM280.3 136.8h12.4v3.4h-12.4zM169.3 139.8h12.4v3.4h-12.4zM244.3 139.8h3.4v3.4h-3.4zM154.3 142.8h6.4v3.4h-6.4zM142.3 145.8h3.4v3.4h-3.4zM220.3 145.8h6.4v3.4h-6.4zM247.3 145.8h3.4v3.4h-3.4zM217.3 148.8h12.4v3.4h-12.4zM247.3 148.8h3.4v3.4h-3.4zM217.3 151.8h15.4v3.4h-15.4zM247.3 151.8h3.4v3.4h-3.4zM220.3 154.8h12.4v3.4h-12.4zM106.3 157.8h3.4v3.4h-3.4zM223.3 157.8h6.4v3.4h-6.4zM250.3 157.8h3.4v3.4h-3.4zM100.3 160.8h3.4v3.4h-3.4zM250.3 160.8h3.4v3.4h-3.4zM94.3 163.8h3.4v3.4h-3.4zM250.3 163.8h3.4v3.4h-3.4zM88.3 166.8h3.4v3.4h-3.4zM247.3 166.8h3.4v3.4h-3.4zM79.3 169.8h9.4v3.4h-9.4zM247.3 169.8h3.4v3.4h-3.4zM73.3 172.8h9.4v3.4h-9.4zM247.3 172.8h3.4v3.4h-3.4zM73.3 175.8h6.4v3.4h-6.4zM247.3 175.8h3.4v3.4h-3.4zM73.3 178.8h3.4v3.4h-3.4zM247.3 178.8h3.4v3.4h-3.4zM70.3 181.8h6.4v3.4h-6.4zM244.3 181.8h3.4v3.4h-3.4zM70.3 184.8h3.4v3.4h-3.4zM244.3 184.8h3.4v3.4h-3.4zM244.3 187.8h3.4v3.4h-3.4zM67.3 190.8h3.4v3.4h-3.4zM241.3 190.8h3.4v3.4h-3.4zM241.3 193.8h3.4v3.4h-3.4zM238.3 196.8h3.4v3.4h-3.4zM64.3 199.8h3.4v3.4h-3.4zM238.3 199.8h3.4v3.4h-3.4zM64.3 202.8h3.4v3.4h-3.4zM235.3 202.8h3.4v3.4h-3.4zM64.3 205.8h3.4v3.4h-3.4zM232.3 205.8h6.4v3.4h-6.4zM64.3 208.8h3.4v3.4h-3.4zM232.3 208.8h3.4v3.4h-3.4zM64.3 211.8h3.4v3.4h-3.4zM229.3 211.8h6.4v3.4h-6.4zM64.3 214.8h3.4v3.4h-3.4zM229.3 214.8h3.4v3.4h-3.4zM64.3 217.8h3.4v3.4h-3.4zM229.3 217.8h3.4v3.4h-3.4zM64.3 220.8h3.4v3.4h-3.4zM229.3 220.8h3.4v3.4h-3.4z"/>
<path fill="#fafafe" d="M43.3 28.8h12.4v3.4h-12.4zM262.3 28.8h12.4v3.4h-12.4zM43.3 31.8h12.4v3.4h-12.4zM262.3 31.8h12.4v3.4h-12.4zM43.3 34.8h12.4v3.4h-12.4zM262.3 34.8h12.4v3.4h-12.4zM43.3 37.8h12.4v3.4h-12.4zM262.3 37.8h9.4v3.4h-9.4zM43.3 40.8h15.4v3.4h-15.4zM262.3 40.8h6.4v3.4h-6.4zM43.3 43.8h18.4v3.4h-18.4zM259.3 43.8h9.4v3.4h-9.4zM55.3 46.8h6.4v3.4h-6.4zM259.3 46.8h6.4v3.4h-6.4zM58.3 49.8h6.4v3.4h-6.4zM259.3 49.8h6.4v3.4h-6.4zM61.3 52.8h6.4v3.4h-6.4zM259.3 52.8h6.4v3.4h-6.4zM64.3 55.8h3.4v3.4h-3.4zM259.3 55.8h9.4v3.4h-9.4zM67.3 58.8h3.4v3.4h-3.4zM259.3 58.8h12.4v3.4h-12.4zM67.3 61.8h3.4v3.4h-3.4zM262.3 61.8h12.4v3.4h-12.4zM67.3 64.8h3.4v3.4h-3.4zM262.3 64.8h12.4v3.4h-12.4zM67.3 67.8h3.4v3.4h-3.4zM262.3 67.8h12.4v3.4h-12.4zM67.3 70.8h3.4v3.4h-3.4zM265.3 70.8h6.4v3.4h-6.4zM265.3 73.8h6.4v3.4h-6.4zM265.3 76.8h6.4v3.4h-6.4zM64.3 79.8h3.4v3.4h-3.4zM265.3 79.8h6.4v3.4h-6.4zM265.3 82.8h6.4v3.4h-6.4zM268.3 85.8h3.4v3.4h-3.4zM61.3 88.8h3.4v3.4h-3.4zM268.3 88.8h3.4v3.4h-3.4zM268.3 91.8h3.4v3.4h-3.4zM268.3 94.8h3.4v3.4h-3.4zM58.3 97.8h3.4v3.4h-3.4zM271.3 97.8h3.4v3.4h-3.4zM271.3 100.8h3.4v3.4h-3.4zM271.3 103.8h3.4v3.4h-3.4zM55.3 106.8h3.4v3.4h-3.4zM271.3 106.8h3.4v3.4h-3.4zM271.3 109.8h3.4v3.4h-3.4zM271.3 112.8h3.4v3.4h-3.4zM271.3 115.8h3.4v3.4h-3.4zM52.3 118.8h3.4v3.4h-3.4zM271.3 118.8h3.4v3.4h-3.4zM274.3 124.8h3.4v3.4h-3.4zM277.3 127.8h3.4v3.4h-3.4zM208.3 130.8h6.4v3.4h-6.4zM229.3 130.8h6.4v3.4h-6.4zM199.3 133.8h3.4v3.4h-3.4zM238.3 133.8h3.4v3.4h-3.4zM280.3 133.8h12.4v3.4h-12.4zM190.3 136.8h3.4v3.4h-3.4zM241.3 136.8h3.4v3.4h-3.4zM181.3 139.8h3.4v3.4h-3.4zM160.3 142.8h6.4v3.4h-6.4zM217.3 142.8h9.4v3.4h-9.4zM244.3 142.8h3.4v3.4h-3.4zM145.3 145.8h3.4v3.4h-3.4zM214.3 145.8h6.4v3.4h-6.4zM226.3 145.8h6.4v3.4h-6.4zM244.3 145.8h3.4v3.4h-3.4zM133.3 148.8h3.4v3.4h-3.4zM211.3 148.8h6.4v3.4h-6.4zM229.3 148.8h6.4v3.4h-6.4zM244.3 148.8h3.4v3.4h-3.4zM214.3 151.8h3.4v3.4h-3.4zM232.3 151.8h3.4v3.4h-3.4zM115.3 154.8h3.4v3.4h-3.4zM214.3 154.8h6.4v3.4h-6.4zM232.3 154.8h3.4v3.4h-3.4zM247.3 154.8h3.4v3.4h-3.4zM220.3 157.8h3.4v3.4h-3.4zM229.3 157.8h6.4v3.4h-6.4zM247.3 157.8h3.4v3.4h-3.4zM223.3 160.8h12.4v3.4h-12.4zM247.3 160.8h3.4v3.4h-3.4zM97.3 163.8h3.4v3.4h-3.4zM226.3 163.8h6.4v3.4h-6.4zM247.3 163.8h3.4v3.4h-3.4zM91.3 166.8h3.4v3.4h-3.4zM244.3 166.8h3.4v3.4h-3.4zM88.3 169.8h3.4v3.4h-3.4zM244.3 169.8h3.4v3.4h-3.4zM82.3 172.8h3.4v3.4h-3.4zM244.3 172.8h3.4v3.4h-3.4zM79.3 175.8h3.4v3.4h-3.4zM244.3 175.8h3.4v3.4h-3.4zM76.3 178.8h3.4v3.4h-3.4zM244.3 178.8h3.4v3.4h-3.4zM241.3 181.8h3.4v3.4h-3.4zM73.3 184.8h3.4v3.4h-3.4zM241.3 184.8h3.4v3.4h-3.4zM70.3 187.8h3.4v3.4h-3.4zM241.3 187.8h3.4v3.4h-3.4zM238.3 190.8h3.4v3.4h-3.4zM67.3 193.8h3.4v3.4h-3.4zM238.3 193.8h3.4v3.4h-3.4zM235.3 196.8h3.4v3.4h-3.4zM235.3 199.8h3.4v3.4h-3.4zM232.3 202.8h3.4v3.4h-3.4zM229.3 205.8h3.4v3.4h-3.4zM226.3 208.8h6.4v3.4h-6.4zM223.3 211.8h6.4v3.4h-6.4zM223.3 214.8h6.4v3.4h-6.4zM223.3 217.8h6.4v3.4h-6.4zM223.3 220.8h6.4v3.4h-6.4z"/>
<path fill="#fffafb" d="M280.3 40.8h12.4v3.4h-12.4zM277.3 43.8h15.4v3.4h-15.4zM274.3 46.8h18.4v3.4h-18.4zM274.3 49.8h18.4v3.4h-18.4zM43.3 52.8h15.4v3.4h-15.4zM277.3 52.8h15.4v3.4h-15.4zM55.3 55.8h6.4v3.4h-6.4zM58.3 58.8h6.4v3.4h-6.4zM61.3 61.8h3.4v3.4h-3.4zM61.3 64.8h3.4v3.4h-3.4zM64.3 67.8h3.4v3.4h-3.4zM64.3 70.8h3.4v3.4h-3.4zM280.3 70.8h12.4v3.4h-12.4zM277.3 73.8h15.4v3.4h-15.4zM274.3 76.8h6.4v3.4h-6.4zM61.3 79.8h3.4v3.4h-3.4zM274.3 79.8h3.4v3.4h-3.4zM61.3 82.8h3.4v3.4h-3.4zM274.3 82.8h3.4v3.4h-3.4zM274.3 85.8h3.4v3.4h-3.4zM274.3 88.8h3.4v3.4h-3.4zM58.3 91.8h3.4v3.4h-3.4zM274.3 91.8h3.4v3.4h-3.4zM274.3 94.8h3.4v3.4h-3.4zM274.3 97.8h3.4v3.4h-3.4zM55.3 100.8h3.4v3.4h-3.4zM274.3 100.8h3.4v3.4h-3.4zM52.3 109.8h3.4v3.4h-3.4zM277.3 109.8h3.4v3.4h-3.4zM52.3 112.8h3.4v3.4h-3.4zM277.3 112.8h3.4v3.4h-3.4zM43.3 115.8h9.4v3.4h-9.4zM277.3 115.8h3.4v3.4h-3.4zM43.3 118.8h9.4v3.4h-9.4zM277.3 118.8h3.4v3.4h-3.4zM277.3 121.8h15.4v3.4h-15.4zM280.3 124.8h12.4v3.4h-12.4zM208.3 133.8h24.4v3.4h-24.4zM199.3 136.8h9.4v3.4h-9.4zM211.3 136.8h27.4v3.4h-27.4zM190.3 139.8h6.4v3.4h-6.4zM208.3 139.8h9.4v3.4h-9.4zM226.3 139.8h15.4v3.4h-15.4zM178.3 142.8h9.4v3.4h-9.4zM205.3 142.8h6.4v3.4h-6.4zM232.3 142.8h9.4v3.4h-9.4zM151.3 145.8h3.4v3.4h-3.4zM205.3 145.8h3.4v3.4h-3.4zM235.3 145.8h6.4v3.4h-6.4zM136.3 148.8h3.4v3.4h-3.4zM205.3 148.8h3.4v3.4h-3.4zM238.3 148.8h3.4v3.4h-3.4zM205.3 151.8h6.4v3.4h-6.4zM208.3 154.8h3.4v3.4h-3.4zM211.3 157.8h3.4v3.4h-3.4zM214.3 160.8h6.4v3.4h-6.4zM217.3 163.8h3.4v3.4h-3.4zM94.3 166.8h3.4v3.4h-3.4zM220.3 166.8h3.4v3.4h-3.4zM91.3 169.8h3.4v3.4h-3.4zM220.3 169.8h6.4v3.4h-6.4zM223.3 172.8h3.4v3.4h-3.4zM223.3 175.8h3.4v3.4h-3.4zM223.3 178.8h3.4v3.4h-3.4zM79.3 181.8h3.4v3.4h-3.4zM220.3 181.8h6.4v3.4h-6.4zM76.3 184.8h3.4v3.4h-3.4zM220.3 184.8h6.4v3.4h-6.4zM232.3 184.8h3.4v3.4h-3.4zM73.3 187.8h3.4v3.4h-3.4zM220.3 187.8h12.4v3.4h-12.4zM217.3 190.8h9.4v3.4h-9.4zM70.3 193.8h3.4v3.4h-3.4zM214.3 193.8h9.4v3.4h-9.4zM214.3 196.8h6.4v3.4h-6.4zM211.3 199.8h6.4v3.4h-6.4zM208.3 202.8h9.4v3.4h-9.4zM208.3 205.8h9.4v3.4h-9.4zM205.3 208.8h9.4v3.4h-9.4zM199.3 211.8h12.4v3.4h-12.4zM199.3 214.8h9.4v3.4h-9.4zM199.3 217.8h9.4v3.4h-9.4zM199.3 220.8h9.4v3.4h-9.4z"/>
<path fill="#fef6f6" d="M43.3 55.8h12.4v3.4h-12.4zM43.3 58.8h15.4v3.4h-15.4zM52.3 61.8h9.4v3.4h-9.4zM58.3 64.8h3.4v3.4h-3.4zM58.3 67.8h6.4v3.4h-6.4zM61.3 70.8h3.4v3.4h-3.4zM61.3 73.8h3.4v3.4h-3.4zM61.3 76.8h3.4v3.4h-3.4zM280.3 76.8h12.4v3.4h-12.4zM277.3 79.8h15.4v3.4h-15.4zM277.3 82.8h3.4v3.4h-3.4zM58.3 85.8h3.4v3.4h-3.4zM277.3 85.8h3.4v3.4h-3.4zM58.3 88.8h3.4v3.4h-3.4zM277.3 88.8h3.4v3.4h-3.4zM277.3 91.8h3.4v3.4h-3.4zM55.3 94.8h3.4v3.4h-3.4zM277.3 94.8h3.4v3.4h-3.4zM55.3 97.8h3.4v3.4h-3.4zM277.3 97.8h3.4v3.4h-3.4zM277.3 100.8h15.4v3.4h-15.4zM277.3 103.8h15.4v3.4h-15.4zM52.3 106.8h3.4v3.4h-3.4zM277.3 106.8h15.4v3.4h-15.4zM43.3 109.8h9.4v3.4h-9.4zM280.3 109.8h12.4v3.4h-12.4zM43.3 112.8h9.4v3.4h-9.4zM280.3 112.8h12.4v3.4h-12.4zM280.3 115.8h12.4v3.4h-12.4zM280.3 118.8h12.4v3.4h-12.4zM208.3 136.8h3.4v3.4h-3.4zM196.3 139.8h12.4v3.4h-12.4zM187.3 142.8h18.4v3.4h-18.4zM154.3 145.8h30.4v3.4h-30.4zM193.3 145.8h12.4v3.4h-12.4zM139.3 148.8h3.4v3.4h-3.4zM196.3 148.8h9.4v3.4h-9.4zM127.3 151.8h3.4v3.4h-3.4zM199.3 151.8h6.4v3.4h-6.4zM118.3 154.8h3.4v3.4h-3.4zM205.3 154.8h3.4v3.4h-3.4zM208.3 157.8h3.4v3.4h-3.4zM211.3 160.8h3.4v3.4h-3.4zM100.3 163.8h3.4v3.4h-3.4zM214.3 163.8h3.4v3.4h-3.4zM217.3 166.8h3.4v3.4h-3.4zM217.3 169.8h3.4v3.4h-3.4zM88.3 172.8h3.4v3.4h-3.4zM217.3 172.8h6.4v3.4h-6.4zM85.3 175.8h3.4v3.4h-3.4zM217.3 175.8h6.4v3.4h-6.4zM82.3 178.8h3.4v3.4h-3.4zM217.3 178.8h6.4v3.4h-6.4zM217.3 181.8h3.4v3.4h-3.4zM217.3 184.8h3.4v3.4h-3.4zM76.3 187.8h3.4v3.4h-3.4zM214.3 187.8h6.4v3.4h-6.4zM73.3 190.8h3.4v3.4h-3.4zM214.3 190.8h3.4v3.4h-3.4zM211.3 193.8h3.4v3.4h-3.4zM70.3 196.8h3.4v3.4h-3.4zM208.3 196.8h6.4v3.4h-6.4zM70.3 199.8h3.4v3.4h-3.4zM205.3 199.8h6.4v3.4h-6.4zM205.3 202.8h3.4v3.4h-3.4zM70.3 205.8h3.4v3.4h-3.4zM202.3 205.8h6.4v3.4h-6.4zM70.3 208.8h3.4v3.4h-3.4zM196.3 208.8h9.4v3.4h-9.4zM70.3 211.8h3.4v3.4h-3.4zM193.3 211.8h6.4v3.4h-6.4zM70.3 214.8h3.4v3.4h-3.4zM193.3 214.8h6.4v3.4h-6.4zM70.3 217.8h3.4v3.4h-3.4zM193.3 217.8h6.4v3.4h-6.4zM70.3 220.8h3.4v3.4h-3.4zM193.3 220.8h6.4v3.4h-6.4z"/>
<path fill="#fef1f2" d="M43.3 61.8h9.4v3.4h-9.4zM43.3 64.8h15.4v3.4h-15.4zM43.3 67.8h15.4v3.4h-15.4zM43.3 70.8h18.4v3.4h-18.4zM43.3 73.8h18.4v3.4h-18.4zM43.3 76.8h18.4v3.4h-18.4zM55.3 79.8h6.4v3.4h-6.4zM55.3 82.8h6.4v3.4h-6.4zM280.3 82.8h12.4v3.4h-12.4zM55.3 85.8h3.4v3.4h-3.4zM280.3 85.8h12.4v3.4h-12.4zM52.3 88.8h6.4v3.4h-6.4zM280.3 88.8h12.4v3.4h-12.4zM43.3 91.8h15.4v3.4h-15.4zM280.3 91.8h12.4v3.4h-12.4zM43.3 94.8h12.4v3.4h-12.4zM280.3 94.8h12.4v3.4h-12.4zM43.3 97.8h12.4v3.4h-12.4zM280.3 97.8h12.4v3.4h-12.4zM43.3 100.8h12.4v3.4h-12.4zM43.3 103.8h12.4v3.4h-12.4zM43.3 106.8h9.4v3.4h-9.4zM184.3 145.8h9.4v3.4h-9.4zM142.3 148.8h6.4v3.4h-6.4zM178.3 148.8h18.4v3.4h-18.4zM130.3 151.8h3.4v3.4h-3.4zM193.3 151.8h6.4v3.4h-6.4zM121.3 154.8h3.4v3.4h-3.4zM196.3 154.8h9.4v3.4h-9.4zM112.3 157.8h3.4v3.4h-3.4zM202.3 157.8h6.4v3.4h-6.4zM106.3 160.8h3.4v3.4h-3.4zM205.3 160.8h6.4v3.4h-6.4zM208.3 163.8h6.4v3.4h-6.4zM97.3 166.8h3.4v3.4h-3.4zM211.3 166.8h6.4v3.4h-6.4zM94.3 169.8h3.4v3.4h-3.4zM214.3 169.8h3.4v3.4h-3.4zM91.3 172.8h3.4v3.4h-3.4zM214.3 172.8h3.4v3.4h-3.4zM88.3 175.8h3.4v3.4h-3.4zM214.3 175.8h3.4v3.4h-3.4zM85.3 178.8h3.4v3.4h-3.4zM214.3 178.8h3.4v3.4h-3.4zM82.3 181.8h3.4v3.4h-3.4zM211.3 181.8h6.4v3.4h-6.4zM79.3 184.8h3.4v3.4h-3.4zM211.3 184.8h6.4v3.4h-6.4zM211.3 187.8h3.4v3.4h-3.4zM76.3 190.8h3.4v3.4h-3.4zM208.3 190.8h6.4v3.4h-6.4zM73.3 193.8h3.4v3.4h-3.4zM205.3 193.8h6.4v3.4h-6.4zM73.3 196.8h3.4v3.4h-3.4zM202.3 196.8h6.4v3.4h-6.4zM202.3 199.8h3.4v3.4h-3.4zM70.3 202.8h3.4v3.4h-3.4zM199.3 202.8h6.4v3.4h-6.4zM196.3 205.8h6.4v3.4h-6.4zM73.3 208.8h3.4v3.4h-3.4zM190.3 208.8h6.4v3.4h-6.4zM73.3 211.8h3.4v3.4h-3.4zM187.3 211.8h6.4v3.4h-6.4zM73.3 214.8h3.4v3.4h-3.4zM187.3 214.8h6.4v3.4h-6.4zM73.3 217.8h3.4v3.4h-3.4zM187.3 217.8h6.4v3.4h-6.4zM73.3 220.8h3.4v3.4h-3.4zM187.3 220.8h6.4v3.4h-6.4z"/>
<path fill="#feecee" d="M43.3 79.8h12.4v3.4h-12.4zM43.3 82.8h12.4v3.4h-12.4zM43.3 85.8h12.4v3.4h-12.4zM43.3 88.8h9.4v3.4h-9.4zM148.3 148.8h30.4v3.4h-30.4zM133.3 151.8h3.4v3.4h-3.4zM181.3 151.8h12.4v3.4h-12.4zM190.3 154.8h6.4v3.4h-6.4zM115.3 157.8h3.4v3.4h-3.4zM196.3 157.8h6.4v3.4h-6.4zM109.3 160.8h3.4v3.4h-3.4zM199.3 160.8h6.4v3.4h-6.4zM103.3 163.8h3.4v3.4h-3.4zM202.3 163.8h6.4v3.4h-6.4zM205.3 166.8h6.4v3.4h-6.4zM208.3 169.8h6.4v3.4h-6.4zM208.3 172.8h6.4v3.4h-6.4zM208.3 175.8h6.4v3.4h-6.4zM208.3 178.8h6.4v3.4h-6.4zM85.3 181.8h3.4v3.4h-3.4zM208.3 181.8h3.4v3.4h-3.4zM82.3 184.8h3.4v3.4h-3.4zM205.3 184.8h6.4v3.4h-6.4zM79.3 187.8h3.4v3.4h-3.4zM205.3 187.8h6.4v3.4h-6.4zM79.3 190.8h3.4v3.4h-3.4zM202.3 190.8h6.4v3.4h-6.4zM76.3 193.8h3.4v3.4h-3.4zM199.3 193.8h6.4v3.4h-6.4zM76.3 196.8h3.4v3.4h-3.4zM199.3 196.8h3.4v3.4h-3.4zM73.3 199.8h3.4v3.4h-3.4zM196.3 199.8h6.4v3.4h-6.4zM73.3 202.8h3.4v3.4h-3.4zM193.3 202.8h6.4v3.4h-6.4zM73.3 205.8h3.4v3.4h-3.4zM187.3 205.8h9.4v3.4h-9.4zM76.3 208.8h3.4v3.4h-3.4zM184.3 208.8h6.4v3.4h-6.4zM76.3 211.8h3.4v3.4h-3.4zM181.3 211.8h6.4v3.4h-6.4zM76.3 214.8h3.4v3.4h-3.4zM181.3 214.8h6.4v3.4h-6.4zM76.3 217.8h3.4v3.4h-3.4zM181.3 217.8h6.4v3.4h-6.4zM76.3 220.8h3.4v3.4h-3.4zM181.3 220.8h6.4v3.4h-6.4z"/>
<path fill="#fee8ea" d="M136.3 151.8h6.4v3.4h-6.4zM163.3 151.8h18.4v3.4h-18.4zM124.3 154.8h6.4v3.4h-6.4zM181.3 154.8h9.4v3.4h-9.4zM118.3 157.8h3.4v3.4h-3.4zM187.3 157.8h9.4v3.4h-9.4zM193.3 160.8h6.4v3.4h-6.4zM106.3 163.8h3.4v3.4h-3.4zM196.3 163.8h6.4v3.4h-6.4zM100.3 166.8h3.4v3.4h-3.4zM199.3 166.8h6.4v3.4h-6.4zM97.3 169.8h3.4v3.4h-3.4zM202.3 169.8h6.4v3.4h-6.4zM94.3 172.8h3.4v3.4h-3.4zM202.3 172.8h6.4v3.4h-6.4zM91.3 175.8h3.4v3.4h-3.4zM202.3 175.8h6.4v3.4h-6.4zM88.3 178.8h3.4v3.4h-3.4zM202.3 178.8h6.4v3.4h-6.4zM202.3 181.8h6.4v3.4h-6.4zM85.3 184.8h3.4v3.4h-3.4zM202.3 184.8h3.4v3.4h-3.4zM82.3 187.8h3.4v3.4h-3.4zM199.3 187.8h6.4v3.4h-6.4zM196.3 190.8h6.4v3.4h-6.4zM79.3 193.8h3.4v3.4h-3.4zM196.3 193.8h3.4v3.4h-3.4zM193.3 196.8h6.4v3.4h-6.4zM76.3 199.8h3.4v3.4h-3.4zM190.3 199.8h6.4v3.4h-6.4zM76.3 202.8h3.4v3.4h-3.4zM187.3 202.8h6.4v3.4h-6.4zM76.3 205.8h6.4v3.4h-6.4zM184.3 205.8h3.4v3.4h-3.4zM79.3 208.8h3.4v3.4h-3.4zM178.3 208.8h6.4v3.4h-6.4zM79.3 211.8h6.4v3.4h-6.4zM175.3 211.8h6.4v3.4h-6.4zM79.3 214.8h6.4v3.4h-6.4zM175.3 214.8h6.4v3.4h-6.4zM79.3 217.8h6.4v3.4h-6.4zM175.3 217.8h6.4v3.4h-6.4zM79.3 220.8h6.4v3.4h-6.4zM175.3 220.8h6.4v3.4h-6.4z"/>
<path fill="#fde3e5" d="M142.3 151.8h21.4v3.4h-21.4zM130.3 154.8h3.4v3.4h-3.4zM169.3 154.8h12.4v3.4h-12.4zM121.3 157.8h3.4v3.4h-3.4zM181.3 157.8h6.4v3.4h-6.4zM112.3 160.8h3.4v3.4h-3.4zM187.3 160.8h6.4v3.4h-6.4zM193.3 163.8h3.4v3.4h-3.4zM103.3 166.8h3.4v3.4h-3.4zM196.3 166.8h3.4v3.4h-3.4zM196.3 169.8h6.4v3.4h-6.4zM199.3 172.8h3.4v3.4h-3.4zM199.3 175.8h3.4v3.4h-3.4zM91.3 178.8h3.4v3.4h-3.4zM199.3 178.8h3.4v3.4h-3.4zM88.3 181.8h3.4v3.4h-3.4zM196.3 181.8h6.4v3.4h-6.4zM196.3 184.8h6.4v3.4h-6.4zM85.3 187.8h3.4v3.4h-3.4zM196.3 187.8h3.4v3.4h-3.4zM82.3 190.8h3.4v3.4h-3.4zM193.3 190.8h3.4v3.4h-3.4zM82.3 193.8h3.4v3.4h-3.4zM190.3 193.8h6.4v3.4h-6.4zM79.3 196.8h3.4v3.4h-3.4zM187.3 196.8h6.4v3.4h-6.4zM79.3 199.8h3.4v3.4h-3.4zM184.3 199.8h6.4v3.4h-6.4zM79.3 202.8h3.4v3.4h-3.4zM181.3 202.8h6.4v3.4h-6.4zM82.3 205.8h3.4v3.4h-3.4zM178.3 205.8h6.4v3.4h-6.4zM82.3 208.8h6.4v3.4h-6.4zM175.3 208.8h3.4v3.4h-3.4zM85.3 211.8h6.4v3.4h-6.4zM169.3 211.8h6.4v3.4h-6.4zM85.3 214.8h6.4v3.4h-6.4zM169.3 214.8h6.4v3.4h-6.4zM85.3 217.8h6.4v3.4h-6.4zM169.3 217.8h6.4v3.4h-6.4zM85.3 220.8h6.4v3.4h-6.4zM169.3 220.8h6.4v3.4h-6.4z"/>
<path fill="#fddee1" d="M133.3 154.8h3.4v3.4h-3.4zM160.3 154.8h9.4v3.4h-9.4zM124.3 157.8h3.4v3.4h-3.4zM175.3 157.8h6.4v3.4h-6.4zM115.3 160.8h3.4v3.4h-3.4zM181.3 160.8h6.4v3.4h-6.4zM109.3 163.8h3.4v3.4h-3.4zM187.3 163.8h6.4v3.4h-6.4zM190.3 166.8h6.4v3.4h-6.4zM100.3 169.8h3.4v3.4h-3.4zM193.3 169.8h3.4v3.4h-3.4zM97.3 172.8h3.4v3.4h-3.4zM193.3 172.8h6.4v3.4h-6.4zM94.3 175.8h3.4v3.4h-3.4zM193.3 175.8h6.4v3.4h-6.4zM193.3 178.8h6.4v3.4h-6.4zM193.3 181.8h3.4v3.4h-3.4zM88.3 184.8h3.4v3.4h-3.4zM193.3 184.8h3.4v3.4h-3.4zM190.3 187.8h6.4v3.4h-6.4zM85.3 190.8h3.4v3.4h-3.4zM187.3 190.8h6.4v3.4h-6.4zM187.3 193.8h3.4v3.4h-3.4zM82.3 196.8h3.4v3.4h-3.4zM184.3 196.8h3.4v3.4h-3.4zM82.3 199.8h3.4v3.4h-3.4zM181.3 199.8h3.4v3.4h-3.4zM82.3 202.8h6.4v3.4h-6.4zM178.3 202.8h3.4v3.4h-3.4zM85.3 205.8h3.4v3.4h-3.4zM172.3 205.8h6.4v3.4h-6.4zM88.3 208.8h3.4v3.4h-3.4zM169.3 208.8h6.4v3.4h-6.4zM91.3 211.8h3.4v3.4h-3.4zM163.3 211.8h6.4v3.4h-6.4zM91.3 214.8h3.4v3.4h-3.4zM163.3 214.8h6.4v3.4h-6.4zM91.3 217.8h3.4v3.4h-3.4zM163.3 217.8h6.4v3.4h-6.4zM91.3 220.8h3.4v3.4h-3.4zM163.3 220.8h6.4v3.4h-6.4z"/>
<path fill="#fdd9dd" d="M136.3 154.8h24.4v3.4h-24.4zM127.3 157.8h3.4v3.4h-3.4zM166.3 157.8h9.4v3.4h-9.4zM118.3 160.8h3.4v3.4h-3.4zM175.3 160.8h6.4v3.4h-6.4zM112.3 163.8h3.4v3.4h-3.4zM181.3 163.8h6.4v3.4h-6.4zM106.3 166.8h3.4v3.4h-3.4zM184.3 166.8h6.4v3.4h-6.4zM103.3 169.8h3.4v3.4h-3.4zM187.3 169.8h6.4v3.4h-6.4zM190.3 172.8h3.4v3.4h-3.4zM190.3 175.8h3.4v3.4h-3.4zM94.3 178.8h3.4v3.4h-3.4zM190.3 178.8h3.4v3.4h-3.4zM91.3 181.8h3.4v3.4h-3.4zM190.3 181.8h3.4v3.4h-3.4zM187.3 184.8h6.4v3.4h-6.4zM88.3 187.8h3.4v3.4h-3.4zM187.3 187.8h3.4v3.4h-3.4zM184.3 190.8h3.4v3.4h-3.4zM85.3 193.8h3.4v3.4h-3.4zM181.3 193.8h6.4v3.4h-6.4zM85.3 196.8h3.4v3.4h-3.4zM178.3 196.8h6.4v3.4h-6.4zM85.3 199.8h3.4v3.4h-3.4zM175.3 199.8h6.4v3.4h-6.4zM88.3 202.8h3.4v3.4h-3.4zM172.3 202.8h6.4v3.4h-6.4zM88.3 205.8h3.4v3.4h-3.4zM169.3 205.8h3.4v3.4h-3.4zM91.3 208.8h3.4v3.4h-3.4zM163.3 208.8h6.4v3.4h-6.4zM94.3 211.8h6.4v3.4h-6.4zM160.3 211.8h3.4v3.4h-3.4zM94.3 214.8h6.4v3.4h-6.4zM157.3 214.8h6.4v3.4h-6.4zM94.3 217.8h6.4v3.4h-6.4zM157.3 217.8h6.4v3.4h-6.4zM94.3 220.8h6.4v3.4h-6.4zM157.3 220.8h6.4v3.4h-6.4z"/>
<path fill="#fcd5d8" d="M130.3 157.8h3.4v3.4h-3.4zM160.3 157.8h6.4v3.4h-6.4zM121.3 160.8h3.4v3.4h-3.4zM172.3 160.8h3.4v3.4h-3.4zM115.3 163.8h3.4v3.4h-3.4zM178.3 163.8h3.4v3.4h-3.4zM109.3 166.8h3.4v3.4h-3.4zM181.3 166.8h3.4v3.4h-3.4zM184.3 169.8h3.4v3.4h-3.4zM100.3 172.8h3.4v3.4h-3.4zM184.3 172.8h6.4v3.4h-6.4zM97.3 175.8h3.4v3.4h-3.4zM184.3 175.8h6.4v3.4h-6.4zM184.3 178.8h6.4v3.4h-6.4zM184.3 181.8h6.4v3.4h-6.4zM91.3 184.8h3.4v3.4h-3.4zM184.3 184.8h3.4v3.4h-3.4zM181.3 187.8h6.4v3.4h-6.4zM88.3 190.8h3.4v3.4h-3.4zM181.3 190.8h3.4v3.4h-3.4zM88.3 193.8h3.4v3.4h-3.4zM178.3 193.8h3.4v3.4h-3.4zM88.3 196.8h3.4v3.4h-3.4zM175.3 196.8h3.4v3.4h-3.4zM88.3 199.8h3.4v3.4h-3.4zM172.3 199.8h3.4v3.4h-3.4zM91.3 202.8h3.4v3.4h-3.4zM169.3 202.8h3.4v3.4h-3.4zM91.3 205.8h6.4v3.4h-6.4zM163.3 205.8h6.4v3.4h-6.4zM94.3 208.8h6.4v3.4h-6.4zM160.3 208.8h3.4v3.4h-3.4zM100.3 211.8h3.4v3.4h-3.4zM154.3 211.8h6.4v3.4h-6.4zM100.3 214.8h6.4v3.4h-6.4zM151.3 214.8h6.4v3.4h-6.4zM100.3 217.8h6.4v3.4h-6.4zM151.3 217.8h6.4v3.4h-6.4zM100.3 220.8h6.4v3.4h-6.4zM151.3 220.8h6.4v3.4h-6.4z"/>
<path fill="#fcd0d4" d="M133.3 157.8h6.4v3.4h-6.4zM151.3 157.8h9.4v3.4h-9.4zM124.3 160.8h3.4v3.4h-3.4zM166.3 160.8h6.4v3.4h-6.4zM172.3 163.8h6.4v3.4h-6.4zM175.3 166.8h6.4v3.4h-6.4zM106.3 169.8h3.4v3.4h-3.4zM178.3 169.8h6.4v3.4h-6.4zM181.3 172.8h3.4v3.4h-3.4zM181.3 175.8h3.4v3.4h-3.4zM97.3 178.8h3.4v3.4h-3.4zM181.3 178.8h3.4v3.4h-3.4zM94.3 181.8h3.4v3.4h-3.4zM181.3 181.8h3.4v3.4h-3.4zM181.3 184.8h3.4v3.4h-3.4zM91.3 187.8h3.4v3.4h-3.4zM178.3 187.8h3.4v3.4h-3.4zM91.3 190.8h3.4v3.4h-3.4zM178.3 190.8h3.4v3.4h-3.4zM175.3 193.8h3.4v3.4h-3.4zM91.3 196.8h3.4v3.4h-3.4zM172.3 196.8h3.4v3.4h-3.4zM91.3 199.8h3.4v3.4h-3.4zM169.3 199.8h3.4v3.4h-3.4zM94.3 202.8h3.4v3.4h-3.4zM166.3 202.8h3.4v3.4h-3.4zM97.3 205.8h3.4v3.4h-3.4zM160.3 205.8h3.4v3.4h-3.4zM100.3 208.8h3.4v3.4h-3.4zM154.3 208.8h6.4v3.4h-6.4zM103.3 211.8h6.4v3.4h-6.4zM148.3 211.8h6.4v3.4h-6.4zM106.3 214.8h6.4v3.4h-6.4zM145.3 214.8h6.4v3.4h-6.4zM106.3 217.8h6.4v3.4h-6.4zM145.3 217.8h6.4v3.4h-6.4zM106.3 220.8h6.4v3.4h-6.4zM145.3 220.8h6.4v3.4h-6.4z"/>
<path fill="#fccbcf" d="M139.3 157.8h12.4v3.4h-12.4zM127.3 160.8h3.4v3.4h-3.4zM160.3 160.8h6.4v3.4h-6.4zM118.3 163.8h3.4v3.4h-3.4zM166.3 163.8h6.4v3.4h-6.4zM112.3 166.8h3.4v3.4h-3.4zM172.3 166.8h3.4v3.4h-3.4zM175.3 169.8h3.4v3.4h-3.4zM103.3 172.8h3.4v3.4h-3.4zM178.3 172.8h3.4v3.4h-3.4zM100.3 175.8h3.4v3.4h-3.4zM178.3 175.8h3.4v3.4h-3.4zM178.3 178.8h3.4v3.4h-3.4zM178.3 181.8h3.4v3.4h-3.4zM94.3 184.8h3.4v3.4h-3.4zM178.3 184.8h3.4v3.4h-3.4zM175.3 187.8h3.4v3.4h-3.4zM175.3 190.8h3.4v3.4h-3.4zM91.3 193.8h3.4v3.4h-3.4zM172.3 193.8h3.4v3.4h-3.4zM94.3 196.8h3.4v3.4h-3.4zM169.3 196.8h3.4v3.4h-3.4zM94.3 199.8h3.4v3.4h-3.4zM166.3 199.8h3.4v3.4h-3.4zM97.3 202.8h3.4v3.4h-3.4zM160.3 202.8h6.4v3.4h-6.4zM100.3 205.8h3.4v3.4h-3.4zM157.3 205.8h3.4v3.4h-3.4zM103.3 208.8h6.4v3.4h-6.4zM148.3 208.8h6.4v3.4h-6.4zM109.3 211.8h9.4v3.4h-9.4zM139.3 211.8h9.4v3.4h-9.4zM112.3 214.8h9.4v3.4h-9.4zM136.3 214.8h9.4v3.4h-9.4zM112.3 217.8h9.4v3.4h-9.4zM136.3 217.8h9.4v3.4h-9.4zM112.3 220.8h9.4v3.4h-9.4zM136.3 220.8h9.4v3.4h-9.4z"/>
<path fill="#fcc6cb" d="M130.3 160.8h6.4v3.4h-6.4zM151.3 160.8h9.4v3.4h-9.4zM121.3 163.8h3.4v3.4h-3.4zM163.3 163.8h3.4v3.4h-3.4zM115.3 166.8h3.4v3.4h-3.4zM169.3 166.8h3.4v3.4h-3.4zM109.3 169.8h3.4v3.4h-3.4zM172.3 169.8h3.4v3.4h-3.4zM106.3 172.8h3.4v3.4h-3.4zM172.3 172.8h6.4v3.4h-6.4zM103.3 175.8h3.4v3.4h-3.4zM175.3 175.8h3.4v3.4h-3.4zM100.3 178.8h3.4v3.4h-3.4zM175.3 178.8h3.4v3.4h-3.4zM97.3 181.8h3.4v3.4h-3.4zM175.3 181.8h3.4v3.4h-3.4zM172.3 184.8h6.4v3.4h-6.4zM94.3 187.8h3.4v3.4h-3.4zM172.3 187.8h3.4v3.4h-3.4zM94.3 190.8h3.4v3.4h-3.4zM169.3 190.8h6.4v3.4h-6.4zM94.3 193.8h3.4v3.4h-3.4zM169.3 193.8h3.4v3.4h-3.4zM97.3 196.8h3.4v3.4h-3.4zM166.3 196.8h3.4v3.4h-3.4zM97.3 199.8h3.4v3.4h-3.4zM160.3 199.8h6.4v3.4h-6.4zM100.3 202.8h3.4v3.4h-3.4zM157.3 202.8h3.4v3.4h-3.4zM103.3 205.8h6.4v3.4h-6.4zM151.3 205.8h6.4v3.4h-6.4zM109.3 208.8h6.4v3.4h-6.4zM142.3 208.8h6.4v3.4h-6.4zM118.3 211.8h21.4v3.4h-21.4zM121.3 214.8h15.4v3.4h-15.4zM121.3 217.8h15.4v3.4h-15.4zM121.3 220.8h15.4v3.4h-15.4z"/>
<path fill="#fbc2c6" d="M136.3 160.8h15.4v3.4h-15.4zM124.3 163.8h3.4v3.4h-3.4zM157.3 163.8h6.4v3.4h-6.4zM118.3 166.8h3.4v3.4h-3.4zM163.3 166.8h6.4v3.4h-6.4zM112.3 169.8h3.4v3.4h-3.4zM166.3 169.8h6.4v3.4h-6.4zM169.3 172.8h3.4v3.4h-3.4zM172.3 175.8h3.4v3.4h-3.4zM172.3 178.8h3.4v3.4h-3.4zM100.3 181.8h3.4v3.4h-3.4zM172.3 181.8h3.4v3.4h-3.4zM97.3 184.8h3.4v3.4h-3.4zM169.3 184.8h3.4v3.4h-3.4zM97.3 187.8h3.4v3.4h-3.4zM169.3 187.8h3.4v3.4h-3.4zM97.3 190.8h3.4v3.4h-3.4zM166.3 190.8h3.4v3.4h-3.4zM97.3 193.8h3.4v3.4h-3.4zM163.3 193.8h6.4v3.4h-6.4zM100.3 196.8h3.4v3.4h-3.4zM160.3 196.8h6.4v3.4h-6.4zM100.3 199.8h6.4v3.4h-6.4zM157.3 199.8h3.4v3.4h-3.4zM103.3 202.8h6.4v3.4h-6.4zM151.3 202.8h6.4v3.4h-6.4zM109.3 205.8h6.4v3.4h-6.4zM145.3 205.8h6.4v3.4h-6.4zM115.3 208.8h27.4v3.4h-27.4z"/>
<path fill="#fbbdc2" d="M127.3 163.8h6.4v3.4h-6.4zM151.3 163.8h6.4v3.4h-6.4zM121.3 166.8h3.4v3.4h-3.4zM160.3 166.8h3.4v3.4h-3.4zM115.3 169.8h3.4v3.4h-3.4zM163.3 169.8h3.4v3.4h-3.4zM109.3 172.8h3.4v3.4h-3.4zM166.3 172.8h3.4v3.4h-3.4zM106.3 175.8h3.4v3.4h-3.4zM166.3 175.8h6.4v3.4h-6.4zM103.3 178.8h3.4v3.4h-3.4zM169.3 178.8h3.4v3.4h-3.4zM169.3 181.8h3.4v3.4h-3.4zM100.3 184.8h3.4v3.4h-3.4zM166.3 184.8h3.4v3.4h-3.4zM100.3 187.8h3.4v3.4h-3.4zM166.3 187.8h3.4v3.4h-3.4zM100.3 190.8h3.4v3.4h-3.4zM163.3 190.8h3.4v3.4h-3.4zM100.3 193.8h3.4v3.4h-3.4zM160.3 193.8h3.4v3.4h-3.4zM103.3 196.8h3.4v3.4h-3.4zM157.3 196.8h3.4v3.4h-3.4zM106.3 199.8h3.4v3.4h-3.4zM154.3 199.8h3.4v3.4h-3.4zM109.3 202.8h3.4v3.4h-3.4zM148.3 202.8h3.4v3.4h-3.4zM115.3 205.8h6.4v3.4h-6.4zM139.3 205.8h6.4v3.4h-6.4z"/>
<path fill="#fbb8bd" d="M133.3 163.8h18.4v3.4h-18.4zM124.3 166.8h3.4v3.4h-3.4zM154.3 166.8h6.4v3.4h-6.4zM118.3 169.8h3.4v3.4h-3.4zM160.3 169.8h3.4v3.4h-3.4zM112.3 172.8h3.4v3.4h-3.4zM163.3 172.8h3.4v3.4h-3.4zM163.3 175.8h3.4v3.4h-3.4zM106.3 178.8h3.4v3.4h-3.4zM163.3 178.8h6.4v3.4h-6.4zM103.3 181.8h3.4v3.4h-3.4zM163.3 181.8h6.4v3.4h-6.4zM103.3 184.8h3.4v3.4h-3.4zM163.3 184.8h3.4v3.4h-3.4zM103.3 187.8h3.4v3.4h-3.4zM163.3 187.8h3.4v3.4h-3.4zM103.3 190.8h3.4v3.4h-3.4zM160.3 190.8h3.4v3.4h-3.4zM103.3 193.8h3.4v3.4h-3.4zM157.3 193.8h3.4v3.4h-3.4zM106.3 196.8h3.4v3.4h-3.4zM154.3 196.8h3.4v3.4h-3.4zM109.3 199.8h3.4v3.4h-3.4zM148.3 199.8h6.4v3.4h-6.4zM112.3 202.8h6.4v3.4h-6.4zM142.3 202.8h6.4v3.4h-6.4zM121.3 205.8h18.4v3.4h-18.4z"/>
<path fill="#fbb3b8" d="M127.3 166.8h6.4v3.4h-6.4zM148.3 166.8h6.4v3.4h-6.4zM121.3 169.8h3.4v3.4h-3.4zM154.3 169.8h6.4v3.4h-6.4zM115.3 172.8h3.4v3.4h-3.4zM157.3 172.8h6.4v3.4h-6.4zM109.3 175.8h3.4v3.4h-3.4zM160.3 175.8h3.4v3.4h-3.4zM160.3 178.8h3.4v3.4h-3.4zM106.3 181.8h3.4v3.4h-3.4zM160.3 181.8h3.4v3.4h-3.4zM106.3 184.8h3.4v3.4h-3.4zM160.3 184.8h3.4v3.4h-3.4zM106.3 187.8h3.4v3.4h-3.4zM160.3 187.8h3.4v3.4h-3.4zM106.3 190.8h3.4v3.4h-3.4zM157.3 190.8h3.4v3.4h-3.4zM106.3 193.8h3.4v3.4h-3.4zM154.3 193.8h3.4v3.4h-3.4zM109.3 196.8h3.4v3.4h-3.4zM151.3 196.8h3.4v3.4h-3.4zM112.3 199.8h6.4v3.4h-6.4zM142.3 199.8h6.4v3.4h-6.4zM118.3 202.8h24.4v3.4h-24.4z"/>
<path fill="#fbaeb4" d="M133.3 166.8h15.4v3.4h-15.4zM124.3 169.8h3.4v3.4h-3.4zM151.3 169.8h3.4v3.4h-3.4zM118.3 172.8h3.4v3.4h-3.4zM154.3 172.8h3.4v3.4h-3.4zM112.3 175.8h3.4v3.4h-3.4zM157.3 175.8h3.4v3.4h-3.4zM109.3 178.8h3.4v3.4h-3.4zM157.3 178.8h3.4v3.4h-3.4zM109.3 181.8h3.4v3.4h-3.4zM157.3 181.8h3.4v3.4h-3.4zM109.3 184.8h3.4v3.4h-3.4zM157.3 184.8h3.4v3.4h-3.4zM109.3 187.8h3.4v3.4h-3.4zM157.3 187.8h3.4v3.4h-3.4zM109.3 190.8h3.4v3.4h-3.4zM154.3 190.8h3.4v3.4h-3.4zM109.3 193.8h6.4v3.4h-6.4zM151.3 193.8h3.4v3.4h-3.4zM112.3 196.8h6.4v3.4h-6.4zM145.3 196.8h6.4v3.4h-6.4zM118.3 199.8h9.4v3.4h-9.4zM133.3 199.8h9.4v3.4h-9.4z"/>
<path fill="#faaaaf" d="M127.3 169.8h9.4v3.4h-9.4zM142.3 169.8h9.4v3.4h-9.4zM121.3 172.8h6.4v3.4h-6.4zM148.3 172.8h6.4v3.4h-6.4zM115.3 175.8h6.4v3.4h-6.4zM151.3 175.8h6.4v3.4h-6.4zM112.3 178.8h3.4v3.4h-3.4zM154.3 178.8h3.4v3.4h-3.4zM112.3 181.8h3.4v3.4h-3.4zM154.3 181.8h3.4v3.4h-3.4zM112.3 184.8h3.4v3.4h-3.4zM154.3 184.8h3.4v3.4h-3.4zM112.3 187.8h3.4v3.4h-3.4zM151.3 187.8h6.4v3.4h-6.4zM112.3 190.8h3.4v3.4h-3.4zM148.3 190.8h6.4v3.4h-6.4zM115.3 193.8h3.4v3.4h-3.4zM145.3 193.8h6.4v3.4h-6.4zM118.3 196.8h6.4v3.4h-6.4zM136.3 196.8h9.4v3.4h-9.4zM127.3 199.8h6.4v3.4h-6.4z"/>
<path fill="#faa5ab" d="M136.3 169.8h6.4v3.4h-6.4zM127.3 172.8h6.4v3.4h-6.4zM142.3 172.8h6.4v3.4h-6.4zM121.3 175.8h3.4v3.4h-3.4zM148.3 175.8h3.4v3.4h-3.4zM115.3 178.8h6.4v3.4h-6.4zM148.3 178.8h6.4v3.4h-6.4zM115.3 181.8h3.4v3.4h-3.4zM151.3 181.8h3.4v3.4h-3.4zM115.3 184.8h3.4v3.4h-3.4zM148.3 184.8h6.4v3.4h-6.4zM115.3 187.8h3.4v3.4h-3.4zM148.3 187.8h3.4v3.4h-3.4zM115.3 190.8h6.4v3.4h-6.4zM145.3 190.8h3.4v3.4h-3.4zM118.3 193.8h9.4v3.4h-9.4zM139.3 193.8h6.4v3.4h-6.4zM124.3 196.8h12.4v3.4h-12.4z"/>
<path fill="#faa0a6" d="M133.3 172.8h9.4v3.4h-9.4zM124.3 175.8h9.4v3.4h-9.4zM139.3 175.8h9.4v3.4h-9.4zM121.3 178.8h6.4v3.4h-6.4zM142.3 178.8h6.4v3.4h-6.4zM118.3 181.8h6.4v3.4h-6.4zM145.3 181.8h6.4v3.4h-6.4zM118.3 184.8h6.4v3.4h-6.4zM145.3 184.8h3.4v3.4h-3.4zM118.3 187.8h6.4v3.4h-6.4zM142.3 187.8h6.4v3.4h-6.4zM121.3 190.8h9.4v3.4h-9.4zM136.3 190.8h9.4v3.4h-9.4zM127.3 193.8h12.4v3.4h-12.4z"/>
<path fill="#f89ba1" d="M133.3 175.8h6.4v3.4h-6.4zM127.3 178.8h15.4v3.4h-15.4zM124.3 181.8h21.4v3.4h-21.4zM124.3 184.8h21.4v3.4h-21.4zM124.3 187.8h18.4v3.4h-18.4zM130.3 190.8h6.4v3.4h-6.4z"/>
</g></g>
<clipPath id="clipc"><rect x="52.5" y="311.5" width="229.5" height="176"/></clipPath>
<g clip-path="url(#clipc)"><g filter="url(#blur)">
<rect x="40.5" y="299.5" width="253.5" height="200" fill="#fff"/>
<path fill="#5562b3" d="M112.3 374.3h9.4v3.4h-9.4zM109.3 377.3h12.4v3.4h-12.4zM109.3 380.3h12.4v3.4h-12.4zM109.3 383.3h9.4v3.4h-9.4z"/>
<path fill="#5864b5" d="M112.3 371.3h12.4v3.4h-12.4zM106.3 374.3h6.4v3.4h-6.4zM121.3 374.3h6.4v3.4h-6.4zM103.3 377.3h6.4v3.4h-6.4zM121.3 377.3h6.4v3.4h-6.4zM103.3 380.3h6.4v3.4h-6.4zM121.3 380.3h3.4v3.4h-3.4zM103.3 383.3h6.4v3.4h-6.4zM118.3 383.3h6.4v3.4h-6.4zM103.3 386.3h18.4v3.4h-18.4zM103.3 389.3h12.4v3.4h-12.4z"/>
<path fill="#5b66b7" d="M112.3 368.3h15.4v3.4h-15.4zM106.3 371.3h6.4v3.4h-6.4zM124.3 371.3h6.4v3.4h-6.4zM103.3 374.3h3.4v3.4h-3.4zM127.3 374.3h3.4v3.4h-3.4zM100.3 377.3h3.4v3.4h-3.4zM127.3 377.3h3.4v3.4h-3.4zM100.3 380.3h3.4v3.4h-3.4zM124.3 380.3h3.4v3.4h-3.4zM97.3 383.3h6.4v3.4h-6.4zM124.3 383.3h3.4v3.4h-3.4zM97.3 386.3h6.4v3.4h-6.4zM121.3 386.3h3.4v3.4h-3.4zM97.3 389.3h6.4v3.4h-6.4zM115.3 389.3h6.4v3.4h-6.4zM100.3 392.3h15.4v3.4h-15.4z"/>
<path fill="#5e69b9" d="M115.3 365.3h12.4v3.4h-12.4zM109.3 368.3h3.4v3.4h-3.4zM127.3 368.3h3.4v3.4h-3.4zM103.3 371.3h3.4v3.4h-3.4zM130.3 371.3h3.4v3.4h-3.4zM100.3 374.3h3.4v3.4h-3.4zM130.3 374.3h3.4v3.4h-3.4zM97.3 377.3h3.4v3.4h-3.4zM97.3 380.3h3.4v3.4h-3.4zM127.3 380.3h3.4v3.4h-3.4zM94.3 383.3h3.4v3.4h-3.4zM94.3 386.3h3.4v3.4h-3.4zM124.3 386.3h3.4v3.4h-3.4zM94.3 389.3h3.4v3.4h-3.4zM121.3 389.3h3.4v3.4h-3.4zM94.3 392.3h6.4v3.4h-6.4zM115.3 392.3h6.4v3.4h-6.4zM97.3 395.3h18.4v3.4h-18.4z"/>
<path fill="#626bba" d="M121.3 362.3h6.4v3.4h-6.4zM112.3 365.3h3.4v3.4h-3.4zM127.3 365.3h6.4v3.4h-6.4zM106.3 368.3h3.4v3.4h-3.4zM130.3 368.3h3.4v3.4h-3.4zM130.3 377.3h3.4v3.4h-3.4zM94.3 380.3h3.4v3.4h-3.4zM130.3 380.3h3.4v3.4h-3.4zM127.3 383.3h3.4v3.4h-3.4zM91.3 386.3h3.4v3.4h-3.4zM91.3 389.3h3.4v3.4h-3.4zM91.3 392.3h3.4v3.4h-3.4zM94.3 395.3h3.4v3.4h-3.4zM115.3 395.3h3.4v3.4h-3.4zM97.3 398.3h15.4v3.4h-15.4z"/>
<path fill="#656ebc" d="M115.3 362.3h6.4v3.4h-6.4zM127.3 362.3h6.4v3.4h-6.4zM109.3 365.3h3.4v3.4h-3.4zM133.3 365.3h3.4v3.4h-3.4zM103.3 368.3h3.4v3.4h-3.4zM133.3 368.3h3.4v3.4h-3.4zM100.3 371.3h3.4v3.4h-3.4zM133.3 371.3h3.4v3.4h-3.4zM97.3 374.3h3.4v3.4h-3.4zM133.3 374.3h3.4v3.4h-3.4zM94.3 377.3h3.4v3.4h-3.4zM133.3 377.3h3.4v3.4h-3.4zM91.3 380.3h3.4v3.4h-3.4zM91.3 383.3h3.4v3.4h-3.4zM130.3 383.3h3.4v3.4h-3.4zM127.3 386.3h3.4v3.4h-3.4zM124.3 389.3h3.4v3.4h-3.4zM121.3 392.3h3.4v3.4h-3.4zM91.3 395.3h3.4v3.4h-3.4zM118.3 395.3h3.4v3.4h-3.4zM94.3 398.3h3.4v3.4h-3.4zM112.3 398.3h3.4v3.4h-3.4zM100.3 401.3h6.4v3.4h-6.4z"/>
<path fill="#6870be" d="M118.3 359.3h12.4v3.4h-12.4zM112.3 362.3h3.4v3.4h-3.4zM133.3 362.3h3.4v3.4h-3.4zM106.3 365.3h3.4v3.4h-3.4zM100.3 368.3h3.4v3.4h-3.4zM136.3 368.3h3.4v3.4h-3.4zM97.3 371.3h3.4v3.4h-3.4zM136.3 371.3h3.4v3.4h-3.4zM94.3 374.3h3.4v3.4h-3.4zM133.3 380.3h3.4v3.4h-3.4zM88.3 383.3h3.4v3.4h-3.4zM88.3 386.3h3.4v3.4h-3.4zM130.3 386.3h3.4v3.4h-3.4zM88.3 389.3h3.4v3.4h-3.4zM127.3 389.3h3.4v3.4h-3.4zM88.3 392.3h3.4v3.4h-3.4zM124.3 392.3h3.4v3.4h-3.4zM88.3 395.3h3.4v3.4h-3.4zM121.3 395.3h3.4v3.4h-3.4zM91.3 398.3h3.4v3.4h-3.4zM115.3 398.3h3.4v3.4h-3.4zM94.3 401.3h6.4v3.4h-6.4zM106.3 401.3h6.4v3.4h-6.4z"/>
<path fill="#6d75c1" d="M115.3 359.3h3.4v3.4h-3.4zM130.3 359.3h6.4v3.4h-6.4zM109.3 362.3h3.4v3.4h-3.4zM136.3 362.3h3.4v3.4h-3.4zM103.3 365.3h3.4v3.4h-3.4zM136.3 365.3h3.4v3.4h-3.4zM136.3 374.3h3.4v3.4h-3.4zM91.3 377.3h3.4v3.4h-3.4zM136.3 377.3h3.4v3.4h-3.4zM88.3 380.3h3.4v3.4h-3.4zM133.3 383.3h3.4v3.4h-3.4zM85.3 389.3h3.4v3.4h-3.4zM85.3 392.3h3.4v3.4h-3.4zM88.3 398.3h3.4v3.4h-3.4zM118.3 398.3h3.4v3.4h-3.4zM91.3 401.3h3.4v3.4h-3.4zM112.3 401.3h3.4v3.4h-3.4zM97.3 404.3h9.4v3.4h-9.4z"/>
<path fill="#737ac3" d="M121.3 356.3h12.4v3.4h-12.4zM112.3 359.3h3.4v3.4h-3.4zM136.3 359.3h3.4v3.4h-3.4zM106.3 362.3h3.4v3.4h-3.4zM139.3 362.3h3.4v3.4h-3.4zM100.3 365.3h3.4v3.4h-3.4zM139.3 365.3h3.4v3.4h-3.4zM97.3 368.3h3.4v3.4h-3.4zM139.3 368.3h3.4v3.4h-3.4zM94.3 371.3h3.4v3.4h-3.4zM139.3 371.3h3.4v3.4h-3.4zM91.3 374.3h3.4v3.4h-3.4zM139.3 374.3h3.4v3.4h-3.4zM88.3 377.3h3.4v3.4h-3.4zM136.3 380.3h3.4v3.4h-3.4zM85.3 383.3h3.4v3.4h-3.4zM85.3 386.3h3.4v3.4h-3.4zM133.3 386.3h3.4v3.4h-3.4zM130.3 389.3h3.4v3.4h-3.4zM127.3 392.3h3.4v3.4h-3.4zM85.3 395.3h3.4v3.4h-3.4zM124.3 395.3h3.4v3.4h-3.4zM85.3 398.3h3.4v3.4h-3.4zM88.3 401.3h3.4v3.4h-3.4zM115.3 401.3h3.4v3.4h-3.4zM91.3 404.3h6.4v3.4h-6.4zM106.3 404.3h6.4v3.4h-6.4z"/>
<path fill="#787ec6" d="M115.3 356.3h6.4v3.4h-6.4zM133.3 356.3h6.4v3.4h-6.4zM109.3 359.3h3.4v3.4h-3.4zM139.3 359.3h3.4v3.4h-3.4zM103.3 362.3h3.4v3.4h-3.4zM139.3 377.3h3.4v3.4h-3.4zM85.3 380.3h3.4v3.4h-3.4zM136.3 383.3h3.4v3.4h-3.4zM82.3 389.3h3.4v3.4h-3.4zM82.3 392.3h3.4v3.4h-3.4zM82.3 395.3h3.4v3.4h-3.4zM121.3 398.3h3.4v3.4h-3.4zM85.3 401.3h3.4v3.4h-3.4zM118.3 401.3h3.4v3.4h-3.4zM88.3 404.3h3.4v3.4h-3.4zM112.3 404.3h3.4v3.4h-3.4zM97.3 407.3h6.4v3.4h-6.4z"/>
<path fill="#7e83c8" d="M121.3 353.3h18.4v3.4h-18.4zM112.3 356.3h3.4v3.4h-3.4zM139.3 356.3h3.4v3.4h-3.4zM106.3 359.3h3.4v3.4h-3.4zM142.3 359.3h3.4v3.4h-3.4zM142.3 362.3h3.4v3.4h-3.4zM97.3 365.3h3.4v3.4h-3.4zM142.3 365.3h3.4v3.4h-3.4zM94.3 368.3h3.4v3.4h-3.4zM142.3 368.3h3.4v3.4h-3.4zM91.3 371.3h3.4v3.4h-3.4zM142.3 371.3h3.4v3.4h-3.4zM88.3 374.3h3.4v3.4h-3.4zM142.3 374.3h3.4v3.4h-3.4zM139.3 380.3h3.4v3.4h-3.4zM82.3 386.3h3.4v3.4h-3.4zM136.3 386.3h3.4v3.4h-3.4zM133.3 389.3h3.4v3.4h-3.4zM130.3 392.3h3.4v3.4h-3.4zM127.3 395.3h3.4v3.4h-3.4zM82.3 398.3h3.4v3.4h-3.4zM124.3 398.3h3.4v3.4h-3.4zM85.3 404.3h3.4v3.4h-3.4zM91.3 407.3h6.4v3.4h-6.4zM103.3 407.3h6.4v3.4h-6.4z"/>
<path fill="#8388cb" d="M118.3 353.3h3.4v3.4h-3.4zM139.3 353.3h3.4v3.4h-3.4zM109.3 356.3h3.4v3.4h-3.4zM142.3 356.3h3.4v3.4h-3.4zM103.3 359.3h3.4v3.4h-3.4zM145.3 359.3h3.4v3.4h-3.4zM100.3 362.3h3.4v3.4h-3.4zM145.3 362.3h3.4v3.4h-3.4zM145.3 365.3h3.4v3.4h-3.4zM145.3 368.3h3.4v3.4h-3.4zM85.3 377.3h3.4v3.4h-3.4zM142.3 377.3h3.4v3.4h-3.4zM82.3 383.3h3.4v3.4h-3.4zM139.3 383.3h3.4v3.4h-3.4zM79.3 392.3h3.4v3.4h-3.4zM79.3 395.3h3.4v3.4h-3.4zM82.3 401.3h3.4v3.4h-3.4zM121.3 401.3h3.4v3.4h-3.4zM115.3 404.3h3.4v3.4h-3.4zM88.3 407.3h3.4v3.4h-3.4zM109.3 407.3h3.4v3.4h-3.4z"/>
<path fill="#888dce" d="M124.3 350.3h21.4v3.4h-21.4zM115.3 353.3h3.4v3.4h-3.4zM142.3 353.3h6.4v3.4h-6.4zM145.3 356.3h3.4v3.4h-3.4zM97.3 362.3h3.4v3.4h-3.4zM94.3 365.3h3.4v3.4h-3.4zM91.3 368.3h3.4v3.4h-3.4zM88.3 371.3h3.4v3.4h-3.4zM145.3 371.3h3.4v3.4h-3.4zM85.3 374.3h3.4v3.4h-3.4zM145.3 374.3h3.4v3.4h-3.4zM82.3 380.3h3.4v3.4h-3.4zM142.3 380.3h3.4v3.4h-3.4zM79.3 386.3h3.4v3.4h-3.4zM79.3 389.3h3.4v3.4h-3.4zM136.3 389.3h3.4v3.4h-3.4zM133.3 392.3h3.4v3.4h-3.4zM130.3 395.3h3.4v3.4h-3.4zM79.3 398.3h3.4v3.4h-3.4zM127.3 398.3h3.4v3.4h-3.4zM82.3 404.3h3.4v3.4h-3.4zM118.3 404.3h3.4v3.4h-3.4zM85.3 407.3h3.4v3.4h-3.4zM112.3 407.3h3.4v3.4h-3.4zM91.3 410.3h15.4v3.4h-15.4z"/>
<path fill="#8e92d0" d="M130.3 347.3h15.4v3.4h-15.4zM118.3 350.3h6.4v3.4h-6.4zM145.3 350.3h3.4v3.4h-3.4zM112.3 353.3h3.4v3.4h-3.4zM148.3 353.3h3.4v3.4h-3.4zM106.3 356.3h3.4v3.4h-3.4zM148.3 356.3h3.4v3.4h-3.4zM100.3 359.3h3.4v3.4h-3.4zM148.3 359.3h3.4v3.4h-3.4zM148.3 362.3h3.4v3.4h-3.4zM148.3 365.3h3.4v3.4h-3.4zM148.3 368.3h3.4v3.4h-3.4zM82.3 377.3h3.4v3.4h-3.4zM145.3 377.3h3.4v3.4h-3.4zM79.3 383.3h3.4v3.4h-3.4zM142.3 383.3h3.4v3.4h-3.4zM139.3 386.3h3.4v3.4h-3.4zM79.3 401.3h3.4v3.4h-3.4zM124.3 401.3h3.4v3.4h-3.4zM82.3 407.3h3.4v3.4h-3.4zM115.3 407.3h3.4v3.4h-3.4zM88.3 410.3h3.4v3.4h-3.4zM106.3 410.3h3.4v3.4h-3.4z"/>
<path fill="#9396d3" d="M136.3 344.3h15.4v3.4h-15.4zM124.3 347.3h6.4v3.4h-6.4zM145.3 347.3h9.4v3.4h-9.4zM115.3 350.3h3.4v3.4h-3.4zM148.3 350.3h6.4v3.4h-6.4zM109.3 353.3h3.4v3.4h-3.4zM151.3 353.3h3.4v3.4h-3.4zM103.3 356.3h3.4v3.4h-3.4zM151.3 356.3h3.4v3.4h-3.4zM151.3 359.3h3.4v3.4h-3.4zM94.3 362.3h3.4v3.4h-3.4zM151.3 362.3h3.4v3.4h-3.4zM91.3 365.3h3.4v3.4h-3.4zM151.3 365.3h3.4v3.4h-3.4zM88.3 368.3h3.4v3.4h-3.4zM85.3 371.3h3.4v3.4h-3.4zM148.3 371.3h3.4v3.4h-3.4zM148.3 374.3h3.4v3.4h-3.4zM79.3 380.3h3.4v3.4h-3.4zM145.3 380.3h3.4v3.4h-3.4zM76.3 389.3h3.4v3.4h-3.4zM139.3 389.3h3.4v3.4h-3.4zM76.3 392.3h3.4v3.4h-3.4zM136.3 392.3h3.4v3.4h-3.4zM76.3 395.3h3.4v3.4h-3.4zM133.3 395.3h3.4v3.4h-3.4zM76.3 398.3h3.4v3.4h-3.4zM130.3 398.3h3.4v3.4h-3.4zM76.3 401.3h3.4v3.4h-3.4zM79.3 404.3h3.4v3.4h-3.4zM121.3 404.3h3.4v3.4h-3.4zM85.3 410.3h3.4v3.4h-3.4zM109.3 410.3h3.4v3.4h-3.4zM94.3 413.3h6.4v3.4h-6.4z"/>
<path fill="#999bd5" d="M166.3 326.3h3.4v3.4h-3.4zM163.3 329.3h6.4v3.4h-6.4zM160.3 332.3h6.4v3.4h-6.4zM157.3 335.3h6.4v3.4h-6.4zM151.3 338.3h12.4v3.4h-12.4zM139.3 341.3h21.4v3.4h-21.4zM130.3 344.3h6.4v3.4h-6.4zM151.3 344.3h9.4v3.4h-9.4zM121.3 347.3h3.4v3.4h-3.4zM154.3 347.3h6.4v3.4h-6.4zM112.3 350.3h3.4v3.4h-3.4zM154.3 350.3h6.4v3.4h-6.4zM106.3 353.3h3.4v3.4h-3.4zM154.3 353.3h3.4v3.4h-3.4zM154.3 356.3h3.4v3.4h-3.4zM97.3 359.3h3.4v3.4h-3.4zM154.3 359.3h3.4v3.4h-3.4zM154.3 362.3h3.4v3.4h-3.4zM151.3 368.3h3.4v3.4h-3.4zM151.3 371.3h3.4v3.4h-3.4zM82.3 374.3h3.4v3.4h-3.4zM148.3 377.3h3.4v3.4h-3.4zM145.3 383.3h3.4v3.4h-3.4zM76.3 386.3h3.4v3.4h-3.4zM142.3 386.3h3.4v3.4h-3.4zM127.3 401.3h3.4v3.4h-3.4zM76.3 404.3h3.4v3.4h-3.4zM124.3 404.3h3.4v3.4h-3.4zM79.3 407.3h3.4v3.4h-3.4zM118.3 407.3h3.4v3.4h-3.4zM82.3 410.3h3.4v3.4h-3.4zM112.3 410.3h3.4v3.4h-3.4zM88.3 413.3h6.4v3.4h-6.4zM100.3 413.3h6.4v3.4h-6.4z"/>
<path fill="#9ea0d8" d="M166.3 314.3h12.4v3.4h-12.4zM163.3 317.3h18.4v3.4h-18.4zM160.3 320.3h21.4v3.4h-21.4zM157.3 323.3h24.4v3.4h-24.4zM154.3 326.3h12.4v3.4h-12.4zM169.3 326.3h12.4v3.4h-12.4zM154.3 329.3h9.4v3.4h-9.4zM169.3 329.3h9.4v3.4h-9.4zM151.3 332.3h9.4v3.4h-9.4zM166.3 332.3h12.4v3.4h-12.4zM145.3 335.3h12.4v3.4h-12.4zM163.3 335.3h12.4v3.4h-12.4zM139.3 338.3h12.4v3.4h-12.4zM163.3 338.3h9.4v3.4h-9.4zM133.3 341.3h6.4v3.4h-6.4zM160.3 341.3h9.4v3.4h-9.4zM124.3 344.3h6.4v3.4h-6.4zM160.3 344.3h9.4v3.4h-9.4zM118.3 347.3h3.4v3.4h-3.4zM160.3 347.3h6.4v3.4h-6.4zM109.3 350.3h3.4v3.4h-3.4zM160.3 350.3h3.4v3.4h-3.4zM157.3 353.3h6.4v3.4h-6.4zM100.3 356.3h3.4v3.4h-3.4zM157.3 356.3h3.4v3.4h-3.4zM157.3 359.3h3.4v3.4h-3.4zM91.3 362.3h3.4v3.4h-3.4zM157.3 362.3h3.4v3.4h-3.4zM88.3 365.3h3.4v3.4h-3.4zM154.3 365.3h3.4v3.4h-3.4zM85.3 368.3h3.4v3.4h-3.4zM154.3 368.3h3.4v3.4h-3.4zM82.3 371.3h3.4v3.4h-3.4zM151.3 374.3h3.4v3.4h-3.4zM79.3 377.3h3.4v3.4h-3.4zM148.3 380.3h3.4v3.4h-3.4zM76.3 383.3h3.4v3.4h-3.4zM142.3 389.3h3.4v3.4h-3.4zM73.3 392.3h3.4v3.4h-3.4zM139.3 392.3h3.4v3.4h-3.4zM73.3 395.3h3.4v3.4h-3.4zM136.3 395.3h3.4v3.4h-3.4zM73.3 398.3h3.4v3.4h-3.4zM133.3 398.3h3.4v3.4h-3.4zM76.3 407.3h3.4v3.4h-3.4zM121.3 407.3h3.4v3.4h-3.4zM79.3 410.3h3.4v3.4h-3.4zM115.3 410.3h3.4v3.4h-3.4zM85.3 413.3h3.4v3.4h-3.4zM106.3 413.3h3.4v3.4h-3.4z"/>
<path fill="#a3a5db" d="M166.3 302.3h18.4v3.4h-18.4zM166.3 305.3h18.4v3.4h-18.4zM166.3 308.3h18.4v3.4h-18.4zM163.3 311.3h21.4v3.4h-21.4zM160.3 314.3h6.4v3.4h-6.4zM178.3 314.3h9.4v3.4h-9.4zM157.3 317.3h6.4v3.4h-6.4zM181.3 317.3h6.4v3.4h-6.4zM154.3 320.3h6.4v3.4h-6.4zM181.3 320.3h6.4v3.4h-6.4zM151.3 323.3h6.4v3.4h-6.4zM181.3 323.3h6.4v3.4h-6.4zM151.3 326.3h3.4v3.4h-3.4zM181.3 326.3h3.4v3.4h-3.4zM148.3 329.3h6.4v3.4h-6.4zM178.3 329.3h6.4v3.4h-6.4zM145.3 332.3h6.4v3.4h-6.4zM178.3 332.3h3.4v3.4h-3.4zM139.3 335.3h6.4v3.4h-6.4zM175.3 335.3h6.4v3.4h-6.4zM133.3 338.3h6.4v3.4h-6.4zM172.3 338.3h6.4v3.4h-6.4zM127.3 341.3h6.4v3.4h-6.4zM169.3 341.3h6.4v3.4h-6.4zM121.3 344.3h3.4v3.4h-3.4zM169.3 344.3h6.4v3.4h-6.4zM115.3 347.3h3.4v3.4h-3.4zM166.3 347.3h6.4v3.4h-6.4zM163.3 350.3h6.4v3.4h-6.4zM103.3 353.3h3.4v3.4h-3.4zM163.3 353.3h3.4v3.4h-3.4zM97.3 356.3h3.4v3.4h-3.4zM160.3 356.3h6.4v3.4h-6.4zM94.3 359.3h3.4v3.4h-3.4zM160.3 359.3h3.4v3.4h-3.4zM160.3 362.3h3.4v3.4h-3.4zM157.3 365.3h3.4v3.4h-3.4zM157.3 368.3h3.4v3.4h-3.4zM154.3 371.3h3.4v3.4h-3.4zM79.3 374.3h3.4v3.4h-3.4zM151.3 377.3h3.4v3.4h-3.4zM76.3 380.3h3.4v3.4h-3.4zM148.3 383.3h3.4v3.4h-3.4zM73.3 386.3h3.4v3.4h-3.4zM145.3 386.3h3.4v3.4h-3.4zM73.3 389.3h3.4v3.4h-3.4zM73.3 401.3h3.4v3.4h-3.4zM130.3 401.3h3.4v3.4h-3.4zM73.3 404.3h3.4v3.4h-3.4zM127.3 404.3h3.4v3.4h-3.4zM82.3 413.3h3.4v3.4h-3.4zM109.3 413.3h3.4v3.4h-3.4zM91.3 416.3h9.4v3.4h-9.4z"/>
<path fill="#a8aadd" d="M160.3 302.3h6.4v3.4h-6.4zM184.3 302.3h6.4v3.4h-6.4zM160.3 305.3h6.4v3.4h-6.4zM184.3 305.3h6.4v3.4h-6.4zM160.3 308.3h6.4v3.4h-6.4zM184.3 308.3h6.4v3.4h-6.4zM157.3 311.3h6.4v3.4h-6.4zM184.3 311.3h6.4v3.4h-6.4zM154.3 314.3h6.4v3.4h-6.4zM187.3 314.3h3.4v3.4h-3.4zM151.3 317.3h6.4v3.4h-6.4zM187.3 317.3h3.4v3.4h-3.4zM151.3 320.3h3.4v3.4h-3.4zM187.3 320.3h3.4v3.4h-3.4zM148.3 323.3h3.4v3.4h-3.4zM187.3 323.3h3.4v3.4h-3.4zM145.3 326.3h6.4v3.4h-6.4zM184.3 326.3h6.4v3.4h-6.4zM142.3 329.3h6.4v3.4h-6.4zM184.3 329.3h3.4v3.4h-3.4zM139.3 332.3h6.4v3.4h-6.4zM181.3 332.3h6.4v3.4h-6.4zM136.3 335.3h3.4v3.4h-3.4zM181.3 335.3h3.4v3.4h-3.4zM130.3 338.3h3.4v3.4h-3.4zM178.3 338.3h6.4v3.4h-6.4zM124.3 341.3h3.4v3.4h-3.4zM175.3 341.3h6.4v3.4h-6.4zM118.3 344.3h3.4v3.4h-3.4zM175.3 344.3h3.4v3.4h-3.4zM112.3 347.3h3.4v3.4h-3.4zM172.3 347.3h6.4v3.4h-6.4zM106.3 350.3h3.4v3.4h-3.4zM169.3 350.3h6.4v3.4h-6.4zM100.3 353.3h3.4v3.4h-3.4zM166.3 353.3h6.4v3.4h-6.4zM166.3 356.3h3.4v3.4h-3.4zM163.3 359.3h3.4v3.4h-3.4zM88.3 362.3h3.4v3.4h-3.4zM163.3 362.3h3.4v3.4h-3.4zM85.3 365.3h3.4v3.4h-3.4zM160.3 365.3h3.4v3.4h-3.4zM82.3 368.3h3.4v3.4h-3.4zM157.3 371.3h3.4v3.4h-3.4zM154.3 374.3h3.4v3.4h-3.4zM76.3 377.3h3.4v3.4h-3.4zM154.3 377.3h3.4v3.4h-3.4zM151.3 380.3h3.4v3.4h-3.4zM73.3 383.3h3.4v3.4h-3.4zM145.3 389.3h3.4v3.4h-3.4zM142.3 392.3h3.4v3.4h-3.4zM70.3 395.3h3.4v3.4h-3.4zM139.3 395.3h3.4v3.4h-3.4zM70.3 398.3h3.4v3.4h-3.4zM136.3 398.3h3.4v3.4h-3.4zM133.3 401.3h3.4v3.4h-3.4zM73.3 407.3h3.4v3.4h-3.4zM124.3 407.3h3.4v3.4h-3.4zM76.3 410.3h3.4v3.4h-3.4zM118.3 410.3h3.4v3.4h-3.4zM79.3 413.3h3.4v3.4h-3.4zM112.3 413.3h3.4v3.4h-3.4zM85.3 416.3h6.4v3.4h-6.4zM100.3 416.3h6.4v3.4h-6.4z"/>
<path fill="#aeafe0" d="M154.3 302.3h6.4v3.4h-6.4zM190.3 302.3h3.4v3.4h-3.4zM154.3 305.3h6.4v3.4h-6.4zM190.3 305.3h3.4v3.4h-3.4zM154.3 308.3h6.4v3.4h-6.4zM190.3 308.3h3.4v3.4h-3.4zM154.3 311.3h3.4v3.4h-3.4zM190.3 311.3h3.4v3.4h-3.4zM151.3 314.3h3.4v3.4h-3.4zM190.3 314.3h3.4v3.4h-3.4zM148.3 317.3h3.4v3.4h-3.4zM190.3 317.3h3.4v3.4h-3.4zM145.3 320.3h6.4v3.4h-6.4zM190.3 320.3h3.4v3.4h-3.4zM145.3 323.3h3.4v3.4h-3.4zM190.3 323.3h3.4v3.4h-3.4zM142.3 326.3h3.4v3.4h-3.4zM190.3 326.3h3.4v3.4h-3.4zM139.3 329.3h3.4v3.4h-3.4zM187.3 329.3h6.4v3.4h-6.4zM136.3 332.3h3.4v3.4h-3.4zM187.3 332.3h3.4v3.4h-3.4zM130.3 335.3h6.4v3.4h-6.4zM184.3 335.3h6.4v3.4h-6.4zM127.3 338.3h3.4v3.4h-3.4zM184.3 338.3h3.4v3.4h-3.4zM121.3 341.3h3.4v3.4h-3.4zM181.3 341.3h6.4v3.4h-6.4zM115.3 344.3h3.4v3.4h-3.4zM178.3 344.3h6.4v3.4h-6.4zM109.3 347.3h3.4v3.4h-3.4zM178.3 347.3h3.4v3.4h-3.4zM103.3 350.3h3.4v3.4h-3.4zM175.3 350.3h3.4v3.4h-3.4zM172.3 353.3h3.4v3.4h-3.4zM94.3 356.3h3.4v3.4h-3.4zM169.3 356.3h6.4v3.4h-6.4zM91.3 359.3h3.4v3.4h-3.4zM166.3 359.3h6.4v3.4h-6.4zM166.3 362.3h3.4v3.4h-3.4zM163.3 365.3h3.4v3.4h-3.4zM160.3 368.3h3.4v3.4h-3.4zM79.3 371.3h3.4v3.4h-3.4zM160.3 371.3h3.4v3.4h-3.4zM157.3 374.3h3.4v3.4h-3.4zM73.3 380.3h3.4v3.4h-3.4zM154.3 380.3h3.4v3.4h-3.4zM151.3 383.3h3.4v3.4h-3.4zM148.3 386.3h3.4v3.4h-3.4zM70.3 389.3h3.4v3.4h-3.4zM70.3 392.3h3.4v3.4h-3.4zM70.3 401.3h3.4v3.4h-3.4zM70.3 404.3h3.4v3.4h-3.4zM130.3 404.3h3.4v3.4h-3.4zM73.3 410.3h3.4v3.4h-3.4zM121.3 410.3h3.4v3.4h-3.4zM76.3 413.3h3.4v3.4h-3.4zM115.3 413.3h3.4v3.4h-3.4zM82.3 416.3h3.4v3.4h-3.4zM106.3 416.3h3.4v3.4h-3.4z"/>
<path fill="#b3b4e2" d="M151.3 302.3h3.4v3.4h-3.4zM193.3 302.3h3.4v3.4h-3.4zM151.3 305.3h3.4v3.4h-3.4zM193.3 305.3h3.4v3.4h-3.4zM151.3 308.3h3.4v3.4h-3.4zM193.3 308.3h3.4v3.4h-3.4zM148.3 311.3h6.4v3.4h-6.4zM193.3 311.3h3.4v3.4h-3.4zM148.3 314.3h3.4v3.4h-3.4zM193.3 314.3h6.4v3.4h-6.4zM145.3 317.3h3.4v3.4h-3.4zM193.3 317.3h6.4v3.4h-6.4zM142.3 320.3h3.4v3.4h-3.4zM193.3 320.3h3.4v3.4h-3.4zM139.3 323.3h6.4v3.4h-6.4zM193.3 323.3h3.4v3.4h-3.4zM139.3 326.3h3.4v3.4h-3.4zM193.3 326.3h3.4v3.4h-3.4zM136.3 329.3h3.4v3.4h-3.4zM193.3 329.3h3.4v3.4h-3.4zM133.3 332.3h3.4v3.4h-3.4zM190.3 332.3h3.4v3.4h-3.4zM127.3 335.3h3.4v3.4h-3.4zM190.3 335.3h3.4v3.4h-3.4zM124.3 338.3h3.4v3.4h-3.4zM187.3 338.3h3.4v3.4h-3.4zM118.3 341.3h3.4v3.4h-3.4zM187.3 341.3h3.4v3.4h-3.4zM112.3 344.3h3.4v3.4h-3.4zM184.3 344.3h3.4v3.4h-3.4zM106.3 347.3h3.4v3.4h-3.4zM181.3 347.3h6.4v3.4h-6.4zM178.3 350.3h6.4v3.4h-6.4zM97.3 353.3h3.4v3.4h-3.4zM175.3 353.3h6.4v3.4h-6.4zM175.3 356.3h3.4v3.4h-3.4zM172.3 359.3h3.4v3.4h-3.4zM85.3 362.3h3.4v3.4h-3.4zM169.3 362.3h3.4v3.4h-3.4zM82.3 365.3h3.4v3.4h-3.4zM166.3 365.3h3.4v3.4h-3.4zM163.3 368.3h6.4v3.4h-6.4zM163.3 371.3h3.4v3.4h-3.4zM76.3 374.3h3.4v3.4h-3.4zM160.3 374.3h3.4v3.4h-3.4zM157.3 377.3h3.4v3.4h-3.4zM154.3 383.3h3.4v3.4h-3.4zM70.3 386.3h3.4v3.4h-3.4zM151.3 386.3h3.4v3.4h-3.4zM148.3 389.3h3.4v3.4h-3.4zM145.3 392.3h3.4v3.4h-3.4zM142.3 395.3h3.4v3.4h-3.4zM139.3 398.3h3.4v3.4h-3.4zM136.3 401.3h3.4v3.4h-3.4zM70.3 407.3h3.4v3.4h-3.4zM127.3 407.3h3.4v3.4h-3.4zM79.3 416.3h3.4v3.4h-3.4zM109.3 416.3h3.4v3.4h-3.4zM85.3 419.3h15.4v3.4h-15.4z"/>
<path fill="#b8b9e5" d="M148.3 302.3h3.4v3.4h-3.4zM196.3 302.3h6.4v3.4h-6.4zM148.3 305.3h3.4v3.4h-3.4zM196.3 305.3h6.4v3.4h-6.4zM148.3 308.3h3.4v3.4h-3.4zM196.3 308.3h6.4v3.4h-6.4zM145.3 311.3h3.4v3.4h-3.4zM196.3 311.3h6.4v3.4h-6.4zM142.3 314.3h6.4v3.4h-6.4zM199.3 314.3h3.4v3.4h-3.4zM142.3 317.3h3.4v3.4h-3.4zM199.3 317.3h3.4v3.4h-3.4zM139.3 320.3h3.4v3.4h-3.4zM196.3 320.3h3.4v3.4h-3.4zM136.3 323.3h3.4v3.4h-3.4zM196.3 323.3h3.4v3.4h-3.4zM136.3 326.3h3.4v3.4h-3.4zM196.3 326.3h3.4v3.4h-3.4zM133.3 329.3h3.4v3.4h-3.4zM196.3 329.3h3.4v3.4h-3.4zM130.3 332.3h3.4v3.4h-3.4zM193.3 332.3h3.4v3.4h-3.4zM124.3 335.3h3.4v3.4h-3.4zM193.3 335.3h3.4v3.4h-3.4zM121.3 338.3h3.4v3.4h-3.4zM190.3 338.3h6.4v3.4h-6.4zM115.3 341.3h3.4v3.4h-3.4zM190.3 341.3h3.4v3.4h-3.4zM109.3 344.3h3.4v3.4h-3.4zM187.3 344.3h6.4v3.4h-6.4zM103.3 347.3h3.4v3.4h-3.4zM187.3 347.3h3.4v3.4h-3.4zM100.3 350.3h3.4v3.4h-3.4zM184.3 350.3h3.4v3.4h-3.4zM94.3 353.3h3.4v3.4h-3.4zM181.3 353.3h6.4v3.4h-6.4zM91.3 356.3h3.4v3.4h-3.4zM178.3 356.3h6.4v3.4h-6.4zM88.3 359.3h3.4v3.4h-3.4zM175.3 359.3h6.4v3.4h-6.4zM172.3 362.3h6.4v3.4h-6.4zM169.3 365.3h6.4v3.4h-6.4zM79.3 368.3h3.4v3.4h-3.4zM169.3 368.3h3.4v3.4h-3.4zM76.3 371.3h3.4v3.4h-3.4zM166.3 371.3h3.4v3.4h-3.4zM163.3 374.3h3.4v3.4h-3.4zM73.3 377.3h3.4v3.4h-3.4zM160.3 377.3h3.4v3.4h-3.4zM157.3 380.3h3.4v3.4h-3.4zM70.3 383.3h3.4v3.4h-3.4zM67.3 389.3h3.4v3.4h-3.4zM151.3 389.3h3.4v3.4h-3.4zM67.3 392.3h3.4v3.4h-3.4zM148.3 392.3h3.4v3.4h-3.4zM67.3 395.3h3.4v3.4h-3.4zM145.3 395.3h3.4v3.4h-3.4zM67.3 398.3h3.4v3.4h-3.4zM67.3 401.3h3.4v3.4h-3.4zM67.3 404.3h3.4v3.4h-3.4zM133.3 404.3h3.4v3.4h-3.4zM70.3 410.3h3.4v3.4h-3.4zM124.3 410.3h3.4v3.4h-3.4zM73.3 413.3h3.4v3.4h-3.4zM118.3 413.3h3.4v3.4h-3.4zM76.3 416.3h3.4v3.4h-3.4zM112.3 416.3h3.4v3.4h-3.4zM82.3 419.3h3.4v3.4h-3.4zM100.3 419.3h6.4v3.4h-6.4z"/>
<path fill="#bdbee8" d="M142.3 302.3h6.4v3.4h-6.4zM202.3 302.3h3.4v3.4h-3.4zM142.3 305.3h6.4v3.4h-6.4zM202.3 305.3h3.4v3.4h-3.4zM142.3 308.3h6.4v3.4h-6.4zM202.3 308.3h3.4v3.4h-3.4zM142.3 311.3h3.4v3.4h-3.4zM202.3 311.3h3.4v3.4h-3.4zM139.3 314.3h3.4v3.4h-3.4zM202.3 314.3h3.4v3.4h-3.4zM139.3 317.3h3.4v3.4h-3.4zM202.3 317.3h3.4v3.4h-3.4zM136.3 320.3h3.4v3.4h-3.4zM199.3 320.3h3.4v3.4h-3.4zM133.3 323.3h3.4v3.4h-3.4zM199.3 323.3h3.4v3.4h-3.4zM133.3 326.3h3.4v3.4h-3.4zM199.3 326.3h3.4v3.4h-3.4zM130.3 329.3h3.4v3.4h-3.4zM199.3 329.3h3.4v3.4h-3.4zM124.3 332.3h6.4v3.4h-6.4zM196.3 332.3h3.4v3.4h-3.4zM121.3 335.3h3.4v3.4h-3.4zM196.3 335.3h3.4v3.4h-3.4zM118.3 338.3h3.4v3.4h-3.4zM196.3 338.3h3.4v3.4h-3.4zM112.3 341.3h3.4v3.4h-3.4zM193.3 341.3h3.4v3.4h-3.4zM106.3 344.3h3.4v3.4h-3.4zM193.3 344.3h3.4v3.4h-3.4zM190.3 347.3h3.4v3.4h-3.4zM97.3 350.3h3.4v3.4h-3.4zM187.3 350.3h6.4v3.4h-6.4zM187.3 353.3h3.4v3.4h-3.4zM184.3 356.3h6.4v3.4h-6.4zM85.3 359.3h3.4v3.4h-3.4zM181.3 359.3h6.4v3.4h-6.4zM82.3 362.3h3.4v3.4h-3.4zM178.3 362.3h6.4v3.4h-6.4zM79.3 365.3h3.4v3.4h-3.4zM175.3 365.3h6.4v3.4h-6.4zM172.3 368.3h6.4v3.4h-6.4zM169.3 371.3h6.4v3.4h-6.4zM73.3 374.3h3.4v3.4h-3.4zM166.3 374.3h6.4v3.4h-6.4zM163.3 377.3h6.4v3.4h-6.4zM70.3 380.3h3.4v3.4h-3.4zM160.3 380.3h3.4v3.4h-3.4zM157.3 383.3h3.4v3.4h-3.4zM67.3 386.3h3.4v3.4h-3.4zM154.3 386.3h3.4v3.4h-3.4zM142.3 398.3h3.4v3.4h-3.4zM139.3 401.3h3.4v3.4h-3.4zM67.3 407.3h3.4v3.4h-3.4zM130.3 407.3h3.4v3.4h-3.4zM70.3 413.3h3.4v3.4h-3.4zM121.3 413.3h3.4v3.4h-3.4zM73.3 416.3h3.4v3.4h-3.4zM115.3 416.3h3.4v3.4h-3.4zM79.3 419.3h3.4v3.4h-3.4zM106.3 419.3h3.4v3.4h-3.4z"/>
<path fill="#c2c3ea" d="M139.3 302.3h3.4v3.4h-3.4zM205.3 302.3h3.4v3.4h-3.4zM139.3 305.3h3.4v3.4h-3.4zM205.3 305.3h3.4v3.4h-3.4zM139.3 308.3h3.4v3.4h-3.4zM205.3 308.3h3.4v3.4h-3.4zM139.3 311.3h3.4v3.4h-3.4zM205.3 311.3h3.4v3.4h-3.4zM136.3 314.3h3.4v3.4h-3.4zM205.3 314.3h3.4v3.4h-3.4zM136.3 317.3h3.4v3.4h-3.4zM205.3 317.3h3.4v3.4h-3.4zM133.3 320.3h3.4v3.4h-3.4zM202.3 320.3h3.4v3.4h-3.4zM130.3 323.3h3.4v3.4h-3.4zM202.3 323.3h3.4v3.4h-3.4zM127.3 326.3h6.4v3.4h-6.4zM202.3 326.3h3.4v3.4h-3.4zM124.3 329.3h6.4v3.4h-6.4zM202.3 329.3h3.4v3.4h-3.4zM121.3 332.3h3.4v3.4h-3.4zM199.3 332.3h3.4v3.4h-3.4zM118.3 335.3h3.4v3.4h-3.4zM199.3 335.3h3.4v3.4h-3.4zM115.3 338.3h3.4v3.4h-3.4zM199.3 338.3h3.4v3.4h-3.4zM109.3 341.3h3.4v3.4h-3.4zM196.3 341.3h6.4v3.4h-6.4zM103.3 344.3h3.4v3.4h-3.4zM196.3 344.3h3.4v3.4h-3.4zM100.3 347.3h3.4v3.4h-3.4zM193.3 347.3h6.4v3.4h-6.4zM193.3 350.3h3.4v3.4h-3.4zM91.3 353.3h3.4v3.4h-3.4zM190.3 353.3h6.4v3.4h-6.4zM88.3 356.3h3.4v3.4h-3.4zM190.3 356.3h3.4v3.4h-3.4zM187.3 359.3h6.4v3.4h-6.4zM184.3 362.3h6.4v3.4h-6.4zM181.3 365.3h6.4v3.4h-6.4zM76.3 368.3h3.4v3.4h-3.4zM178.3 368.3h6.4v3.4h-6.4zM73.3 371.3h3.4v3.4h-3.4zM175.3 371.3h6.4v3.4h-6.4zM172.3 374.3h6.4v3.4h-6.4zM70.3 377.3h3.4v3.4h-3.4zM169.3 377.3h3.4v3.4h-3.4zM163.3 380.3h6.4v3.4h-6.4zM67.3 383.3h3.4v3.4h-3.4zM160.3 383.3h6.4v3.4h-6.4zM157.3 386.3h3.4v3.4h-3.4zM154.3 389.3h3.4v3.4h-3.4zM64.3 392.3h3.4v3.4h-3.4zM151.3 392.3h3.4v3.4h-3.4zM64.3 395.3h3.4v3.4h-3.4zM148.3 395.3h3.4v3.4h-3.4zM64.3 398.3h3.4v3.4h-3.4zM145.3 398.3h3.4v3.4h-3.4zM64.3 401.3h3.4v3.4h-3.4zM64.3 404.3h3.4v3.4h-3.4zM136.3 404.3h3.4v3.4h-3.4zM133.3 407.3h3.4v3.4h-3.4zM67.3 410.3h3.4v3.4h-3.4zM127.3 410.3h3.4v3.4h-3.4zM70.3 416.3h3.4v3.4h-3.4zM76.3 419.3h3.4v3.4h-3.4zM109.3 419.3h3.4v3.4h-3.4zM82.3 422.3h18.4v3.4h-18.4z"/>
<path fill="#c8c8ed" d="M136.3 302.3h3.4v3.4h-3.4zM208.3 302.3h3.4v3.4h-3.4zM136.3 305.3h3.4v3.4h-3.4zM208.3 305.3h3.4v3.4h-3.4zM136.3 308.3h3.4v3.4h-3.4zM208.3 308.3h3.4v3.4h-3.4zM136.3 311.3h3.4v3.4h-3.4zM208.3 311.3h3.4v3.4h-3.4zM133.3 314.3h3.4v3.4h-3.4zM208.3 314.3h3.4v3.4h-3.4zM133.3 317.3h3.4v3.4h-3.4zM208.3 317.3h3.4v3.4h-3.4zM130.3 320.3h3.4v3.4h-3.4zM205.3 320.3h3.4v3.4h-3.4zM127.3 323.3h3.4v3.4h-3.4zM205.3 323.3h3.4v3.4h-3.4zM124.3 326.3h3.4v3.4h-3.4zM205.3 326.3h3.4v3.4h-3.4zM121.3 329.3h3.4v3.4h-3.4zM205.3 329.3h3.4v3.4h-3.4zM118.3 332.3h3.4v3.4h-3.4zM202.3 332.3h6.4v3.4h-6.4zM115.3 335.3h3.4v3.4h-3.4zM202.3 335.3h3.4v3.4h-3.4zM112.3 338.3h3.4v3.4h-3.4zM202.3 338.3h3.4v3.4h-3.4zM106.3 341.3h3.4v3.4h-3.4zM202.3 341.3h3.4v3.4h-3.4zM199.3 344.3h3.4v3.4h-3.4zM97.3 347.3h3.4v3.4h-3.4zM199.3 347.3h3.4v3.4h-3.4zM94.3 350.3h3.4v3.4h-3.4zM196.3 350.3h6.4v3.4h-6.4zM196.3 353.3h3.4v3.4h-3.4zM85.3 356.3h3.4v3.4h-3.4zM193.3 356.3h6.4v3.4h-6.4zM82.3 359.3h3.4v3.4h-3.4zM193.3 359.3h3.4v3.4h-3.4zM79.3 362.3h3.4v3.4h-3.4zM190.3 362.3h6.4v3.4h-6.4zM76.3 365.3h3.4v3.4h-3.4zM187.3 365.3h6.4v3.4h-6.4zM184.3 368.3h9.4v3.4h-9.4zM181.3 371.3h9.4v3.4h-9.4zM70.3 374.3h3.4v3.4h-3.4zM178.3 374.3h9.4v3.4h-9.4zM172.3 377.3h9.4v3.4h-9.4zM67.3 380.3h3.4v3.4h-3.4zM169.3 380.3h9.4v3.4h-9.4zM166.3 383.3h6.4v3.4h-6.4zM64.3 386.3h3.4v3.4h-3.4zM160.3 386.3h6.4v3.4h-6.4zM64.3 389.3h3.4v3.4h-3.4zM157.3 389.3h6.4v3.4h-6.4zM154.3 392.3h3.4v3.4h-3.4zM151.3 395.3h3.4v3.4h-3.4zM148.3 398.3h3.4v3.4h-3.4zM142.3 401.3h3.4v3.4h-3.4zM139.3 404.3h3.4v3.4h-3.4zM64.3 407.3h3.4v3.4h-3.4zM64.3 410.3h3.4v3.4h-3.4zM130.3 410.3h3.4v3.4h-3.4zM67.3 413.3h3.4v3.4h-3.4zM124.3 413.3h3.4v3.4h-3.4zM118.3 416.3h3.4v3.4h-3.4zM73.3 419.3h3.4v3.4h-3.4zM112.3 419.3h3.4v3.4h-3.4zM76.3 422.3h6.4v3.4h-6.4zM100.3 422.3h6.4v3.4h-6.4z"/>
<path fill="#cdcdef" d="M133.3 302.3h3.4v3.4h-3.4zM211.3 302.3h3.4v3.4h-3.4zM133.3 305.3h3.4v3.4h-3.4zM211.3 305.3h3.4v3.4h-3.4zM133.3 308.3h3.4v3.4h-3.4zM211.3 308.3h3.4v3.4h-3.4zM133.3 311.3h3.4v3.4h-3.4zM211.3 311.3h3.4v3.4h-3.4zM130.3 314.3h3.4v3.4h-3.4zM211.3 314.3h3.4v3.4h-3.4zM127.3 317.3h6.4v3.4h-6.4zM211.3 317.3h3.4v3.4h-3.4zM127.3 320.3h3.4v3.4h-3.4zM208.3 320.3h3.4v3.4h-3.4zM124.3 323.3h3.4v3.4h-3.4zM208.3 323.3h3.4v3.4h-3.4zM121.3 326.3h3.4v3.4h-3.4zM208.3 326.3h3.4v3.4h-3.4zM118.3 329.3h3.4v3.4h-3.4zM208.3 329.3h3.4v3.4h-3.4zM115.3 332.3h3.4v3.4h-3.4zM208.3 332.3h3.4v3.4h-3.4zM112.3 335.3h3.4v3.4h-3.4zM205.3 335.3h3.4v3.4h-3.4zM109.3 338.3h3.4v3.4h-3.4zM205.3 338.3h3.4v3.4h-3.4zM103.3 341.3h3.4v3.4h-3.4zM205.3 341.3h3.4v3.4h-3.4zM100.3 344.3h3.4v3.4h-3.4zM202.3 344.3h6.4v3.4h-6.4zM94.3 347.3h3.4v3.4h-3.4zM202.3 347.3h3.4v3.4h-3.4zM91.3 350.3h3.4v3.4h-3.4zM202.3 350.3h3.4v3.4h-3.4zM88.3 353.3h3.4v3.4h-3.4zM199.3 353.3h6.4v3.4h-6.4zM199.3 356.3h3.4v3.4h-3.4zM196.3 359.3h6.4v3.4h-6.4zM196.3 362.3h6.4v3.4h-6.4zM193.3 365.3h6.4v3.4h-6.4zM73.3 368.3h3.4v3.4h-3.4zM193.3 368.3h6.4v3.4h-6.4zM70.3 371.3h3.4v3.4h-3.4zM190.3 371.3h6.4v3.4h-6.4zM187.3 374.3h6.4v3.4h-6.4zM67.3 377.3h3.4v3.4h-3.4zM181.3 377.3h9.4v3.4h-9.4zM178.3 380.3h9.4v3.4h-9.4zM64.3 383.3h3.4v3.4h-3.4zM172.3 383.3h9.4v3.4h-9.4zM166.3 386.3h9.4v3.4h-9.4zM163.3 389.3h3.4v3.4h-3.4zM61.3 392.3h3.4v3.4h-3.4zM157.3 392.3h6.4v3.4h-6.4zM61.3 395.3h3.4v3.4h-3.4zM154.3 395.3h3.4v3.4h-3.4zM61.3 398.3h3.4v3.4h-3.4zM61.3 401.3h3.4v3.4h-3.4zM145.3 401.3h3.4v3.4h-3.4zM61.3 404.3h3.4v3.4h-3.4zM142.3 404.3h3.4v3.4h-3.4zM61.3 407.3h3.4v3.4h-3.4zM136.3 407.3h3.4v3.4h-3.4zM64.3 413.3h3.4v3.4h-3.4zM127.3 413.3h3.4v3.4h-3.4zM67.3 416.3h3.4v3.4h-3.4zM121.3 416.3h3.4v3.4h-3.4zM70.3 419.3h3.4v3.4h-3.4zM115.3 419.3h3.4v3.4h-3.4zM73.3 422.3h3.4v3.4h-3.4zM106.3 422.3h3.4v3.4h-3.4zM82.3 425.3h15.4v3.4h-15.4z"/>
<path fill="#d2d2f2" d="M130.3 302.3h3.4v3.4h-3.4zM214.3 302.3h3.4v3.4h-3.4zM130.3 305.3h3.4v3.4h-3.4zM214.3 305.3h3.4v3.4h-3.4zM130.3 308.3h3.4v3.4h-3.4zM214.3 308.3h3.4v3.4h-3.4zM130.3 311.3h3.4v3.4h-3.4zM214.3 311.3h3.4v3.4h-3.4zM127.3 314.3h3.4v3.4h-3.4zM214.3 314.3h3.4v3.4h-3.4zM124.3 317.3h3.4v3.4h-3.4zM214.3 317.3h3.4v3.4h-3.4zM124.3 320.3h3.4v3.4h-3.4zM211.3 320.3h3.4v3.4h-3.4zM121.3 323.3h3.4v3.4h-3.4zM211.3 323.3h3.4v3.4h-3.4zM118.3 326.3h3.4v3.4h-3.4zM211.3 326.3h3.4v3.4h-3.4zM115.3 329.3h3.4v3.4h-3.4zM211.3 329.3h3.4v3.4h-3.4zM112.3 332.3h3.4v3.4h-3.4zM211.3 332.3h3.4v3.4h-3.4zM109.3 335.3h3.4v3.4h-3.4zM208.3 335.3h3.4v3.4h-3.4zM106.3 338.3h3.4v3.4h-3.4zM208.3 338.3h3.4v3.4h-3.4zM100.3 341.3h3.4v3.4h-3.4zM208.3 341.3h3.4v3.4h-3.4zM97.3 344.3h3.4v3.4h-3.4zM208.3 344.3h3.4v3.4h-3.4zM205.3 347.3h3.4v3.4h-3.4zM88.3 350.3h3.4v3.4h-3.4zM205.3 350.3h3.4v3.4h-3.4zM85.3 353.3h3.4v3.4h-3.4zM205.3 353.3h3.4v3.4h-3.4zM82.3 356.3h3.4v3.4h-3.4zM202.3 356.3h6.4v3.4h-6.4zM79.3 359.3h3.4v3.4h-3.4zM202.3 359.3h6.4v3.4h-6.4zM76.3 362.3h3.4v3.4h-3.4zM202.3 362.3h3.4v3.4h-3.4zM73.3 365.3h3.4v3.4h-3.4zM199.3 365.3h6.4v3.4h-6.4zM199.3 368.3h6.4v3.4h-6.4zM196.3 371.3h6.4v3.4h-6.4zM67.3 374.3h3.4v3.4h-3.4zM193.3 374.3h9.4v3.4h-9.4zM190.3 377.3h9.4v3.4h-9.4zM64.3 380.3h3.4v3.4h-3.4zM187.3 380.3h9.4v3.4h-9.4zM181.3 383.3h12.4v3.4h-12.4zM61.3 386.3h3.4v3.4h-3.4zM175.3 386.3h12.4v3.4h-12.4zM61.3 389.3h3.4v3.4h-3.4zM166.3 389.3h12.4v3.4h-12.4zM163.3 392.3h6.4v3.4h-6.4zM157.3 395.3h3.4v3.4h-3.4zM151.3 398.3h6.4v3.4h-6.4zM148.3 401.3h3.4v3.4h-3.4zM139.3 407.3h3.4v3.4h-3.4zM61.3 410.3h3.4v3.4h-3.4zM133.3 410.3h3.4v3.4h-3.4zM64.3 416.3h3.4v3.4h-3.4zM124.3 416.3h3.4v3.4h-3.4zM67.3 419.3h3.4v3.4h-3.4zM70.3 422.3h3.4v3.4h-3.4zM109.3 422.3h3.4v3.4h-3.4zM76.3 425.3h6.4v3.4h-6.4zM97.3 425.3h6.4v3.4h-6.4z"/>
<path fill="#d6d6f3" d="M127.3 302.3h3.4v3.4h-3.4zM217.3 302.3h3.4v3.4h-3.4zM127.3 305.3h3.4v3.4h-3.4zM217.3 305.3h3.4v3.4h-3.4zM127.3 308.3h3.4v3.4h-3.4zM217.3 308.3h3.4v3.4h-3.4zM124.3 311.3h6.4v3.4h-6.4zM217.3 311.3h3.4v3.4h-3.4zM124.3 314.3h3.4v3.4h-3.4zM217.3 314.3h3.4v3.4h-3.4zM121.3 317.3h3.4v3.4h-3.4zM217.3 317.3h3.4v3.4h-3.4zM118.3 320.3h6.4v3.4h-6.4zM214.3 320.3h3.4v3.4h-3.4zM118.3 323.3h3.4v3.4h-3.4zM214.3 323.3h3.4v3.4h-3.4zM115.3 326.3h3.4v3.4h-3.4zM214.3 326.3h3.4v3.4h-3.4zM112.3 329.3h3.4v3.4h-3.4zM214.3 329.3h3.4v3.4h-3.4zM109.3 332.3h3.4v3.4h-3.4zM214.3 332.3h3.4v3.4h-3.4zM106.3 335.3h3.4v3.4h-3.4zM211.3 335.3h3.4v3.4h-3.4zM103.3 338.3h3.4v3.4h-3.4zM211.3 338.3h3.4v3.4h-3.4zM97.3 341.3h3.4v3.4h-3.4zM211.3 341.3h3.4v3.4h-3.4zM94.3 344.3h3.4v3.4h-3.4zM211.3 344.3h3.4v3.4h-3.4zM91.3 347.3h3.4v3.4h-3.4zM208.3 347.3h6.4v3.4h-6.4zM208.3 350.3h6.4v3.4h-6.4zM82.3 353.3h3.4v3.4h-3.4zM208.3 353.3h3.4v3.4h-3.4zM79.3 356.3h3.4v3.4h-3.4zM208.3 356.3h3.4v3.4h-3.4zM76.3 359.3h3.4v3.4h-3.4zM208.3 359.3h3.4v3.4h-3.4zM73.3 362.3h3.4v3.4h-3.4zM205.3 362.3h6.4v3.4h-6.4zM205.3 365.3h6.4v3.4h-6.4zM70.3 368.3h3.4v3.4h-3.4zM205.3 368.3h6.4v3.4h-6.4zM67.3 371.3h3.4v3.4h-3.4zM202.3 371.3h6.4v3.4h-6.4zM202.3 374.3h6.4v3.4h-6.4zM64.3 377.3h3.4v3.4h-3.4zM199.3 377.3h9.4v3.4h-9.4zM196.3 380.3h9.4v3.4h-9.4zM61.3 383.3h3.4v3.4h-3.4zM193.3 383.3h9.4v3.4h-9.4zM187.3 386.3h9.4v3.4h-9.4zM58.3 389.3h3.4v3.4h-3.4zM178.3 389.3h12.4v3.4h-12.4zM58.3 392.3h3.4v3.4h-3.4zM169.3 392.3h12.4v3.4h-12.4zM58.3 395.3h3.4v3.4h-3.4zM160.3 395.3h9.4v3.4h-9.4zM58.3 398.3h3.4v3.4h-3.4zM157.3 398.3h3.4v3.4h-3.4zM58.3 401.3h3.4v3.4h-3.4zM151.3 401.3h3.4v3.4h-3.4zM58.3 404.3h3.4v3.4h-3.4zM145.3 404.3h3.4v3.4h-3.4zM58.3 407.3h3.4v3.4h-3.4zM142.3 407.3h3.4v3.4h-3.4zM58.3 410.3h3.4v3.4h-3.4zM136.3 410.3h3.4v3.4h-3.4zM61.3 413.3h3.4v3.4h-3.4zM130.3 413.3h3.4v3.4h-3.4zM61.3 416.3h3.4v3.4h-3.4zM64.3 419.3h3.4v3.4h-3.4zM118.3 419.3h3.4v3.4h-3.4zM67.3 422.3h3.4v3.4h-3.4zM112.3 422.3h3.4v3.4h-3.4zM70.3 425.3h6.4v3.4h-6.4zM103.3 425.3h3.4v3.4h-3.4zM82.3 428.3h9.4v3.4h-9.4z"/>
<path fill="#dbdbf5" d="M121.3 302.3h6.4v3.4h-6.4zM220.3 302.3h3.4v3.4h-3.4zM121.3 305.3h6.4v3.4h-6.4zM220.3 305.3h3.4v3.4h-3.4zM121.3 308.3h6.4v3.4h-6.4zM220.3 308.3h3.4v3.4h-3.4zM121.3 311.3h3.4v3.4h-3.4zM220.3 311.3h3.4v3.4h-3.4zM118.3 314.3h6.4v3.4h-6.4zM220.3 314.3h3.4v3.4h-3.4zM118.3 317.3h3.4v3.4h-3.4zM220.3 317.3h3.4v3.4h-3.4zM115.3 320.3h3.4v3.4h-3.4zM217.3 320.3h6.4v3.4h-6.4zM112.3 323.3h6.4v3.4h-6.4zM217.3 323.3h3.4v3.4h-3.4zM112.3 326.3h3.4v3.4h-3.4zM217.3 326.3h3.4v3.4h-3.4zM109.3 329.3h3.4v3.4h-3.4zM217.3 329.3h3.4v3.4h-3.4zM106.3 332.3h3.4v3.4h-3.4zM217.3 332.3h3.4v3.4h-3.4zM103.3 335.3h3.4v3.4h-3.4zM214.3 335.3h6.4v3.4h-6.4zM97.3 338.3h6.4v3.4h-6.4zM214.3 338.3h3.4v3.4h-3.4zM94.3 341.3h3.4v3.4h-3.4zM214.3 341.3h3.4v3.4h-3.4zM91.3 344.3h3.4v3.4h-3.4zM214.3 344.3h3.4v3.4h-3.4zM88.3 347.3h3.4v3.4h-3.4zM214.3 347.3h3.4v3.4h-3.4zM85.3 350.3h3.4v3.4h-3.4zM214.3 350.3h3.4v3.4h-3.4zM211.3 353.3h6.4v3.4h-6.4zM211.3 356.3h6.4v3.4h-6.4zM211.3 359.3h6.4v3.4h-6.4zM211.3 362.3h6.4v3.4h-6.4zM70.3 365.3h3.4v3.4h-3.4zM211.3 365.3h6.4v3.4h-6.4zM67.3 368.3h3.4v3.4h-3.4zM211.3 368.3h6.4v3.4h-6.4zM208.3 371.3h6.4v3.4h-6.4zM64.3 374.3h3.4v3.4h-3.4zM208.3 374.3h6.4v3.4h-6.4zM61.3 377.3h3.4v3.4h-3.4zM208.3 377.3h6.4v3.4h-6.4zM61.3 380.3h3.4v3.4h-3.4zM205.3 380.3h6.4v3.4h-6.4zM58.3 383.3h3.4v3.4h-3.4zM202.3 383.3h6.4v3.4h-6.4zM58.3 386.3h3.4v3.4h-3.4zM196.3 386.3h9.4v3.4h-9.4zM190.3 389.3h9.4v3.4h-9.4zM181.3 392.3h9.4v3.4h-9.4zM55.3 395.3h3.4v3.4h-3.4zM169.3 395.3h12.4v3.4h-12.4zM55.3 398.3h3.4v3.4h-3.4zM160.3 398.3h9.4v3.4h-9.4zM55.3 401.3h3.4v3.4h-3.4zM154.3 401.3h6.4v3.4h-6.4zM55.3 404.3h3.4v3.4h-3.4zM148.3 404.3h6.4v3.4h-6.4zM55.3 407.3h3.4v3.4h-3.4zM145.3 407.3h3.4v3.4h-3.4zM139.3 410.3h3.4v3.4h-3.4zM58.3 413.3h3.4v3.4h-3.4zM133.3 413.3h3.4v3.4h-3.4zM58.3 416.3h3.4v3.4h-3.4zM127.3 416.3h3.4v3.4h-3.4zM61.3 419.3h3.4v3.4h-3.4zM121.3 419.3h3.4v3.4h-3.4zM64.3 422.3h3.4v3.4h-3.4zM115.3 422.3h3.4v3.4h-3.4zM67.3 425.3h3.4v3.4h-3.4zM106.3 425.3h3.4v3.4h-3.4zM73.3 428.3h9.4v3.4h-9.4zM91.3 428.3h9.4v3.4h-9.4z"/>
<path fill="#e0e0f6" d="M118.3 302.3h3.4v3.4h-3.4zM223.3 302.3h3.4v3.4h-3.4zM118.3 305.3h3.4v3.4h-3.4zM223.3 305.3h3.4v3.4h-3.4zM118.3 308.3h3.4v3.4h-3.4zM223.3 308.3h3.4v3.4h-3.4zM115.3 311.3h6.4v3.4h-6.4zM223.3 311.3h3.4v3.4h-3.4zM115.3 314.3h3.4v3.4h-3.4zM223.3 314.3h3.4v3.4h-3.4zM112.3 317.3h6.4v3.4h-6.4zM223.3 317.3h3.4v3.4h-3.4zM109.3 320.3h6.4v3.4h-6.4zM223.3 320.3h3.4v3.4h-3.4zM109.3 323.3h3.4v3.4h-3.4zM220.3 323.3h6.4v3.4h-6.4zM106.3 326.3h6.4v3.4h-6.4zM220.3 326.3h3.4v3.4h-3.4zM103.3 329.3h6.4v3.4h-6.4zM220.3 329.3h3.4v3.4h-3.4zM100.3 332.3h6.4v3.4h-6.4zM220.3 332.3h3.4v3.4h-3.4zM97.3 335.3h6.4v3.4h-6.4zM220.3 335.3h3.4v3.4h-3.4zM94.3 338.3h3.4v3.4h-3.4zM217.3 338.3h6.4v3.4h-6.4zM91.3 341.3h3.4v3.4h-3.4zM217.3 341.3h6.4v3.4h-6.4zM88.3 344.3h3.4v3.4h-3.4zM217.3 344.3h3.4v3.4h-3.4zM85.3 347.3h3.4v3.4h-3.4zM217.3 347.3h3.4v3.4h-3.4zM82.3 350.3h3.4v3.4h-3.4zM217.3 350.3h3.4v3.4h-3.4zM79.3 353.3h3.4v3.4h-3.4zM217.3 353.3h3.4v3.4h-3.4zM76.3 356.3h3.4v3.4h-3.4zM217.3 356.3h3.4v3.4h-3.4zM73.3 359.3h3.4v3.4h-3.4zM217.3 359.3h3.4v3.4h-3.4zM70.3 362.3h3.4v3.4h-3.4zM217.3 362.3h3.4v3.4h-3.4zM67.3 365.3h3.4v3.4h-3.4zM217.3 365.3h3.4v3.4h-3.4zM217.3 368.3h3.4v3.4h-3.4zM64.3 371.3h3.4v3.4h-3.4zM214.3 371.3h6.4v3.4h-6.4zM61.3 374.3h3.4v3.4h-3.4zM214.3 374.3h6.4v3.4h-6.4zM214.3 377.3h6.4v3.4h-6.4zM58.3 380.3h3.4v3.4h-3.4zM211.3 380.3h6.4v3.4h-6.4zM208.3 383.3h6.4v3.4h-6.4zM55.3 386.3h3.4v3.4h-3.4zM205.3 386.3h6.4v3.4h-6.4zM55.3 389.3h3.4v3.4h-3.4zM199.3 389.3h6.4v3.4h-6.4zM55.3 392.3h3.4v3.4h-3.4zM190.3 392.3h9.4v3.4h-9.4zM181.3 395.3h9.4v3.4h-9.4zM52.3 398.3h3.4v3.4h-3.4zM169.3 398.3h12.4v3.4h-12.4zM52.3 401.3h3.4v3.4h-3.4zM160.3 401.3h9.4v3.4h-9.4zM52.3 404.3h3.4v3.4h-3.4zM154.3 404.3h6.4v3.4h-6.4zM52.3 407.3h3.4v3.4h-3.4zM148.3 407.3h3.4v3.4h-3.4zM55.3 410.3h3.4v3.4h-3.4zM142.3 410.3h3.4v3.4h-3.4zM55.3 413.3h3.4v3.4h-3.4zM136.3 413.3h3.4v3.4h-3.4zM55.3 416.3h3.4v3.4h-3.4zM130.3 416.3h3.4v3.4h-3.4zM58.3 419.3h3.4v3.4h-3.4zM124.3 419.3h3.4v3.4h-3.4zM61.3 422.3h3.4v3.4h-3.4zM118.3 422.3h3.4v3.4h-3.4zM64.3 425.3h3.4v3.4h-3.4zM109.3 425.3h3.4v3.4h-3.4zM67.3 428.3h6.4v3.4h-6.4zM100.3 428.3h3.4v3.4h-3.4zM76.3 431.3h15.4v3.4h-15.4z"/>
<path fill="#e4e4f7" d="M112.3 302.3h6.4v3.4h-6.4zM226.3 302.3h6.4v3.4h-6.4zM112.3 305.3h6.4v3.4h-6.4zM226.3 305.3h6.4v3.4h-6.4zM112.3 308.3h6.4v3.4h-6.4zM226.3 308.3h6.4v3.4h-6.4zM109.3 311.3h6.4v3.4h-6.4zM226.3 311.3h6.4v3.4h-6.4zM109.3 314.3h6.4v3.4h-6.4zM226.3 314.3h6.4v3.4h-6.4zM106.3 317.3h6.4v3.4h-6.4zM226.3 317.3h3.4v3.4h-3.4zM106.3 320.3h3.4v3.4h-3.4zM226.3 320.3h3.4v3.4h-3.4zM103.3 323.3h6.4v3.4h-6.4zM226.3 323.3h3.4v3.4h-3.4zM100.3 326.3h6.4v3.4h-6.4zM223.3 326.3h6.4v3.4h-6.4zM100.3 329.3h3.4v3.4h-3.4zM223.3 329.3h3.4v3.4h-3.4zM97.3 332.3h3.4v3.4h-3.4zM223.3 332.3h3.4v3.4h-3.4zM94.3 335.3h3.4v3.4h-3.4zM223.3 335.3h3.4v3.4h-3.4zM91.3 338.3h3.4v3.4h-3.4zM223.3 338.3h3.4v3.4h-3.4zM88.3 341.3h3.4v3.4h-3.4zM223.3 341.3h3.4v3.4h-3.4zM85.3 344.3h3.4v3.4h-3.4zM220.3 344.3h6.4v3.4h-6.4zM79.3 347.3h6.4v3.4h-6.4zM220.3 347.3h6.4v3.4h-6.4zM76.3 350.3h6.4v3.4h-6.4zM220.3 350.3h6.4v3.4h-6.4zM73.3 353.3h6.4v3.4h-6.4zM220.3 353.3h6.4v3.4h-6.4zM73.3 356.3h3.4v3.4h-3.4zM220.3 356.3h6.4v3.4h-6.4zM70.3 359.3h3.4v3.4h-3.4zM220.3 359.3h6.4v3.4h-6.4zM67.3 362.3h3.4v3.4h-3.4zM220.3 362.3h6.4v3.4h-6.4zM220.3 365.3h6.4v3.4h-6.4zM64.3 368.3h3.4v3.4h-3.4zM220.3 368.3h6.4v3.4h-6.4zM61.3 371.3h3.4v3.4h-3.4zM220.3 371.3h6.4v3.4h-6.4zM220.3 374.3h6.4v3.4h-6.4zM58.3 377.3h3.4v3.4h-3.4zM220.3 377.3h6.4v3.4h-6.4zM55.3 380.3h3.4v3.4h-3.4zM217.3 380.3h6.4v3.4h-6.4zM55.3 383.3h3.4v3.4h-3.4zM214.3 383.3h9.4v3.4h-9.4zM52.3 386.3h3.4v3.4h-3.4zM211.3 386.3h6.4v3.4h-6.4zM52.3 389.3h3.4v3.4h-3.4zM205.3 389.3h9.4v3.4h-9.4zM43.3 392.3h12.4v3.4h-12.4zM199.3 392.3h6.4v3.4h-6.4zM43.3 395.3h12.4v3.4h-12.4zM190.3 395.3h9.4v3.4h-9.4zM43.3 398.3h9.4v3.4h-9.4zM181.3 398.3h9.4v3.4h-9.4zM43.3 401.3h9.4v3.4h-9.4zM169.3 401.3h9.4v3.4h-9.4zM43.3 404.3h9.4v3.4h-9.4zM160.3 404.3h9.4v3.4h-9.4zM43.3 407.3h9.4v3.4h-9.4zM151.3 407.3h6.4v3.4h-6.4zM43.3 410.3h12.4v3.4h-12.4zM145.3 410.3h3.4v3.4h-3.4zM43.3 413.3h12.4v3.4h-12.4zM139.3 413.3h3.4v3.4h-3.4zM52.3 416.3h3.4v3.4h-3.4zM133.3 416.3h3.4v3.4h-3.4zM55.3 419.3h3.4v3.4h-3.4zM127.3 419.3h3.4v3.4h-3.4zM55.3 422.3h6.4v3.4h-6.4zM121.3 422.3h3.4v3.4h-3.4zM58.3 425.3h6.4v3.4h-6.4zM112.3 425.3h3.4v3.4h-3.4zM61.3 428.3h6.4v3.4h-6.4zM103.3 428.3h3.4v3.4h-3.4zM67.3 431.3h9.4v3.4h-9.4zM91.3 431.3h6.4v3.4h-6.4z"/>
<path fill="#e8e8f8" d="M103.3 302.3h9.4v3.4h-9.4zM232.3 302.3h6.4v3.4h-6.4zM103.3 305.3h9.4v3.4h-9.4zM232.3 305.3h6.4v3.4h-6.4zM103.3 308.3h9.4v3.4h-9.4zM232.3 308.3h6.4v3.4h-6.4zM103.3 311.3h6.4v3.4h-6.4zM232.3 311.3h3.4v3.4h-3.4zM100.3 314.3h9.4v3.4h-9.4zM232.3 314.3h3.4v3.4h-3.4zM100.3 317.3h6.4v3.4h-6.4zM229.3 317.3h6.4v3.4h-6.4zM97.3 320.3h9.4v3.4h-9.4zM229.3 320.3h6.4v3.4h-6.4zM97.3 323.3h6.4v3.4h-6.4zM229.3 323.3h3.4v3.4h-3.4zM94.3 326.3h6.4v3.4h-6.4zM229.3 326.3h3.4v3.4h-3.4zM91.3 329.3h9.4v3.4h-9.4zM226.3 329.3h6.4v3.4h-6.4zM91.3 332.3h6.4v3.4h-6.4zM226.3 332.3h6.4v3.4h-6.4zM88.3 335.3h6.4v3.4h-6.4zM226.3 335.3h6.4v3.4h-6.4zM85.3 338.3h6.4v3.4h-6.4zM226.3 338.3h3.4v3.4h-3.4zM82.3 341.3h6.4v3.4h-6.4zM226.3 341.3h3.4v3.4h-3.4zM79.3 344.3h6.4v3.4h-6.4zM226.3 344.3h3.4v3.4h-3.4zM76.3 347.3h3.4v3.4h-3.4zM226.3 347.3h3.4v3.4h-3.4zM73.3 350.3h3.4v3.4h-3.4zM226.3 350.3h3.4v3.4h-3.4zM70.3 353.3h3.4v3.4h-3.4zM226.3 353.3h3.4v3.4h-3.4zM67.3 356.3h6.4v3.4h-6.4zM226.3 356.3h6.4v3.4h-6.4zM67.3 359.3h3.4v3.4h-3.4zM226.3 359.3h6.4v3.4h-6.4zM64.3 362.3h3.4v3.4h-3.4zM226.3 362.3h6.4v3.4h-6.4zM64.3 365.3h3.4v3.4h-3.4zM226.3 365.3h6.4v3.4h-6.4zM61.3 368.3h3.4v3.4h-3.4zM226.3 368.3h6.4v3.4h-6.4zM226.3 371.3h6.4v3.4h-6.4zM58.3 374.3h3.4v3.4h-3.4zM226.3 374.3h6.4v3.4h-6.4zM55.3 377.3h3.4v3.4h-3.4zM226.3 377.3h6.4v3.4h-6.4zM52.3 380.3h3.4v3.4h-3.4zM223.3 380.3h9.4v3.4h-9.4zM43.3 383.3h12.4v3.4h-12.4zM223.3 383.3h6.4v3.4h-6.4zM43.3 386.3h9.4v3.4h-9.4zM217.3 386.3h9.4v3.4h-9.4zM43.3 389.3h9.4v3.4h-9.4zM214.3 389.3h6.4v3.4h-6.4zM205.3 392.3h9.4v3.4h-9.4zM199.3 395.3h6.4v3.4h-6.4zM190.3 398.3h6.4v3.4h-6.4zM178.3 401.3h9.4v3.4h-9.4zM169.3 404.3h9.4v3.4h-9.4zM157.3 407.3h9.4v3.4h-9.4zM148.3 410.3h6.4v3.4h-6.4zM142.3 413.3h3.4v3.4h-3.4zM43.3 416.3h9.4v3.4h-9.4zM136.3 416.3h3.4v3.4h-3.4zM43.3 419.3h12.4v3.4h-12.4zM130.3 419.3h3.4v3.4h-3.4zM43.3 422.3h12.4v3.4h-12.4zM124.3 422.3h3.4v3.4h-3.4zM52.3 425.3h6.4v3.4h-6.4zM115.3 425.3h3.4v3.4h-3.4zM55.3 428.3h6.4v3.4h-6.4zM106.3 428.3h3.4v3.4h-3.4zM58.3 431.3h9.4v3.4h-9.4zM97.3 431.3h6.4v3.4h-6.4zM250.3 431.3h12.4v3.4h-12.4zM64.3 434.3h27.4v3.4h-27.4zM244.3 434.3h21.4v3.4h-21.4zM244.3 437.3h24.4v3.4h-24.4zM241.3 440.3h30.4v3.4h-30.4zM238.3 443.3h33.4v3.4h-33.4zM235.3 446.3h36.4v3.4h-36.4zM232.3 449.3h39.4v3.4h-39.4zM226.3 452.3h42.4v3.4h-42.4zM217.3 455.3h51.4v3.4h-51.4zM211.3 458.3h54.4v3.4h-54.4zM208.3 461.3h54.4v3.4h-54.4zM202.3 464.3h60.4v3.4h-60.4zM196.3 467.3h63.4v3.4h-63.4zM193.3 470.3h60.4v3.4h-60.4zM196.3 473.3h54.4v3.4h-54.4zM202.3 476.3h42.4v3.4h-42.4zM214.3 479.3h18.4v3.4h-18.4z"/>
<path fill="#ededfa" d="M91.3 302.3h12.4v3.4h-12.4zM238.3 302.3h6.4v3.4h-6.4zM91.3 305.3h12.4v3.4h-12.4zM238.3 305.3h6.4v3.4h-6.4zM91.3 308.3h12.4v3.4h-12.4zM238.3 308.3h6.4v3.4h-6.4zM91.3 311.3h12.4v3.4h-12.4zM235.3 311.3h6.4v3.4h-6.4zM91.3 314.3h9.4v3.4h-9.4zM235.3 314.3h6.4v3.4h-6.4zM88.3 317.3h12.4v3.4h-12.4zM235.3 317.3h6.4v3.4h-6.4zM88.3 320.3h9.4v3.4h-9.4zM235.3 320.3h3.4v3.4h-3.4zM85.3 323.3h12.4v3.4h-12.4zM232.3 323.3h6.4v3.4h-6.4zM85.3 326.3h9.4v3.4h-9.4zM232.3 326.3h6.4v3.4h-6.4zM82.3 329.3h9.4v3.4h-9.4zM232.3 329.3h6.4v3.4h-6.4zM79.3 332.3h12.4v3.4h-12.4zM232.3 332.3h3.4v3.4h-3.4zM76.3 335.3h12.4v3.4h-12.4zM232.3 335.3h3.4v3.4h-3.4zM76.3 338.3h9.4v3.4h-9.4zM229.3 338.3h6.4v3.4h-6.4zM73.3 341.3h9.4v3.4h-9.4zM229.3 341.3h6.4v3.4h-6.4zM70.3 344.3h9.4v3.4h-9.4zM229.3 344.3h6.4v3.4h-6.4zM70.3 347.3h6.4v3.4h-6.4zM229.3 347.3h6.4v3.4h-6.4zM67.3 350.3h6.4v3.4h-6.4zM229.3 350.3h6.4v3.4h-6.4zM67.3 353.3h3.4v3.4h-3.4zM229.3 353.3h6.4v3.4h-6.4zM64.3 356.3h3.4v3.4h-3.4zM232.3 356.3h6.4v3.4h-6.4zM64.3 359.3h3.4v3.4h-3.4zM232.3 359.3h6.4v3.4h-6.4zM61.3 362.3h3.4v3.4h-3.4zM232.3 362.3h6.4v3.4h-6.4zM61.3 365.3h3.4v3.4h-3.4zM232.3 365.3h6.4v3.4h-6.4zM58.3 368.3h3.4v3.4h-3.4zM232.3 368.3h9.4v3.4h-9.4zM58.3 371.3h3.4v3.4h-3.4zM232.3 371.3h9.4v3.4h-9.4zM55.3 374.3h3.4v3.4h-3.4zM232.3 374.3h9.4v3.4h-9.4zM43.3 377.3h12.4v3.4h-12.4zM232.3 377.3h9.4v3.4h-9.4zM43.3 380.3h9.4v3.4h-9.4zM232.3 380.3h6.4v3.4h-6.4zM229.3 383.3h9.4v3.4h-9.4zM226.3 386.3h9.4v3.4h-9.4zM220.3 389.3h9.4v3.4h-9.4zM214.3 392.3h12.4v3.4h-12.4zM205.3 395.3h12.4v3.4h-12.4zM196.3 398.3h9.4v3.4h-9.4zM187.3 401.3h6.4v3.4h-6.4zM178.3 404.3h9.4v3.4h-9.4zM166.3 407.3h12.4v3.4h-12.4zM154.3 410.3h12.4v3.4h-12.4zM145.3 413.3h6.4v3.4h-6.4zM139.3 416.3h3.4v3.4h-3.4zM133.3 419.3h3.4v3.4h-3.4zM259.3 419.3h33.4v3.4h-33.4zM127.3 422.3h3.4v3.4h-3.4zM250.3 422.3h42.4v3.4h-42.4zM43.3 425.3h9.4v3.4h-9.4zM118.3 425.3h3.4v3.4h-3.4zM244.3 425.3h48.4v3.4h-48.4zM43.3 428.3h12.4v3.4h-12.4zM109.3 428.3h3.4v3.4h-3.4zM244.3 428.3h48.4v3.4h-48.4zM43.3 431.3h15.4v3.4h-15.4zM103.3 431.3h3.4v3.4h-3.4zM241.3 431.3h9.4v3.4h-9.4zM262.3 431.3h30.4v3.4h-30.4zM43.3 434.3h21.4v3.4h-21.4zM91.3 434.3h6.4v3.4h-6.4zM238.3 434.3h6.4v3.4h-6.4zM265.3 434.3h27.4v3.4h-27.4zM58.3 437.3h30.4v3.4h-30.4zM238.3 437.3h6.4v3.4h-6.4zM268.3 437.3h24.4v3.4h-24.4zM235.3 440.3h6.4v3.4h-6.4zM271.3 440.3h21.4v3.4h-21.4zM232.3 443.3h6.4v3.4h-6.4zM271.3 443.3h21.4v3.4h-21.4zM229.3 446.3h6.4v3.4h-6.4zM271.3 446.3h21.4v3.4h-21.4zM226.3 449.3h6.4v3.4h-6.4zM271.3 449.3h21.4v3.4h-21.4zM217.3 452.3h9.4v3.4h-9.4zM268.3 452.3h24.4v3.4h-24.4zM208.3 455.3h9.4v3.4h-9.4zM268.3 455.3h24.4v3.4h-24.4zM202.3 458.3h9.4v3.4h-9.4zM265.3 458.3h27.4v3.4h-27.4zM193.3 461.3h15.4v3.4h-15.4zM262.3 461.3h30.4v3.4h-30.4zM187.3 464.3h15.4v3.4h-15.4zM262.3 464.3h30.4v3.4h-30.4zM184.3 467.3h12.4v3.4h-12.4zM259.3 467.3h33.4v3.4h-33.4zM181.3 470.3h12.4v3.4h-12.4zM253.3 470.3h39.4v3.4h-39.4zM181.3 473.3h15.4v3.4h-15.4zM250.3 473.3h42.4v3.4h-42.4zM178.3 476.3h24.4v3.4h-24.4zM244.3 476.3h48.4v3.4h-48.4zM175.3 479.3h39.4v3.4h-39.4zM232.3 479.3h60.4v3.4h-60.4zM175.3 482.3h105.4v3.4h-105.4zM175.3 485.3h99.4v3.4h-99.4zM175.3 488.3h99.4v3.4h-99.4zM175.3 491.3h99.4v3.4h-99.4zM175.3 494.3h99.4v3.4h-99.4z"/>
<path fill="#f2f2fb" d="M43.3 302.3h48.4v3.4h-48.4zM244.3 302.3h6.4v3.4h-6.4zM43.3 305.3h48.4v3.4h-48.4zM244.3 305.3h6.4v3.4h-6.4zM43.3 308.3h48.4v3.4h-48.4zM244.3 308.3h6.4v3.4h-6.4zM43.3 311.3h48.4v3.4h-48.4zM241.3 311.3h9.4v3.4h-9.4zM61.3 314.3h30.4v3.4h-30.4zM241.3 314.3h6.4v3.4h-6.4zM64.3 317.3h24.4v3.4h-24.4zM241.3 317.3h6.4v3.4h-6.4zM67.3 320.3h21.4v3.4h-21.4zM238.3 320.3h6.4v3.4h-6.4zM67.3 323.3h18.4v3.4h-18.4zM238.3 323.3h6.4v3.4h-6.4zM67.3 326.3h18.4v3.4h-18.4zM238.3 326.3h6.4v3.4h-6.4zM67.3 329.3h15.4v3.4h-15.4zM238.3 329.3h3.4v3.4h-3.4zM67.3 332.3h12.4v3.4h-12.4zM235.3 332.3h6.4v3.4h-6.4zM67.3 335.3h9.4v3.4h-9.4zM235.3 335.3h6.4v3.4h-6.4zM67.3 338.3h9.4v3.4h-9.4zM235.3 338.3h6.4v3.4h-6.4zM67.3 341.3h6.4v3.4h-6.4zM235.3 341.3h6.4v3.4h-6.4zM64.3 344.3h6.4v3.4h-6.4zM235.3 344.3h6.4v3.4h-6.4zM64.3 347.3h6.4v3.4h-6.4zM235.3 347.3h6.4v3.4h-6.4zM64.3 350.3h3.4v3.4h-3.4zM235.3 350.3h6.4v3.4h-6.4zM64.3 353.3h3.4v3.4h-3.4zM235.3 353.3h6.4v3.4h-6.4zM61.3 356.3h3.4v3.4h-3.4zM238.3 356.3h6.4v3.4h-6.4zM61.3 359.3h3.4v3.4h-3.4zM238.3 359.3h6.4v3.4h-6.4zM238.3 362.3h9.4v3.4h-9.4zM58.3 365.3h3.4v3.4h-3.4zM238.3 365.3h9.4v3.4h-9.4zM241.3 368.3h9.4v3.4h-9.4zM55.3 371.3h3.4v3.4h-3.4zM241.3 371.3h9.4v3.4h-9.4zM43.3 374.3h12.4v3.4h-12.4zM241.3 374.3h9.4v3.4h-9.4zM241.3 377.3h9.4v3.4h-9.4zM238.3 380.3h12.4v3.4h-12.4zM238.3 383.3h9.4v3.4h-9.4zM235.3 386.3h9.4v3.4h-9.4zM229.3 389.3h9.4v3.4h-9.4zM226.3 392.3h9.4v3.4h-9.4zM217.3 395.3h12.4v3.4h-12.4zM205.3 398.3h9.4v3.4h-9.4zM193.3 401.3h9.4v3.4h-9.4zM187.3 404.3h3.4v3.4h-3.4zM178.3 407.3h6.4v3.4h-6.4zM166.3 410.3h9.4v3.4h-9.4zM262.3 410.3h30.4v3.4h-30.4zM151.3 413.3h9.4v3.4h-9.4zM253.3 413.3h39.4v3.4h-39.4zM142.3 416.3h6.4v3.4h-6.4zM247.3 416.3h45.4v3.4h-45.4zM136.3 419.3h3.4v3.4h-3.4zM244.3 419.3h15.4v3.4h-15.4zM130.3 422.3h3.4v3.4h-3.4zM241.3 422.3h9.4v3.4h-9.4zM121.3 425.3h3.4v3.4h-3.4zM241.3 425.3h3.4v3.4h-3.4zM112.3 428.3h3.4v3.4h-3.4zM238.3 428.3h6.4v3.4h-6.4zM106.3 431.3h3.4v3.4h-3.4zM238.3 431.3h3.4v3.4h-3.4zM97.3 434.3h3.4v3.4h-3.4zM235.3 434.3h3.4v3.4h-3.4zM43.3 437.3h15.4v3.4h-15.4zM88.3 437.3h6.4v3.4h-6.4zM235.3 437.3h3.4v3.4h-3.4zM43.3 440.3h45.4v3.4h-45.4zM232.3 440.3h3.4v3.4h-3.4zM43.3 443.3h36.4v3.4h-36.4zM229.3 443.3h3.4v3.4h-3.4zM226.3 446.3h3.4v3.4h-3.4zM217.3 449.3h9.4v3.4h-9.4zM208.3 452.3h9.4v3.4h-9.4zM199.3 455.3h9.4v3.4h-9.4zM187.3 458.3h15.4v3.4h-15.4zM184.3 461.3h9.4v3.4h-9.4zM178.3 464.3h9.4v3.4h-9.4zM178.3 467.3h6.4v3.4h-6.4zM175.3 470.3h6.4v3.4h-6.4zM169.3 473.3h12.4v3.4h-12.4zM163.3 476.3h15.4v3.4h-15.4zM151.3 479.3h24.4v3.4h-24.4zM148.3 482.3h27.4v3.4h-27.4zM280.3 482.3h12.4v3.4h-12.4zM145.3 485.3h30.4v3.4h-30.4zM274.3 485.3h18.4v3.4h-18.4zM145.3 488.3h30.4v3.4h-30.4zM274.3 488.3h18.4v3.4h-18.4zM145.3 491.3h30.4v3.4h-30.4zM274.3 491.3h18.4v3.4h-18.4zM145.3 494.3h30.4v3.4h-30.4zM274.3 494.3h18.4v3.4h-18.4z"/>
<path fill="#f6f6fc" d="M250.3 302.3h6.4v3.4h-6.4zM250.3 305.3h6.4v3.4h-6.4zM250.3 308.3h6.4v3.4h-6.4zM250.3 311.3h6.4v3.4h-6.4zM43.3 314.3h18.4v3.4h-18.4zM247.3 314.3h6.4v3.4h-6.4zM43.3 317.3h21.4v3.4h-21.4zM247.3 317.3h6.4v3.4h-6.4zM43.3 320.3h24.4v3.4h-24.4zM244.3 320.3h6.4v3.4h-6.4zM58.3 323.3h9.4v3.4h-9.4zM244.3 323.3h6.4v3.4h-6.4zM61.3 326.3h6.4v3.4h-6.4zM244.3 326.3h3.4v3.4h-3.4zM61.3 329.3h6.4v3.4h-6.4zM241.3 329.3h6.4v3.4h-6.4zM61.3 332.3h6.4v3.4h-6.4zM241.3 332.3h6.4v3.4h-6.4zM61.3 335.3h6.4v3.4h-6.4zM241.3 335.3h6.4v3.4h-6.4zM61.3 338.3h6.4v3.4h-6.4zM241.3 338.3h6.4v3.4h-6.4zM61.3 341.3h6.4v3.4h-6.4zM241.3 341.3h6.4v3.4h-6.4zM61.3 344.3h3.4v3.4h-3.4zM241.3 344.3h6.4v3.4h-6.4zM61.3 347.3h3.4v3.4h-3.4zM241.3 347.3h6.4v3.4h-6.4zM61.3 350.3h3.4v3.4h-3.4zM241.3 350.3h6.4v3.4h-6.4zM61.3 353.3h3.4v3.4h-3.4zM241.3 353.3h9.4v3.4h-9.4zM58.3 356.3h3.4v3.4h-3.4zM244.3 356.3h6.4v3.4h-6.4zM58.3 359.3h3.4v3.4h-3.4zM244.3 359.3h9.4v3.4h-9.4zM58.3 362.3h3.4v3.4h-3.4zM247.3 362.3h6.4v3.4h-6.4zM55.3 365.3h3.4v3.4h-3.4zM247.3 365.3h9.4v3.4h-9.4zM55.3 368.3h3.4v3.4h-3.4zM250.3 368.3h6.4v3.4h-6.4zM43.3 371.3h12.4v3.4h-12.4zM250.3 371.3h9.4v3.4h-9.4zM250.3 374.3h9.4v3.4h-9.4zM250.3 377.3h9.4v3.4h-9.4zM250.3 380.3h9.4v3.4h-9.4zM247.3 383.3h9.4v3.4h-9.4zM244.3 386.3h12.4v3.4h-12.4zM238.3 389.3h15.4v3.4h-15.4zM235.3 392.3h9.4v3.4h-9.4zM229.3 395.3h9.4v3.4h-9.4zM214.3 398.3h18.4v3.4h-18.4zM202.3 401.3h6.4v3.4h-6.4zM223.3 401.3h3.4v3.4h-3.4zM190.3 404.3h6.4v3.4h-6.4zM259.3 404.3h33.4v3.4h-33.4zM184.3 407.3h3.4v3.4h-3.4zM253.3 407.3h39.4v3.4h-39.4zM175.3 410.3h3.4v3.4h-3.4zM250.3 410.3h12.4v3.4h-12.4zM160.3 413.3h6.4v3.4h-6.4zM244.3 413.3h9.4v3.4h-9.4zM148.3 416.3h3.4v3.4h-3.4zM241.3 416.3h6.4v3.4h-6.4zM139.3 419.3h3.4v3.4h-3.4zM238.3 419.3h6.4v3.4h-6.4zM238.3 422.3h3.4v3.4h-3.4zM124.3 425.3h3.4v3.4h-3.4zM238.3 425.3h3.4v3.4h-3.4zM115.3 428.3h3.4v3.4h-3.4zM235.3 428.3h3.4v3.4h-3.4zM235.3 431.3h3.4v3.4h-3.4zM100.3 434.3h3.4v3.4h-3.4zM94.3 437.3h3.4v3.4h-3.4zM232.3 437.3h3.4v3.4h-3.4zM88.3 440.3h3.4v3.4h-3.4zM229.3 440.3h3.4v3.4h-3.4zM79.3 443.3h6.4v3.4h-6.4zM226.3 443.3h3.4v3.4h-3.4zM43.3 446.3h36.4v3.4h-36.4zM220.3 446.3h6.4v3.4h-6.4zM43.3 449.3h33.4v3.4h-33.4zM211.3 449.3h6.4v3.4h-6.4zM43.3 452.3h9.4v3.4h-9.4zM199.3 452.3h9.4v3.4h-9.4zM187.3 455.3h12.4v3.4h-12.4zM181.3 458.3h6.4v3.4h-6.4zM175.3 461.3h9.4v3.4h-9.4zM172.3 464.3h6.4v3.4h-6.4zM160.3 467.3h18.4v3.4h-18.4zM154.3 470.3h21.4v3.4h-21.4zM148.3 473.3h21.4v3.4h-21.4zM145.3 476.3h18.4v3.4h-18.4zM145.3 479.3h6.4v3.4h-6.4zM142.3 482.3h6.4v3.4h-6.4zM139.3 485.3h6.4v3.4h-6.4zM139.3 488.3h6.4v3.4h-6.4zM139.3 491.3h6.4v3.4h-6.4zM139.3 494.3h6.4v3.4h-6.4z"/>
<path fill="#fafafe" d="M256.3 302.3h9.4v3.4h-9.4zM256.3 305.3h9.4v3.4h-9.4zM256.3 308.3h9.4v3.4h-9.4zM256.3 311.3h9.4v3.4h-9.4zM253.3 314.3h9.4v3.4h-9.4zM253.3 317.3h6.4v3.4h-6.4zM250.3 320.3h6.4v3.4h-6.4zM43.3 323.3h15.4v3.4h-15.4zM250.3 323.3h3.4v3.4h-3.4zM43.3 326.3h18.4v3.4h-18.4zM247.3 326.3h6.4v3.4h-6.4zM58.3 329.3h3.4v3.4h-3.4zM247.3 329.3h6.4v3.4h-6.4zM58.3 332.3h3.4v3.4h-3.4zM247.3 332.3h6.4v3.4h-6.4zM58.3 335.3h3.4v3.4h-3.4zM247.3 335.3h6.4v3.4h-6.4zM58.3 338.3h3.4v3.4h-3.4zM247.3 338.3h6.4v3.4h-6.4zM58.3 341.3h3.4v3.4h-3.4zM247.3 341.3h6.4v3.4h-6.4zM58.3 344.3h3.4v3.4h-3.4zM247.3 344.3h6.4v3.4h-6.4zM58.3 347.3h3.4v3.4h-3.4zM247.3 347.3h6.4v3.4h-6.4zM58.3 350.3h3.4v3.4h-3.4zM247.3 350.3h9.4v3.4h-9.4zM58.3 353.3h3.4v3.4h-3.4zM250.3 353.3h6.4v3.4h-6.4zM55.3 356.3h3.4v3.4h-3.4zM250.3 356.3h9.4v3.4h-9.4zM55.3 359.3h3.4v3.4h-3.4zM253.3 359.3h6.4v3.4h-6.4zM55.3 362.3h3.4v3.4h-3.4zM253.3 362.3h9.4v3.4h-9.4zM280.3 362.3h12.4v3.4h-12.4zM256.3 365.3h6.4v3.4h-6.4zM280.3 365.3h12.4v3.4h-12.4zM43.3 368.3h12.4v3.4h-12.4zM256.3 368.3h9.4v3.4h-9.4zM280.3 368.3h12.4v3.4h-12.4zM259.3 371.3h6.4v3.4h-6.4zM280.3 371.3h12.4v3.4h-12.4zM259.3 374.3h6.4v3.4h-6.4zM280.3 374.3h12.4v3.4h-12.4zM259.3 377.3h6.4v3.4h-6.4zM280.3 377.3h12.4v3.4h-12.4zM259.3 380.3h6.4v3.4h-6.4zM280.3 380.3h12.4v3.4h-12.4zM256.3 383.3h9.4v3.4h-9.4zM280.3 383.3h12.4v3.4h-12.4zM256.3 386.3h9.4v3.4h-9.4zM253.3 389.3h12.4v3.4h-12.4zM244.3 392.3h24.4v3.4h-24.4zM238.3 395.3h33.4v3.4h-33.4zM232.3 398.3h9.4v3.4h-9.4zM247.3 398.3h30.4v3.4h-30.4zM208.3 401.3h15.4v3.4h-15.4zM226.3 401.3h9.4v3.4h-9.4zM250.3 401.3h42.4v3.4h-42.4zM196.3 404.3h3.4v3.4h-3.4zM223.3 404.3h9.4v3.4h-9.4zM247.3 404.3h12.4v3.4h-12.4zM187.3 407.3h3.4v3.4h-3.4zM244.3 407.3h9.4v3.4h-9.4zM178.3 410.3h3.4v3.4h-3.4zM238.3 410.3h12.4v3.4h-12.4zM166.3 413.3h6.4v3.4h-6.4zM235.3 413.3h9.4v3.4h-9.4zM151.3 416.3h6.4v3.4h-6.4zM235.3 416.3h6.4v3.4h-6.4zM142.3 419.3h3.4v3.4h-3.4zM235.3 419.3h3.4v3.4h-3.4zM133.3 422.3h3.4v3.4h-3.4zM235.3 422.3h3.4v3.4h-3.4zM235.3 425.3h3.4v3.4h-3.4zM232.3 428.3h3.4v3.4h-3.4zM109.3 431.3h3.4v3.4h-3.4zM232.3 431.3h3.4v3.4h-3.4zM103.3 434.3h3.4v3.4h-3.4zM232.3 434.3h3.4v3.4h-3.4zM229.3 437.3h3.4v3.4h-3.4zM91.3 440.3h3.4v3.4h-3.4zM85.3 443.3h3.4v3.4h-3.4zM223.3 443.3h3.4v3.4h-3.4zM79.3 446.3h3.4v3.4h-3.4zM214.3 446.3h6.4v3.4h-6.4zM76.3 449.3h3.4v3.4h-3.4zM202.3 449.3h9.4v3.4h-9.4zM52.3 452.3h24.4v3.4h-24.4zM190.3 452.3h9.4v3.4h-9.4zM43.3 455.3h30.4v3.4h-30.4zM181.3 455.3h6.4v3.4h-6.4zM43.3 458.3h12.4v3.4h-12.4zM61.3 458.3h9.4v3.4h-9.4zM172.3 458.3h9.4v3.4h-9.4zM64.3 461.3h6.4v3.4h-6.4zM163.3 461.3h12.4v3.4h-12.4zM64.3 464.3h3.4v3.4h-3.4zM157.3 464.3h15.4v3.4h-15.4zM61.3 467.3h3.4v3.4h-3.4zM154.3 467.3h6.4v3.4h-6.4zM61.3 470.3h3.4v3.4h-3.4zM151.3 470.3h3.4v3.4h-3.4zM58.3 473.3h6.4v3.4h-6.4zM55.3 476.3h9.4v3.4h-9.4zM55.3 479.3h9.4v3.4h-9.4zM142.3 479.3h3.4v3.4h-3.4zM55.3 482.3h9.4v3.4h-9.4zM139.3 482.3h3.4v3.4h-3.4zM55.3 485.3h9.4v3.4h-9.4zM136.3 485.3h3.4v3.4h-3.4zM55.3 488.3h9.4v3.4h-9.4zM136.3 488.3h3.4v3.4h-3.4zM55.3 491.3h9.4v3.4h-9.4zM136.3 491.3h3.4v3.4h-3.4zM55.3 494.3h9.4v3.4h-9.4zM136.3 494.3h3.4v3.4h-3.4z"/>
<path fill="#fffafb" d="M205.3 404.3h12.4v3.4h-12.4zM193.3 407.3h3.4v3.4h-3.4zM217.3 407.3h6.4v3.4h-6.4zM184.3 410.3h6.4v3.4h-6.4zM220.3 410.3h6.4v3.4h-6.4zM175.3 413.3h6.4v3.4h-6.4zM223.3 413.3h3.4v3.4h-3.4zM160.3 416.3h6.4v3.4h-6.4zM223.3 416.3h6.4v3.4h-6.4zM148.3 419.3h3.4v3.4h-3.4zM226.3 419.3h3.4v3.4h-3.4zM136.3 422.3h3.4v3.4h-3.4zM226.3 422.3h6.4v3.4h-6.4zM226.3 425.3h6.4v3.4h-6.4zM229.3 428.3h3.4v3.4h-3.4zM112.3 431.3h3.4v3.4h-3.4zM226.3 431.3h6.4v3.4h-6.4zM226.3 434.3h3.4v3.4h-3.4zM223.3 437.3h6.4v3.4h-6.4zM94.3 440.3h3.4v3.4h-3.4zM208.3 440.3h18.4v3.4h-18.4zM202.3 443.3h15.4v3.4h-15.4zM85.3 446.3h3.4v3.4h-3.4zM196.3 446.3h9.4v3.4h-9.4zM82.3 449.3h3.4v3.4h-3.4zM187.3 449.3h6.4v3.4h-6.4zM79.3 452.3h3.4v3.4h-3.4zM175.3 452.3h6.4v3.4h-6.4zM76.3 455.3h3.4v3.4h-3.4zM166.3 455.3h6.4v3.4h-6.4zM73.3 458.3h3.4v3.4h-3.4zM160.3 458.3h3.4v3.4h-3.4zM157.3 461.3h3.4v3.4h-3.4zM70.3 464.3h3.4v3.4h-3.4zM148.3 467.3h3.4v3.4h-3.4zM67.3 470.3h3.4v3.4h-3.4zM145.3 470.3h3.4v3.4h-3.4zM67.3 473.3h3.4v3.4h-3.4zM67.3 476.3h3.4v3.4h-3.4zM67.3 485.3h3.4v3.4h-3.4zM133.3 485.3h3.4v3.4h-3.4zM67.3 488.3h3.4v3.4h-3.4zM133.3 488.3h3.4v3.4h-3.4zM67.3 491.3h3.4v3.4h-3.4zM133.3 491.3h3.4v3.4h-3.4zM67.3 494.3h3.4v3.4h-3.4zM133.3 494.3h3.4v3.4h-3.4z"/>
<path fill="#fef6f6" d="M196.3 407.3h21.4v3.4h-21.4zM190.3 410.3h3.4v3.4h-3.4zM217.3 410.3h3.4v3.4h-3.4zM181.3 413.3h3.4v3.4h-3.4zM220.3 413.3h3.4v3.4h-3.4zM166.3 416.3h9.4v3.4h-9.4zM220.3 416.3h3.4v3.4h-3.4zM151.3 419.3h6.4v3.4h-6.4zM220.3 419.3h6.4v3.4h-6.4zM139.3 422.3h3.4v3.4h-3.4zM220.3 422.3h6.4v3.4h-6.4zM130.3 425.3h3.4v3.4h-3.4zM220.3 425.3h6.4v3.4h-6.4zM121.3 428.3h3.4v3.4h-3.4zM214.3 428.3h15.4v3.4h-15.4zM205.3 431.3h21.4v3.4h-21.4zM106.3 434.3h3.4v3.4h-3.4zM202.3 434.3h24.4v3.4h-24.4zM100.3 437.3h3.4v3.4h-3.4zM199.3 437.3h24.4v3.4h-24.4zM196.3 440.3h12.4v3.4h-12.4zM91.3 443.3h3.4v3.4h-3.4zM193.3 443.3h9.4v3.4h-9.4zM88.3 446.3h3.4v3.4h-3.4zM187.3 446.3h9.4v3.4h-9.4zM175.3 449.3h12.4v3.4h-12.4zM169.3 452.3h6.4v3.4h-6.4zM79.3 455.3h3.4v3.4h-3.4zM163.3 455.3h3.4v3.4h-3.4zM76.3 458.3h3.4v3.4h-3.4zM157.3 458.3h3.4v3.4h-3.4zM73.3 461.3h3.4v3.4h-3.4zM154.3 461.3h3.4v3.4h-3.4zM151.3 464.3h3.4v3.4h-3.4zM70.3 467.3h3.4v3.4h-3.4zM70.3 470.3h3.4v3.4h-3.4zM142.3 473.3h3.4v3.4h-3.4zM139.3 476.3h3.4v3.4h-3.4zM67.3 479.3h3.4v3.4h-3.4zM136.3 479.3h3.4v3.4h-3.4zM67.3 482.3h3.4v3.4h-3.4zM133.3 482.3h3.4v3.4h-3.4zM130.3 485.3h3.4v3.4h-3.4zM130.3 488.3h3.4v3.4h-3.4zM130.3 491.3h3.4v3.4h-3.4zM130.3 494.3h3.4v3.4h-3.4z"/>
<path fill="#fef1f2" d="M193.3 410.3h24.4v3.4h-24.4zM184.3 413.3h9.4v3.4h-9.4zM211.3 413.3h9.4v3.4h-9.4zM175.3 416.3h9.4v3.4h-9.4zM214.3 416.3h6.4v3.4h-6.4zM157.3 419.3h12.4v3.4h-12.4zM214.3 419.3h6.4v3.4h-6.4zM142.3 422.3h9.4v3.4h-9.4zM211.3 422.3h9.4v3.4h-9.4zM133.3 425.3h3.4v3.4h-3.4zM205.3 425.3h15.4v3.4h-15.4zM124.3 428.3h3.4v3.4h-3.4zM202.3 428.3h12.4v3.4h-12.4zM115.3 431.3h3.4v3.4h-3.4zM199.3 431.3h6.4v3.4h-6.4zM109.3 434.3h3.4v3.4h-3.4zM196.3 434.3h6.4v3.4h-6.4zM103.3 437.3h3.4v3.4h-3.4zM193.3 437.3h6.4v3.4h-6.4zM97.3 440.3h3.4v3.4h-3.4zM190.3 440.3h6.4v3.4h-6.4zM94.3 443.3h3.4v3.4h-3.4zM184.3 443.3h9.4v3.4h-9.4zM178.3 446.3h9.4v3.4h-9.4zM85.3 449.3h3.4v3.4h-3.4zM169.3 449.3h6.4v3.4h-6.4zM82.3 452.3h3.4v3.4h-3.4zM163.3 452.3h6.4v3.4h-6.4zM160.3 455.3h3.4v3.4h-3.4zM154.3 458.3h3.4v3.4h-3.4zM76.3 461.3h3.4v3.4h-3.4zM151.3 461.3h3.4v3.4h-3.4zM73.3 464.3h3.4v3.4h-3.4zM148.3 464.3h3.4v3.4h-3.4zM73.3 467.3h3.4v3.4h-3.4zM145.3 467.3h3.4v3.4h-3.4zM142.3 470.3h3.4v3.4h-3.4zM70.3 473.3h3.4v3.4h-3.4zM139.3 473.3h3.4v3.4h-3.4zM70.3 476.3h3.4v3.4h-3.4zM136.3 476.3h3.4v3.4h-3.4zM70.3 479.3h3.4v3.4h-3.4zM133.3 479.3h3.4v3.4h-3.4zM70.3 482.3h3.4v3.4h-3.4zM130.3 482.3h3.4v3.4h-3.4zM70.3 485.3h3.4v3.4h-3.4zM127.3 485.3h3.4v3.4h-3.4zM70.3 488.3h3.4v3.4h-3.4zM127.3 488.3h3.4v3.4h-3.4zM70.3 491.3h3.4v3.4h-3.4zM127.3 491.3h3.4v3.4h-3.4zM70.3 494.3h3.4v3.4h-3.4zM127.3 494.3h3.4v3.4h-3.4z"/>
<path fill="#feecee" d="M193.3 413.3h18.4v3.4h-18.4zM184.3 416.3h30.4v3.4h-30.4zM169.3 419.3h15.4v3.4h-15.4zM196.3 419.3h18.4v3.4h-18.4zM151.3 422.3h9.4v3.4h-9.4zM199.3 422.3h12.4v3.4h-12.4zM136.3 425.3h9.4v3.4h-9.4zM196.3 425.3h9.4v3.4h-9.4zM127.3 428.3h6.4v3.4h-6.4zM196.3 428.3h6.4v3.4h-6.4zM118.3 431.3h6.4v3.4h-6.4zM193.3 431.3h6.4v3.4h-6.4zM112.3 434.3h3.4v3.4h-3.4zM190.3 434.3h6.4v3.4h-6.4zM106.3 437.3h3.4v3.4h-3.4zM187.3 437.3h6.4v3.4h-6.4zM100.3 440.3h3.4v3.4h-3.4zM181.3 440.3h9.4v3.4h-9.4zM97.3 443.3h3.4v3.4h-3.4zM175.3 443.3h9.4v3.4h-9.4zM91.3 446.3h3.4v3.4h-3.4zM169.3 446.3h9.4v3.4h-9.4zM88.3 449.3h3.4v3.4h-3.4zM163.3 449.3h6.4v3.4h-6.4zM85.3 452.3h3.4v3.4h-3.4zM160.3 452.3h3.4v3.4h-3.4zM82.3 455.3h3.4v3.4h-3.4zM157.3 455.3h3.4v3.4h-3.4zM79.3 458.3h3.4v3.4h-3.4zM151.3 458.3h3.4v3.4h-3.4zM79.3 461.3h3.4v3.4h-3.4zM148.3 461.3h3.4v3.4h-3.4zM76.3 464.3h3.4v3.4h-3.4zM145.3 464.3h3.4v3.4h-3.4zM142.3 467.3h3.4v3.4h-3.4zM73.3 470.3h3.4v3.4h-3.4zM139.3 470.3h3.4v3.4h-3.4zM73.3 473.3h3.4v3.4h-3.4zM136.3 473.3h3.4v3.4h-3.4zM133.3 476.3h3.4v3.4h-3.4zM130.3 479.3h3.4v3.4h-3.4zM73.3 482.3h3.4v3.4h-3.4zM127.3 482.3h3.4v3.4h-3.4zM73.3 485.3h3.4v3.4h-3.4zM121.3 485.3h6.4v3.4h-6.4zM73.3 488.3h3.4v3.4h-3.4zM121.3 488.3h6.4v3.4h-6.4zM73.3 491.3h3.4v3.4h-3.4zM121.3 491.3h6.4v3.4h-6.4zM73.3 494.3h3.4v3.4h-3.4zM121.3 494.3h6.4v3.4h-6.4z"/>
<path fill="#fee8ea" d="M184.3 419.3h12.4v3.4h-12.4zM160.3 422.3h39.4v3.4h-39.4zM145.3 425.3h12.4v3.4h-12.4zM187.3 425.3h9.4v3.4h-9.4zM133.3 428.3h6.4v3.4h-6.4zM187.3 428.3h9.4v3.4h-9.4zM124.3 431.3h3.4v3.4h-3.4zM187.3 431.3h6.4v3.4h-6.4zM115.3 434.3h3.4v3.4h-3.4zM184.3 434.3h6.4v3.4h-6.4zM109.3 437.3h3.4v3.4h-3.4zM181.3 437.3h6.4v3.4h-6.4zM103.3 440.3h3.4v3.4h-3.4zM175.3 440.3h6.4v3.4h-6.4zM169.3 443.3h6.4v3.4h-6.4zM94.3 446.3h3.4v3.4h-3.4zM166.3 446.3h3.4v3.4h-3.4zM91.3 449.3h3.4v3.4h-3.4zM160.3 449.3h3.4v3.4h-3.4zM88.3 452.3h3.4v3.4h-3.4zM157.3 452.3h3.4v3.4h-3.4zM85.3 455.3h3.4v3.4h-3.4zM154.3 455.3h3.4v3.4h-3.4zM82.3 458.3h3.4v3.4h-3.4zM79.3 464.3h3.4v3.4h-3.4zM76.3 467.3h3.4v3.4h-3.4zM76.3 470.3h3.4v3.4h-3.4zM73.3 476.3h3.4v3.4h-3.4zM130.3 476.3h3.4v3.4h-3.4zM73.3 479.3h3.4v3.4h-3.4zM127.3 479.3h3.4v3.4h-3.4zM121.3 482.3h6.4v3.4h-6.4zM76.3 485.3h3.4v3.4h-3.4zM115.3 485.3h6.4v3.4h-6.4zM76.3 488.3h3.4v3.4h-3.4zM115.3 488.3h6.4v3.4h-6.4zM76.3 491.3h3.4v3.4h-3.4zM115.3 491.3h6.4v3.4h-6.4zM76.3 494.3h3.4v3.4h-3.4zM115.3 494.3h6.4v3.4h-6.4z"/>
<path fill="#fde3e5" d="M157.3 425.3h30.4v3.4h-30.4zM139.3 428.3h12.4v3.4h-12.4zM175.3 428.3h12.4v3.4h-12.4zM127.3 431.3h6.4v3.4h-6.4zM178.3 431.3h9.4v3.4h-9.4zM118.3 434.3h6.4v3.4h-6.4zM178.3 434.3h6.4v3.4h-6.4zM112.3 437.3h3.4v3.4h-3.4zM175.3 437.3h6.4v3.4h-6.4zM106.3 440.3h3.4v3.4h-3.4zM169.3 440.3h6.4v3.4h-6.4zM100.3 443.3h3.4v3.4h-3.4zM166.3 443.3h3.4v3.4h-3.4zM97.3 446.3h3.4v3.4h-3.4zM160.3 446.3h6.4v3.4h-6.4zM94.3 449.3h3.4v3.4h-3.4zM157.3 449.3h3.4v3.4h-3.4zM91.3 452.3h3.4v3.4h-3.4zM154.3 452.3h3.4v3.4h-3.4zM88.3 455.3h3.4v3.4h-3.4zM151.3 455.3h3.4v3.4h-3.4zM85.3 458.3h3.4v3.4h-3.4zM148.3 458.3h3.4v3.4h-3.4zM82.3 461.3h3.4v3.4h-3.4zM145.3 461.3h3.4v3.4h-3.4zM142.3 464.3h3.4v3.4h-3.4zM79.3 467.3h3.4v3.4h-3.4zM139.3 467.3h3.4v3.4h-3.4zM136.3 470.3h3.4v3.4h-3.4zM76.3 473.3h3.4v3.4h-3.4zM133.3 473.3h3.4v3.4h-3.4zM76.3 476.3h3.4v3.4h-3.4zM76.3 479.3h3.4v3.4h-3.4zM124.3 479.3h3.4v3.4h-3.4zM76.3 482.3h3.4v3.4h-3.4zM118.3 482.3h3.4v3.4h-3.4zM79.3 485.3h6.4v3.4h-6.4zM109.3 485.3h6.4v3.4h-6.4zM79.3 488.3h6.4v3.4h-6.4zM106.3 488.3h9.4v3.4h-9.4zM79.3 491.3h6.4v3.4h-6.4zM106.3 491.3h9.4v3.4h-9.4zM79.3 494.3h6.4v3.4h-6.4zM106.3 494.3h9.4v3.4h-9.4z"/>
<path fill="#fddee1" d="M151.3 428.3h24.4v3.4h-24.4zM133.3 431.3h9.4v3.4h-9.4zM169.3 431.3h9.4v3.4h-9.4zM124.3 434.3h3.4v3.4h-3.4zM169.3 434.3h9.4v3.4h-9.4zM115.3 437.3h3.4v3.4h-3.4zM169.3 437.3h6.4v3.4h-6.4zM109.3 440.3h3.4v3.4h-3.4zM166.3 440.3h3.4v3.4h-3.4zM103.3 443.3h3.4v3.4h-3.4zM163.3 443.3h3.4v3.4h-3.4zM100.3 446.3h3.4v3.4h-3.4zM157.3 446.3h3.4v3.4h-3.4zM154.3 449.3h3.4v3.4h-3.4zM151.3 452.3h3.4v3.4h-3.4zM148.3 455.3h3.4v3.4h-3.4zM145.3 458.3h3.4v3.4h-3.4zM85.3 461.3h3.4v3.4h-3.4zM142.3 461.3h3.4v3.4h-3.4zM82.3 464.3h3.4v3.4h-3.4zM139.3 464.3h3.4v3.4h-3.4zM136.3 467.3h3.4v3.4h-3.4zM79.3 470.3h3.4v3.4h-3.4zM133.3 470.3h3.4v3.4h-3.4zM79.3 473.3h3.4v3.4h-3.4zM130.3 473.3h3.4v3.4h-3.4zM79.3 476.3h3.4v3.4h-3.4zM124.3 476.3h6.4v3.4h-6.4zM79.3 479.3h3.4v3.4h-3.4zM118.3 479.3h6.4v3.4h-6.4zM79.3 482.3h6.4v3.4h-6.4zM112.3 482.3h6.4v3.4h-6.4zM85.3 485.3h24.4v3.4h-24.4zM85.3 488.3h21.4v3.4h-21.4zM85.3 491.3h21.4v3.4h-21.4zM85.3 494.3h21.4v3.4h-21.4z"/>
<path fill="#fdd9dd" d="M142.3 431.3h27.4v3.4h-27.4zM127.3 434.3h9.4v3.4h-9.4zM160.3 434.3h9.4v3.4h-9.4zM118.3 437.3h6.4v3.4h-6.4zM163.3 437.3h6.4v3.4h-6.4zM112.3 440.3h3.4v3.4h-3.4zM160.3 440.3h6.4v3.4h-6.4zM106.3 443.3h3.4v3.4h-3.4zM157.3 443.3h6.4v3.4h-6.4zM103.3 446.3h3.4v3.4h-3.4zM154.3 446.3h3.4v3.4h-3.4zM97.3 449.3h3.4v3.4h-3.4zM151.3 449.3h3.4v3.4h-3.4zM94.3 452.3h3.4v3.4h-3.4zM148.3 452.3h3.4v3.4h-3.4zM91.3 455.3h3.4v3.4h-3.4zM88.3 458.3h3.4v3.4h-3.4zM85.3 464.3h3.4v3.4h-3.4zM82.3 467.3h3.4v3.4h-3.4zM82.3 470.3h3.4v3.4h-3.4zM130.3 470.3h3.4v3.4h-3.4zM82.3 473.3h3.4v3.4h-3.4zM127.3 473.3h3.4v3.4h-3.4zM82.3 476.3h3.4v3.4h-3.4zM121.3 476.3h3.4v3.4h-3.4zM82.3 479.3h3.4v3.4h-3.4zM115.3 479.3h3.4v3.4h-3.4zM85.3 482.3h27.4v3.4h-27.4z"/>
<path fill="#fcd5d8" d="M136.3 434.3h24.4v3.4h-24.4zM124.3 437.3h6.4v3.4h-6.4zM154.3 437.3h9.4v3.4h-9.4zM115.3 440.3h3.4v3.4h-3.4zM154.3 440.3h6.4v3.4h-6.4zM109.3 443.3h3.4v3.4h-3.4zM154.3 443.3h3.4v3.4h-3.4zM151.3 446.3h3.4v3.4h-3.4zM100.3 449.3h3.4v3.4h-3.4zM148.3 449.3h3.4v3.4h-3.4zM97.3 452.3h3.4v3.4h-3.4zM94.3 455.3h3.4v3.4h-3.4zM145.3 455.3h3.4v3.4h-3.4zM91.3 458.3h3.4v3.4h-3.4zM142.3 458.3h3.4v3.4h-3.4zM88.3 461.3h3.4v3.4h-3.4zM139.3 461.3h3.4v3.4h-3.4zM136.3 464.3h3.4v3.4h-3.4zM85.3 467.3h3.4v3.4h-3.4zM133.3 467.3h3.4v3.4h-3.4zM85.3 470.3h3.4v3.4h-3.4zM85.3 473.3h3.4v3.4h-3.4zM124.3 473.3h3.4v3.4h-3.4zM85.3 476.3h3.4v3.4h-3.4zM115.3 476.3h6.4v3.4h-6.4zM85.3 479.3h30.4v3.4h-30.4z"/>
<path fill="#fcd0d4" d="M130.3 437.3h24.4v3.4h-24.4zM118.3 440.3h9.4v3.4h-9.4zM148.3 440.3h6.4v3.4h-6.4zM112.3 443.3h3.4v3.4h-3.4zM151.3 443.3h3.4v3.4h-3.4zM106.3 446.3h3.4v3.4h-3.4zM148.3 446.3h3.4v3.4h-3.4zM103.3 449.3h3.4v3.4h-3.4zM100.3 452.3h3.4v3.4h-3.4zM145.3 452.3h3.4v3.4h-3.4zM142.3 455.3h3.4v3.4h-3.4zM94.3 458.3h3.4v3.4h-3.4zM139.3 458.3h3.4v3.4h-3.4zM91.3 461.3h3.4v3.4h-3.4zM136.3 461.3h3.4v3.4h-3.4zM88.3 464.3h3.4v3.4h-3.4zM133.3 464.3h3.4v3.4h-3.4zM88.3 467.3h3.4v3.4h-3.4zM130.3 467.3h3.4v3.4h-3.4zM88.3 470.3h3.4v3.4h-3.4zM124.3 470.3h6.4v3.4h-6.4zM88.3 473.3h3.4v3.4h-3.4zM118.3 473.3h6.4v3.4h-6.4zM88.3 476.3h12.4v3.4h-12.4zM109.3 476.3h6.4v3.4h-6.4z"/>
<path fill="#fccbcf" d="M127.3 440.3h21.4v3.4h-21.4zM115.3 443.3h6.4v3.4h-6.4zM145.3 443.3h6.4v3.4h-6.4zM109.3 446.3h6.4v3.4h-6.4zM145.3 446.3h3.4v3.4h-3.4zM106.3 449.3h3.4v3.4h-3.4zM145.3 449.3h3.4v3.4h-3.4zM142.3 452.3h3.4v3.4h-3.4zM97.3 455.3h3.4v3.4h-3.4zM139.3 455.3h3.4v3.4h-3.4zM136.3 458.3h3.4v3.4h-3.4zM94.3 461.3h3.4v3.4h-3.4zM133.3 461.3h3.4v3.4h-3.4zM91.3 464.3h3.4v3.4h-3.4zM130.3 464.3h3.4v3.4h-3.4zM91.3 467.3h3.4v3.4h-3.4zM127.3 467.3h3.4v3.4h-3.4zM91.3 470.3h3.4v3.4h-3.4zM121.3 470.3h3.4v3.4h-3.4zM91.3 473.3h9.4v3.4h-9.4zM112.3 473.3h6.4v3.4h-6.4zM100.3 476.3h9.4v3.4h-9.4z"/>
<path fill="#fcc6cb" d="M121.3 443.3h24.4v3.4h-24.4zM115.3 446.3h3.4v3.4h-3.4zM139.3 446.3h6.4v3.4h-6.4zM109.3 449.3h3.4v3.4h-3.4zM139.3 449.3h6.4v3.4h-6.4zM103.3 452.3h6.4v3.4h-6.4zM139.3 452.3h3.4v3.4h-3.4zM100.3 455.3h3.4v3.4h-3.4zM136.3 455.3h3.4v3.4h-3.4zM97.3 458.3h3.4v3.4h-3.4zM133.3 458.3h3.4v3.4h-3.4zM97.3 461.3h3.4v3.4h-3.4zM130.3 461.3h3.4v3.4h-3.4zM94.3 464.3h3.4v3.4h-3.4zM127.3 464.3h3.4v3.4h-3.4zM94.3 467.3h3.4v3.4h-3.4zM124.3 467.3h3.4v3.4h-3.4zM94.3 470.3h6.4v3.4h-6.4zM115.3 470.3h6.4v3.4h-6.4zM100.3 473.3h12.4v3.4h-12.4z"/>
<path fill="#fbc2c6" d="M118.3 446.3h21.4v3.4h-21.4zM112.3 449.3h6.4v3.4h-6.4zM133.3 449.3h6.4v3.4h-6.4zM109.3 452.3h3.4v3.4h-3.4zM133.3 452.3h6.4v3.4h-6.4zM103.3 455.3h6.4v3.4h-6.4zM133.3 455.3h3.4v3.4h-3.4zM100.3 458.3h3.4v3.4h-3.4zM130.3 458.3h3.4v3.4h-3.4zM100.3 461.3h3.4v3.4h-3.4zM127.3 461.3h3.4v3.4h-3.4zM97.3 464.3h6.4v3.4h-6.4zM124.3 464.3h3.4v3.4h-3.4zM97.3 467.3h6.4v3.4h-6.4zM115.3 467.3h9.4v3.4h-9.4zM100.3 470.3h15.4v3.4h-15.4z"/>
<path fill="#fbbdc2" d="M118.3 449.3h15.4v3.4h-15.4zM112.3 452.3h9.4v3.4h-9.4zM124.3 452.3h9.4v3.4h-9.4zM109.3 455.3h3.4v3.4h-3.4zM127.3 455.3h6.4v3.4h-6.4zM103.3 458.3h6.4v3.4h-6.4zM124.3 458.3h6.4v3.4h-6.4zM103.3 461.3h6.4v3.4h-6.4zM121.3 461.3h6.4v3.4h-6.4zM103.3 464.3h21.4v3.4h-21.4zM103.3 467.3h12.4v3.4h-12.4z"/>
<path fill="#fbb8bd" d="M121.3 452.3h3.4v3.4h-3.4zM112.3 455.3h15.4v3.4h-15.4zM109.3 458.3h15.4v3.4h-15.4zM109.3 461.3h12.4v3.4h-12.4z"/>
</g></g>
<path d="M68.7 214.3C68.7 212.7 68.6 207.9 68.7 205.2C68.8 202.5 68.9 200.1 69.4 197.9C69.9 195.8 70.5 194.6 71.8 192.5C73.1 190.4 75.0 188.0 77.2 185.3C79.5 182.5 82.2 179.2 85.4 176.2C88.5 173.2 92.3 170.1 96.3 167.5C100.2 164.8 104.4 162.4 108.9 160.2C113.5 158.1 118.6 156.2 123.4 154.4C128.3 152.7 133.1 151.2 137.9 149.9C142.8 148.6 147.6 147.6 152.4 146.8C157.3 146.0 164.0 145.3 166.9 145.0C169.9 144.7 167.7 145.3 170.0 145.0C172.3 144.8 177.3 144.3 180.9 143.6C184.5 142.8 188.1 141.5 191.8 140.3C195.4 139.1 199.3 137.4 202.6 136.3C205.9 135.2 208.7 134.3 211.7 133.6C214.7 132.9 218.0 132.5 220.8 132.3C223.5 132.2 225.6 132.2 228.0 132.7C230.4 133.2 233.1 134.3 235.3 135.4C237.4 136.6 239.3 137.9 240.7 139.6C242.1 141.2 242.7 143.2 243.4 145.4C244.1 147.6 244.5 149.9 244.7 152.6C244.9 155.3 244.9 158.4 244.7 161.7C244.5 165.0 244.1 168.9 243.4 172.6C242.7 176.2 241.9 179.8 240.7 183.4C239.5 187.1 238.0 191.0 236.2 194.3C234.3 197.6 232.1 200.7 229.8 203.4C227.5 206.1 224.7 208.7 222.6 210.6C220.4 212.6 217.7 214.3 216.8 215.0" fill="none" stroke="#1c1c1c" stroke-width="1.4"/>
<path d="M52.0 50.2C53.0 50.6 56.3 51.9 58.1 53.1C59.9 54.2 61.4 55.6 62.7 57.2C64.0 58.8 65.2 60.7 65.9 62.7C66.7 64.6 67.1 66.9 67.2 69.0C67.3 71.1 67.1 72.9 66.6 75.3C66.2 77.8 65.3 80.6 64.5 83.5C63.6 86.4 62.4 89.4 61.4 92.6C60.3 95.7 59.1 99.4 58.1 102.5C57.1 105.7 56.2 109.0 55.4 111.6C54.7 114.2 54.1 115.8 53.6 117.9C53.1 120.1 52.5 123.2 52.3 124.3" fill="none" stroke="#1c1c1c" stroke-width="1.4"/>
<path d="M282.1 67.8C281.2 68.3 278.6 69.6 277.2 70.8C275.7 72.1 274.4 73.6 273.5 75.4C272.7 77.2 272.2 79.0 272.1 81.7C271.9 84.4 272.2 88.5 272.6 91.7C273.0 94.9 274.0 97.7 274.4 100.8C274.9 103.8 275.2 107.1 275.3 109.8C275.5 112.5 275.0 114.8 275.3 117.1C275.6 119.3 276.0 121.1 277.2 123.4C278.3 125.7 281.2 129.5 282.1 130.7" fill="none" stroke="#1c1c1c" stroke-width="1.4"/>
<path d="M66.2 488.0C66.2 486.3 66.0 481.2 66.2 478.2C66.5 475.2 66.8 472.6 67.7 470.0C68.5 467.5 69.7 465.4 71.3 462.8C73.0 460.2 75.1 457.3 77.7 454.6C80.2 451.9 83.2 449.0 86.7 446.5C90.2 443.9 94.1 441.5 98.5 439.2C102.9 437.0 108.2 434.8 113.0 432.9C117.8 430.9 122.7 429.3 127.5 427.4C132.3 425.6 137.2 423.5 142.0 422.0C146.8 420.5 152.7 419.2 156.5 418.4C160.3 417.5 161.8 417.5 165.0 416.9C168.2 416.3 172.3 415.7 175.9 414.8C179.5 413.8 183.1 412.4 186.8 411.1C190.4 409.9 194.3 408.2 197.6 407.1C200.9 406.1 204.0 405.4 206.7 405.0C209.4 404.5 211.5 404.1 213.9 404.4C216.4 404.7 218.9 405.5 221.2 406.6C223.5 407.7 225.8 409.3 227.5 411.1C229.3 412.9 230.8 415.2 231.7 417.5C232.6 419.7 233.0 422.3 233.2 424.7C233.3 427.1 233.0 429.7 232.4 432.0C231.9 434.2 231.0 436.5 229.9 438.3C228.8 440.1 227.5 441.6 225.7 442.8C224.0 444.1 221.9 444.7 219.4 445.6C216.8 446.4 213.6 447.0 210.3 447.9C207.0 448.8 203.1 450.0 199.4 451.0C195.8 452.0 192.2 452.8 188.6 453.7C184.9 454.6 181.0 455.4 177.7 456.4C174.4 457.5 170.3 459.5 168.6 460.1C166.9 460.7 169.1 459.3 167.4 460.1C165.7 460.8 161.3 462.6 158.3 464.6C155.3 466.6 152.0 469.3 149.3 471.8C146.5 474.4 144.2 477.3 142.0 480.0C139.8 482.7 136.9 486.6 135.8 488.0" fill="none" stroke="#1c1c1c" stroke-width="1.4"/>
<path d="M271.4 311.2C270.5 312.1 267.6 314.8 265.8 316.8C263.9 318.8 261.8 321.0 260.3 323.1C258.9 325.2 257.9 327.5 257.3 329.5C256.7 331.4 256.7 332.9 256.7 334.9C256.8 336.9 257.1 339.0 257.6 341.3C258.1 343.5 258.7 345.9 259.8 348.5C260.9 351.1 262.7 354.1 264.0 356.7C265.3 359.2 266.5 361.8 267.6 363.9C268.7 366.0 269.5 367.8 270.3 369.3C271.1 370.9 272.2 371.6 272.5 373.0C272.8 374.3 271.9 375.8 272.1 377.5C272.4 379.2 273.0 381.0 273.9 382.9C274.8 384.9 276.2 387.0 277.6 389.3C278.9 391.5 281.2 395.2 281.9 396.4" fill="none" stroke="#1c1c1c" stroke-width="1.4"/>
<path d="M52.2 331.7C52.6 331.9 54.2 332.4 54.8 332.9C55.4 333.4 55.5 333.4 55.7 334.8C55.9 336.2 55.9 338.7 55.9 341.0C56.0 343.4 56.0 347.0 55.9 348.9C55.9 350.9 55.9 351.6 55.7 352.9C55.5 354.2 54.9 355.4 54.5 356.9C54.1 358.3 53.6 359.8 53.3 361.4C53.0 363.0 52.8 365.6 52.6 366.5" fill="none" stroke="#1c1c1c" stroke-width="1.4"/>
<polygon points="114.40,195.80 116.60,202.17 123.34,202.30 117.97,206.36 119.93,212.80 114.40,208.95 108.87,212.80 110.83,206.36 105.46,202.30 112.20,202.17" fill="none" stroke="#30191b" stroke-width="1.25" stroke-linejoin="miter"/>
<polygon points="114.50,468.80 116.70,475.17 123.44,475.30 118.07,479.36 120.03,485.80 114.50,481.95 108.97,485.80 110.93,479.36 105.56,475.30 112.30,475.17" fill="none" stroke="#30191b" stroke-width="1.25" stroke-linejoin="miter"/>
<path d="M55.80 38.00v-4.60M55.80 214.00v4.60M62.34 38.00v-4.60M62.34 214.00v4.60M68.89 38.00v-4.60M68.89 214.00v4.60M75.43 38.00v-4.60M75.43 214.00v4.60M81.97 38.00v-8.80M81.97 214.00v8.80M88.52 38.00v-4.60M88.52 214.00v4.60M95.06 38.00v-4.60M95.06 214.00v4.60M101.61 38.00v-4.60M101.61 214.00v4.60M108.16 38.00v-4.60M108.16 214.00v4.60M114.70 38.00v-8.80M114.70 214.00v8.80M121.25 38.00v-4.60M121.25 214.00v4.60M127.79 38.00v-4.60M127.79 214.00v4.60M134.34 38.00v-4.60M134.34 214.00v4.60M140.88 38.00v-4.60M140.88 214.00v4.60M147.43 38.00v-8.80M147.43 214.00v8.80M153.97 38.00v-4.60M153.97 214.00v4.60M160.51 38.00v-4.60M160.51 214.00v4.60M167.06 38.00v-4.60M167.06 214.00v4.60M173.61 38.00v-4.60M173.61 214.00v4.60M180.15 38.00v-8.80M180.15 214.00v8.80M186.69 38.00v-4.60M186.69 214.00v4.60M193.24 38.00v-4.60M193.24 214.00v4.60M199.78 38.00v-4.60M199.78 214.00v4.60M206.33 38.00v-4.60M206.33 214.00v4.60M212.88 38.00v-8.80M212.88 214.00v8.80M219.42 38.00v-4.60M219.42 214.00v4.60M225.97 38.00v-4.60M225.97 214.00v4.60M232.51 38.00v-4.60M232.51 214.00v4.60M239.06 38.00v-4.60M239.06 214.00v4.60M245.60 38.00v-8.80M245.60 214.00v8.80M252.14 38.00v-4.60M252.14 214.00v4.60M258.69 38.00v-4.60M258.69 214.00v4.60M265.24 38.00v-4.60M265.24 214.00v4.60M271.78 38.00v-4.60M271.78 214.00v4.60M278.32 38.00v-8.80M278.32 214.00v8.80M52.50 211.04h-4.60M282.00 211.04h4.60M52.50 204.50h-8.80M282.00 204.50h8.80M52.50 197.96h-4.60M282.00 197.96h4.60M52.50 191.41h-4.60M282.00 191.41h4.60M52.50 184.87h-4.60M282.00 184.87h4.60M52.50 178.32h-4.60M282.00 178.32h4.60M52.50 171.78h-8.80M282.00 171.78h8.80M52.50 165.23h-4.60M282.00 165.23h4.60M52.50 158.69h-4.60M282.00 158.69h4.60M52.50 152.14h-4.60M282.00 152.14h4.60M52.50 145.59h-4.60M282.00 145.59h4.60M52.50 139.05h-8.80M282.00 139.05h8.80M52.50 132.50h-4.60M282.00 132.50h4.60M52.50 125.96h-4.60M282.00 125.96h4.60M52.50 119.42h-4.60M282.00 119.42h4.60M52.50 112.87h-4.60M282.00 112.87h4.60M52.50 106.33h-8.80M282.00 106.33h8.80M52.50 99.78h-4.60M282.00 99.78h4.60M52.50 93.23h-4.60M282.00 93.23h4.60M52.50 86.69h-4.60M282.00 86.69h4.60M52.50 80.14h-4.60M282.00 80.14h4.60M52.50 73.60h-8.80M282.00 73.60h8.80M52.50 67.06h-4.60M282.00 67.06h4.60M52.50 60.51h-4.60M282.00 60.51h4.60M52.50 53.97h-4.60M282.00 53.97h4.60M52.50 47.42h-4.60M282.00 47.42h4.60M52.50 40.88h-8.80M282.00 40.88h8.80" stroke="#161616" stroke-width="1.3" fill="none"/>
<rect x="52.5" y="38" width="229.5" height="176" fill="none" stroke="#111" stroke-width="2.1"/>
<path d="M55.80 311.50v-4.60M55.80 487.50v4.60M62.34 311.50v-4.60M62.34 487.50v4.60M68.89 311.50v-4.60M68.89 487.50v4.60M75.43 311.50v-4.60M75.43 487.50v4.60M81.97 311.50v-8.80M81.97 487.50v8.80M88.52 311.50v-4.60M88.52 487.50v4.60M95.06 311.50v-4.60M95.06 487.50v4.60M101.61 311.50v-4.60M101.61 487.50v4.60M108.16 311.50v-4.60M108.16 487.50v4.60M114.70 311.50v-8.80M114.70 487.50v8.80M121.25 311.50v-4.60M121.25 487.50v4.60M127.79 311.50v-4.60M127.79 487.50v4.60M134.34 311.50v-4.60M134.34 487.50v4.60M140.88 311.50v-4.60M140.88 487.50v4.60M147.43 311.50v-8.80M147.43 487.50v8.80M153.97 311.50v-4.60M153.97 487.50v4.60M160.51 311.50v-4.60M160.51 487.50v4.60M167.06 311.50v-4.60M167.06 487.50v4.60M173.61 311.50v-4.60M173.61 487.50v4.60M180.15 311.50v-8.80M180.15 487.50v8.80M186.69 311.50v-4.60M186.69 487.50v4.60M193.24 311.50v-4.60M193.24 487.50v4.60M199.78 311.50v-4.60M199.78 487.50v4.60M206.33 311.50v-4.60M206.33 487.50v4.60M212.88 311.50v-8.80M212.88 487.50v8.80M219.42 311.50v-4.60M219.42 487.50v4.60M225.97 311.50v-4.60M225.97 487.50v4.60M232.51 311.50v-4.60M232.51 487.50v4.60M239.06 311.50v-4.60M239.06 487.50v4.60M245.60 311.50v-8.80M245.60 487.50v8.80M252.14 311.50v-4.60M252.14 487.50v4.60M258.69 311.50v-4.60M258.69 487.50v4.60M265.24 311.50v-4.60M265.24 487.50v4.60M271.78 311.50v-4.60M271.78 487.50v4.60M278.32 311.50v-8.80M278.32 487.50v8.80M52.50 484.55h-4.60M282.00 484.55h4.60M52.50 478.00h-8.80M282.00 478.00h8.80M52.50 471.45h-4.60M282.00 471.45h4.60M52.50 464.91h-4.60M282.00 464.91h4.60M52.50 458.37h-4.60M282.00 458.37h4.60M52.50 451.82h-4.60M282.00 451.82h4.60M52.50 445.27h-8.80M282.00 445.27h8.80M52.50 438.73h-4.60M282.00 438.73h4.60M52.50 432.19h-4.60M282.00 432.19h4.60M52.50 425.64h-4.60M282.00 425.64h4.60M52.50 419.10h-4.60M282.00 419.10h4.60M52.50 412.55h-8.80M282.00 412.55h8.80M52.50 406.00h-4.60M282.00 406.00h4.60M52.50 399.46h-4.60M282.00 399.46h4.60M52.50 392.92h-4.60M282.00 392.92h4.60M52.50 386.37h-4.60M282.00 386.37h4.60M52.50 379.82h-8.80M282.00 379.82h8.80M52.50 373.28h-4.60M282.00 373.28h4.60M52.50 366.74h-4.60M282.00 366.74h4.60M52.50 360.19h-4.60M282.00 360.19h4.60M52.50 353.64h-4.60M282.00 353.64h4.60M52.50 347.10h-8.80M282.00 347.10h8.80M52.50 340.56h-4.60M282.00 340.56h4.60M52.50 334.01h-4.60M282.00 334.01h4.60M52.50 327.47h-4.60M282.00 327.47h4.60M52.50 320.92h-4.60M282.00 320.92h4.60M52.50 314.38h-8.80M282.00 314.38h8.80" stroke="#161616" stroke-width="1.3" fill="none"/>
<rect x="52.5" y="311.5" width="229.5" height="176" fill="none" stroke="#111" stroke-width="2.1"/>
<text transform="translate(2.26,22.40) scale(0.9529,1)" font-size="24.14">(a)</text>
<text transform="translate(2.41,298.00) scale(0.9855,1)" font-size="24.14">(c)</text>
<text transform="translate(343.33,20.60) scale(1.0492,1)" font-size="24.00">(b)</text>
<text transform="translate(345.19,301.30) scale(1.0018,1)" font-size="24.14">(d)</text>
<text transform="translate(35.78,23.27) scale(0.9950,1)" font-size="18.16">μ&#39;</text>
<text transform="translate(55.53,23.27) scale(1.2425,1)" font-size="18.16">=</text>
<text transform="translate(73.28,23.27) scale(1.1329,1)" font-size="18.16">0.8</text>
<text transform="translate(37.88,297.40) scale(0.9950,1)" font-size="18.16">μ&#39;</text>
<text transform="translate(57.54,297.40) scale(1.2312,1)" font-size="18.16">=</text>
<text transform="translate(75.08,297.40) scale(1.1284,1)" font-size="18.16">0.4</text>
<text transform="translate(24.16,78.45) scale(1.0200,1)" font-size="14.84">10</text>
<text transform="translate(32.15,211.35) scale(1.1007,1)" font-size="14.84">0</text>
<text transform="translate(112.36,240.55) scale(1.0828,1)" font-size="14.70">0</text>
<text transform="translate(237.86,239.15) scale(1.0200,1)" font-size="14.84">10</text>
<text transform="translate(91.25,259.80) scale(1.0088,1)" font-size="18.30">Along Strike (km)</text>
<text transform="translate(15.6,191.85) rotate(-90) scale(1.0106,1)" font-size="18.40">Along Dip (km)</text>
<defs><linearGradient id="cb" x1="0" x2="1" y1="0" y2="0">
<stop offset="0" stop-color="#3a4aa0"/>
<stop offset="0.1" stop-color="#4858ac"/>
<stop offset="0.2" stop-color="#6870be"/>
<stop offset="0.3" stop-color="#9ea0d8"/>
<stop offset="0.4" stop-color="#d2d2f2"/>
<stop offset="0.5" stop-color="#ffffff"/>
<stop offset="0.6" stop-color="#fcd0d4"/>
<stop offset="0.7" stop-color="#faa0a6"/>
<stop offset="0.8" stop-color="#e86a70"/>
<stop offset="0.9" stop-color="#dc4846"/>
<stop offset="1" stop-color="#d03828"/>
</linearGradient></defs>
<rect x="28.1" y="504.8" width="279.6" height="7.4" fill="url(#cb)" stroke="#111" stroke-width="1.4"/>
<path d="M28.10 504.80V517.60M56.06 504.80V517.60M84.02 504.80V517.60M111.98 504.80V517.60M139.94 504.80V517.60M167.90 504.80V517.60M195.86 504.80V517.60M223.82 504.80V517.60M251.78 504.80V517.60M279.74 504.80V517.60M307.70 504.80V517.60" stroke="#222" stroke-width="0.9" fill="none"/>
<text transform="translate(17.48,526.98) scale(0.9951,1)" font-size="12.44">−2.5</text>
<text transform="translate(45.44,526.98) scale(0.9938,1)" font-size="12.44">−2.0</text>
<text transform="translate(73.40,526.97) scale(0.9810,1)" font-size="12.62">−1.5</text>
<text transform="translate(101.36,526.98) scale(0.9938,1)" font-size="12.44">−1.0</text>
<text transform="translate(129.32,526.98) scale(0.9951,1)" font-size="12.44">−0.5</text>
<text transform="translate(160.82,526.98) scale(0.9678,1)" font-size="12.44">0.0</text>
<text transform="translate(188.78,526.98) scale(0.9697,1)" font-size="12.44">0.5</text>
<text transform="translate(216.74,526.98) scale(0.9440,1)" font-size="12.44">1.0</text>
<text transform="translate(244.70,526.97) scale(0.9325,1)" font-size="12.62">1.5</text>
<text transform="translate(272.53,526.98) scale(0.9753,1)" font-size="12.44">2.0</text>
<text transform="translate(300.49,526.98) scale(0.9771,1)" font-size="12.44">2.5</text>
<text transform="translate(313.80,514.80) scale(1.0401,1)" font-size="13.79">(MPa)</text>
<path d="M363.1 65.8V165.4M363.1 66.5H355.1M363.1 92.7H353.2M363.1 164.7H356.0" stroke="#111" stroke-width="1.6" fill="none"/>
<text transform="translate(321.87,72.56) scale(1.0443,1)" font-size="14.42">1.02</text>
<text transform="translate(330.59,99.15) scale(1.0358,1)" font-size="14.84">0.8</text>
<text transform="translate(344.52,171.54) scale(1.0528,1)" font-size="16.11">0</text>
<text transform="translate(321.42,50.80) scale(1.0292,1)" font-size="15.17">(MPa)</text>
<path d="M478.7 56.5V193.6" stroke="#151515" stroke-width="1.35" stroke-dasharray="13.5 17.4" fill="none"/>
<path d="M370.9 92.8H485.0" stroke="#151515" stroke-width="1.35" stroke-dasharray="13.5 17.4" fill="none"/>
<path d="M421.6 165.3H685" stroke="#151515" stroke-width="1.35" stroke-dasharray="13.5 17.4" fill="none"/>
<path d="M369.4 206.9H685" stroke="#111" stroke-width="1.9" fill="none"/>
<path d="M370.3 206.9v7.3M490.6 206.9v7.3M611.0 206.9v7.3" stroke="#111" stroke-width="1.7" fill="none"/>
<path d="M394.4 206.9v3.6M418.4 206.9v3.6M442.5 206.9v3.6M466.6 206.9v3.6M514.7 206.9v3.6M538.8 206.9v3.6M562.9 206.9v3.6M586.9 206.9v3.6M635.1 206.9v3.6M659.1 206.9v3.6M683.2 206.9v3.6" stroke="#1c1c1c" stroke-width="1.0" fill="none"/>
<text transform="translate(366.45,227.45) scale(1.0903,1)" font-size="14.98">0</text>
<text transform="translate(487.39,227.25) scale(1.0113,1)" font-size="15.20">5</text>
<text transform="translate(603.55,228.05) scale(1.0238,1)" font-size="14.98">10</text>
<text transform="translate(508.08,245.50) scale(1.0505,1)" font-size="17.75">Time (s)</text>
<path d="M370.4 164.6C374.5 164.6 388.1 164.6 395.0 164.6C401.9 164.6 408.3 164.5 412.0 164.4C415.7 164.3 415.7 164.2 417.1 164.0C418.5 163.8 419.2 163.6 420.5 163.1C421.8 162.6 423.3 161.9 424.7 161.1C426.1 160.2 427.7 159.1 429.0 158.0C430.3 156.9 431.3 155.9 432.4 154.6C433.5 153.3 434.7 152.0 435.8 150.4C436.9 148.8 438.1 146.8 439.2 144.8C440.3 142.8 441.5 140.8 442.6 138.5C443.7 136.2 444.9 133.8 446.0 131.2C447.1 128.6 448.4 125.7 449.4 123.2C450.4 120.7 451.1 118.8 451.9 116.4C452.7 114.0 453.6 111.2 454.4 108.8C455.2 106.4 455.9 104.2 456.5 102.0C457.1 99.8 457.7 97.2 458.2 95.5C458.7 93.8 459.1 92.8 459.6 92.0C460.1 91.2 460.5 91.1 461.2 90.9C461.9 90.8 462.7 90.9 463.8 91.1C464.9 91.3 466.2 91.8 468.0 92.1C469.8 92.4 473.1 92.6 474.8 92.7C476.5 92.8 476.9 92.9 478.4 92.7C479.9 92.5 482.3 90.7 483.8 91.5C485.3 92.3 486.2 95.3 487.3 97.5C488.4 99.7 489.6 103.1 490.6 104.6C491.6 106.1 492.2 106.4 493.2 106.6C494.1 106.8 495.2 106.5 496.3 106.0C497.4 105.5 498.0 105.0 499.5 103.3C501.0 101.5 503.4 98.7 505.4 95.5C507.4 92.3 509.6 87.6 511.4 84.4C513.1 81.2 514.5 78.0 515.9 76.3C517.2 74.5 518.1 74.5 519.5 73.9C520.9 73.3 522.6 73.6 524.0 72.7C525.4 71.8 526.5 69.8 527.9 68.6C529.3 67.4 531.0 65.9 532.4 65.6C533.8 65.2 535.1 65.5 536.3 66.5C537.4 67.5 538.3 69.3 539.3 71.5C540.3 73.7 541.2 76.8 542.3 79.9C543.4 83.1 544.6 87.3 545.8 90.4C547.0 93.5 548.1 96.3 549.4 98.5C550.6 100.7 551.9 101.6 553.3 103.3C554.7 105.0 556.3 107.2 557.8 108.4C559.3 109.7 560.9 110.7 562.3 110.8C563.7 110.9 564.7 110.7 566.2 109.3C567.7 107.9 569.4 105.2 571.3 102.4C573.1 99.7 575.5 95.5 577.3 92.8C579.0 90.0 580.3 87.7 581.8 85.9C583.3 84.2 584.8 83.0 586.3 82.3C587.8 81.5 588.5 81.4 590.7 81.4C592.9 81.4 597.5 81.5 599.7 82.3C602.0 83.0 602.5 84.7 604.2 85.9C606.0 87.2 608.5 88.0 610.2 89.8C612.0 91.5 613.2 94.1 614.7 96.4C616.2 98.8 618.0 102.5 619.2 103.9C620.5 105.3 621.0 105.2 622.2 104.8C623.5 104.4 625.2 102.7 626.7 101.5C628.2 100.3 629.4 98.7 631.1 97.9C632.8 97.1 635.1 96.8 637.1 96.7C639.1 96.6 640.9 97.1 643.1 97.5C645.4 97.9 647.9 99.0 650.6 99.3C653.4 99.6 656.1 99.6 659.6 99.6C663.1 99.6 668.2 99.4 671.6 99.3C675.0 99.2 678.5 99.0 679.9 99.0" fill="none" stroke="#0a0a0a" stroke-width="3.6" stroke-linejoin="round" stroke-linecap="butt"/>
<path d="M362.9 394.1V439.7M362.9 394.8H353.7M362.9 412.0H353.7M362.9 439.0H353.7" stroke="#111" stroke-width="1.6" fill="none"/>
<text transform="translate(319.58,401.45) scale(1.0455,1)" font-size="14.84">0.46</text>
<text transform="translate(329.08,417.75) scale(1.0562,1)" font-size="14.70">0.3</text>
<text transform="translate(343.15,446.85) scale(1.1007,1)" font-size="14.84">0</text>
<text transform="translate(321.22,380.60) scale(1.0782,1)" font-size="14.48">(MPa)</text>
<path d="M479.4 384.8V488.2" stroke="#151515" stroke-width="1.35" stroke-dasharray="13.5 17.4" fill="none"/>
<path d="M372.5 412.5H480.5" stroke="#151515" stroke-width="1.35" stroke-dasharray="13.5 17.4" fill="none"/>
<path d="M422.4 439.3H685" stroke="#151515" stroke-width="1.35" stroke-dasharray="13.5 17.4" fill="none"/>
<path d="M369.6 481.1H685" stroke="#111" stroke-width="2.2" fill="none"/>
<path d="M370.5 481.1v7.4M491.2 481.1v7.4M612.0 481.1v7.4" stroke="#111" stroke-width="1.7" fill="none"/>
<path d="M394.6 481.1v3.8M418.8 481.1v3.8M442.9 481.1v3.8M467.1 481.1v3.8M515.4 481.1v3.8M539.5 481.1v3.8M563.7 481.1v3.8M587.9 481.1v3.8M636.1 481.1v3.8M660.3 481.1v3.8M684.5 481.1v3.8" stroke="#1c1c1c" stroke-width="1.0" fill="none"/>
<text transform="translate(367.35,502.25) scale(1.0701,1)" font-size="15.27">0</text>
<text transform="translate(488.20,501.75) scale(1.1608,1)" font-size="15.05">5</text>
<text transform="translate(605.88,502.25) scale(1.0065,1)" font-size="14.84">10</text>
<text transform="translate(509.49,520.50) scale(1.0275,1)" font-size="17.90">Time (s)</text>
<path d="M370.4 439.3C374.5 439.3 388.1 439.3 395.0 439.3C401.9 439.3 407.3 439.4 411.6 439.2C415.9 438.9 418.2 438.5 421.0 437.8C423.8 437.1 426.4 436.2 428.4 435.1C430.5 434.0 431.7 433.0 433.3 431.4C434.9 429.8 436.4 427.8 438.2 425.3C440.0 422.9 442.4 419.4 444.3 416.7C446.2 414.0 448.0 411.9 449.7 409.4C451.4 406.9 453.2 403.8 454.6 401.5C456.0 399.2 457.3 397.0 458.3 395.9C459.3 394.8 459.9 394.4 460.7 394.6C461.5 394.8 462.2 396.0 463.2 397.1C464.2 398.2 465.4 400.3 466.8 401.5C468.2 402.7 470.1 403.2 471.7 404.4C473.3 405.6 475.0 407.5 476.7 408.9C478.4 410.3 480.2 411.3 481.6 413.0C483.0 414.7 483.8 416.1 484.8 419.2C485.8 422.3 486.7 426.9 487.7 431.4C488.7 435.9 489.6 441.9 490.6 446.2C491.6 450.5 492.7 454.5 493.8 457.2C494.9 459.9 496.0 461.2 497.0 462.1C498.0 463.1 498.9 463.1 500.0 462.9C501.1 462.7 502.3 462.5 503.7 460.9C505.1 459.3 507.2 456.4 508.6 453.5C510.0 450.6 511.0 446.6 512.2 443.7C513.4 440.8 514.7 437.9 515.9 435.9C517.1 433.9 518.1 433.2 519.6 431.9C521.1 430.6 523.3 429.6 524.9 427.9C526.5 426.2 527.9 423.4 529.4 421.9C530.9 420.4 532.4 419.3 533.9 418.9C535.4 418.5 537.0 418.5 538.4 419.5C539.8 420.5 541.0 422.8 542.3 424.9C543.6 427.0 545.1 430.5 546.4 432.4C547.7 434.3 548.9 435.1 550.3 436.3C551.7 437.5 553.3 438.4 554.8 439.3C556.3 440.2 557.8 441.5 559.3 442.0C560.8 442.5 562.3 442.7 563.8 442.3C565.3 441.9 566.8 441.0 568.3 439.9C569.8 438.8 571.0 437.4 572.8 435.4C574.5 433.4 576.8 429.8 578.8 427.9C580.8 426.0 582.6 424.9 584.8 424.0C587.0 423.1 589.7 422.6 592.2 422.5C594.7 422.4 597.2 422.8 599.7 423.4C602.2 424.0 605.0 425.4 607.2 426.4C609.5 427.4 611.5 428.1 613.2 429.4C615.0 430.6 616.2 432.4 617.7 433.9C619.2 435.4 620.7 437.4 622.2 438.4C623.7 439.4 625.0 439.8 626.7 439.9C628.4 440.0 630.1 439.4 632.6 439.0C635.1 438.6 638.1 437.8 641.6 437.5C645.1 437.2 649.6 437.3 653.6 437.2C657.6 437.1 662.4 437.0 665.6 436.9C668.9 436.8 670.7 436.6 673.1 436.3C675.5 436.1 678.8 435.5 679.9 435.4" fill="none" stroke="#0a0a0a" stroke-width="3.6" stroke-linejoin="round" stroke-linecap="butt"/>
</svg></body></html>
